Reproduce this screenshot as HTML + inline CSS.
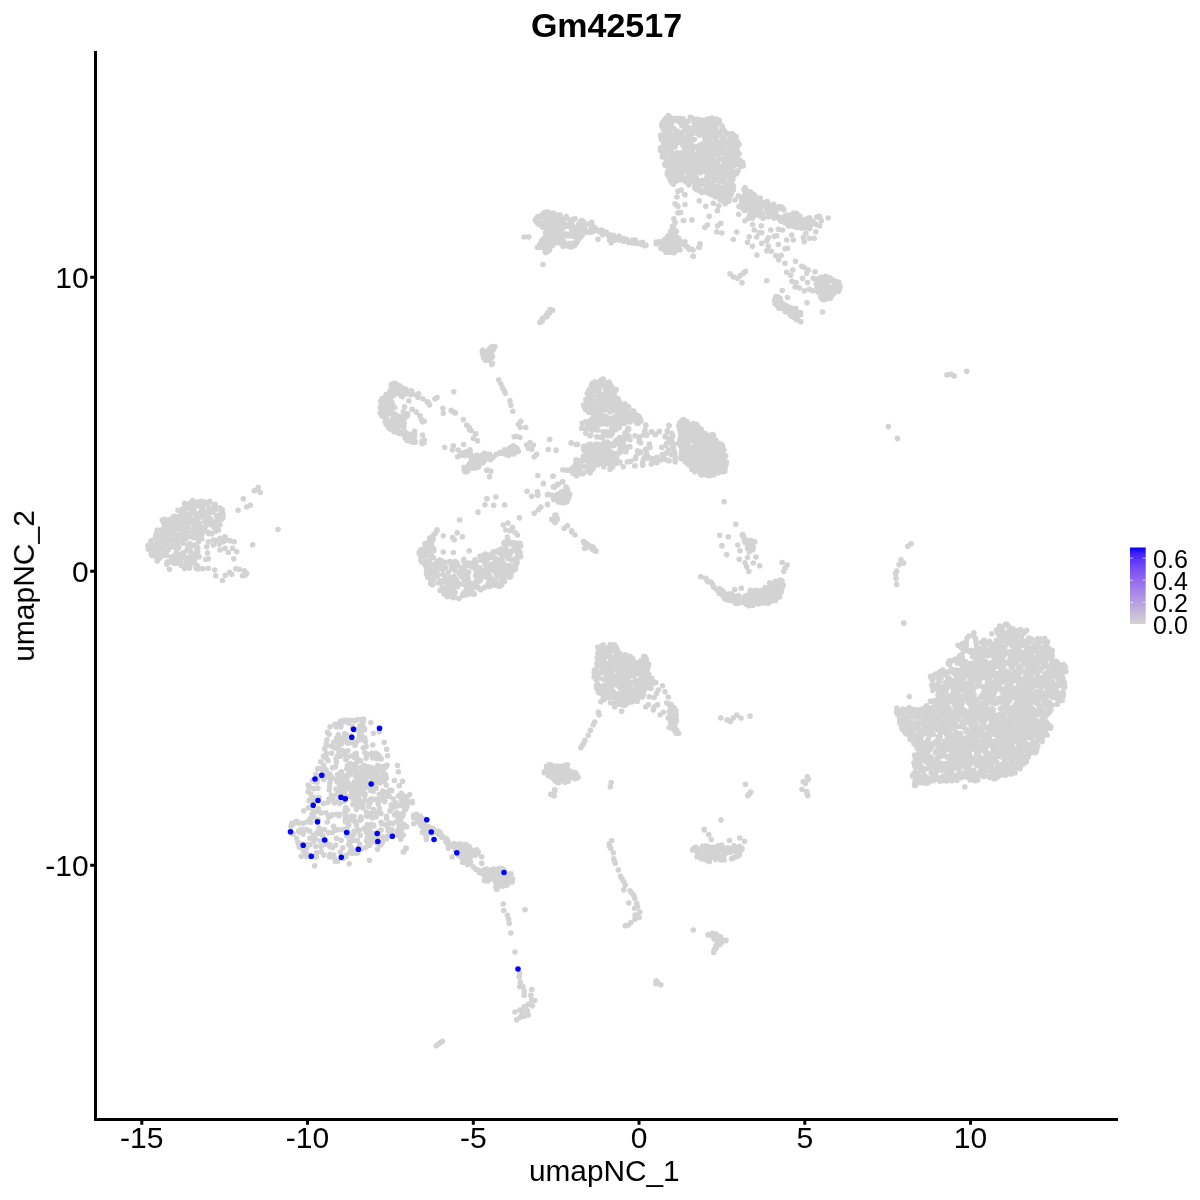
<!DOCTYPE html>
<html><head><meta charset="utf-8"><title>Gm42517</title>
<style>
html,body{margin:0;padding:0;background:#fff;}
svg{display:block}
text{font-family:"Liberation Sans",sans-serif;fill:#000}
</style></head><body>
<svg width="1200" height="1200" viewBox="0 0 1200 1200">
<defs><linearGradient id="lg" x1="0" y1="0" x2="0" y2="1"><stop offset="0.0000" stop-color="#0000ff"/><stop offset="0.0833" stop-color="#4322fc"/><stop offset="0.1667" stop-color="#5e36f9"/><stop offset="0.2500" stop-color="#7248f6"/><stop offset="0.3333" stop-color="#8258f3"/><stop offset="0.4167" stop-color="#9068ef"/><stop offset="0.5000" stop-color="#9d77ec"/><stop offset="0.5833" stop-color="#a886e8"/><stop offset="0.6667" stop-color="#b296e4"/><stop offset="0.7500" stop-color="#bba5e0"/><stop offset="0.8333" stop-color="#c4b4dc"/><stop offset="0.9167" stop-color="#ccc4d8"/><stop offset="1.0000" stop-color="#d3d3d3"/></linearGradient></defs>
<rect width="1200" height="1200" fill="#fff"/>
<path d="M723.3 138h0M700.7 155.1h0M713.8 185h0M666.8 118h0M729.4 153.6h0M696.4 179.1h0M677.1 152.7h0M661.3 135h0M695.8 159.2h0M678.5 135.8h0M677.3 156h0M729.5 164.5h0M713 131.9h0M669.1 144.8h0M719.7 178.2h0M737.8 152.7h0M728.9 174.6h0M684.5 167.3h0M733.3 190.1h0M701.5 167.4h0M661.8 136.9h0M726.1 152h0M673.5 163.9h0M718.2 174.9h0M690.5 154.2h0M701.8 184.1h0M702.8 150.2h0M692.1 130.5h0M723.9 163.1h0M731.4 136h0M707.6 156h0M681.6 163.8h0M725 187.8h0M727.1 161.2h0M706.2 153h0M706.9 133.1h0M701.4 158.2h0M689 146h0M704.3 170.4h0M710.5 155.9h0M661.2 135.7h0M673.8 167h0M731.5 185.9h0M726.1 187.5h0M715.6 122.8h0M722.6 137.5h0M668.1 170.6h0M687.9 121.6h0M672.3 162h0M673.1 139.5h0M718.9 155.6h0M686 157.2h0M660.9 149.6h0M694.4 132.1h0M701.9 133.9h0M710 187.5h0M671.2 178.9h0M672.4 177.6h0M716.1 163.5h0M726.2 161h0M677.7 172.7h0M692.2 166.2h0M686 171.1h0M663.8 141.8h0M721.6 152.2h0M728 200.3h0M707 130.6h0M718.2 160.3h0M690.8 146.1h0M676.2 174.9h0M695.4 132.6h0M683.8 159.5h0M675.8 144.4h0M687.5 134.3h0M715.8 189.3h0M737.5 145.8h0M733.3 176.1h0M678.7 179.4h0M666 130.4h0M722.9 168.4h0M729.8 147.9h0M687.6 141.2h0M732 168.7h0M670.3 164.1h0M667.7 118.9h0M725.3 188.5h0M687.6 169.7h0M724.8 148.8h0M707 135.2h0M665.8 139h0M734 165.2h0M736.9 155.8h0M715.4 123.6h0M662.3 136.6h0M668.6 130.2h0M735.6 141.4h0M680.2 157.5h0M667.3 173h0M709.2 155.1h0M685.3 121h0M677 169.9h0M741.5 163.3h0M716.9 173.8h0M680.7 163.2h0M684.8 137.2h0M665.7 140.2h0M713.9 172.2h0M684.7 144.3h0M734.2 142.2h0M687.1 163.5h0M707.7 168h0M679.4 121.9h0M705.4 121.7h0M700.5 191.5h0M671.9 159.7h0M724.3 202.3h0M728.2 143.7h0M667.9 160.8h0M736.4 141.4h0M726.7 195.5h0M729.8 181.3h0M717 131.2h0M695.4 129.4h0M719.2 174.4h0M680.2 121.2h0M705.2 163.2h0M730.7 155.4h0M692.2 145.3h0M713.4 152.2h0M707 121h0M688.8 127.7h0M669.4 138.3h0M728.8 150.6h0M692.7 169.5h0M703.5 159.6h0M713.6 154.1h0M716.8 180h0M679 159.1h0M699.3 135.3h0M693.6 164.9h0M682.1 172.5h0M662.9 121.8h0M672.3 183h0M733.3 143h0M717.3 190.3h0M690.2 177.3h0M721 167.9h0M731.1 194.5h0M739.8 165.8h0M673.7 137.6h0M677.2 165.7h0M716.4 178.7h0M688.2 160.9h0M672.8 179.8h0M727 170.9h0M724.3 189.7h0M714.5 177.2h0M726.6 153.6h0M672.8 144.2h0M709.5 151.5h0M668.8 141.5h0M711.8 168.9h0M729.3 133.7h0M682.9 163.3h0M681.9 167.1h0M680 175.7h0M725.6 186.8h0M741 163.6h0M700.3 190.9h0M723.7 165.8h0M691.2 140.5h0M723.1 201.3h0M670.4 159.6h0M707.2 142.9h0M701.3 146.9h0M696.2 155.1h0M684.6 150.7h0M724.9 175.7h0M700.4 172.6h0M690.7 133.5h0M709.3 193.2h0M728.8 160.5h0M729.3 151.5h0M684.6 130.5h0M711.2 162.3h0M691.7 153h0M708.2 180.2h0M700.4 181.2h0M712.9 172.7h0M712 151.4h0M711.9 171.3h0M730.2 183.1h0M727.6 168.9h0M688.3 138.8h0M718.6 192.5h0M704.8 128.9h0M729.1 158.2h0M698.3 119.5h0M701.9 181.1h0M694.5 146.8h0M717.1 150.9h0M717 168.8h0M676.5 133.8h0M733.6 139.2h0M703 147.9h0M702 180.4h0M673.1 173.1h0M719 187.3h0M681.6 169.2h0M678.5 164.9h0M732 144.5h0M718.5 189.9h0M711.4 143.4h0M695.3 182.6h0M725.1 132.2h0M711.7 130.1h0M710 138.6h0M703.3 127.7h0M670.5 178.6h0M689.3 181.7h0M679.2 178.8h0M719.5 142.4h0M667.8 150.5h0M700.4 124.3h0M674.6 120.4h0M709.3 193.8h0M677.1 118.5h0M718.2 187.3h0M668.8 176.5h0M666.9 150.7h0M700.6 148.8h0M673.1 135.9h0M728 156.3h0M707.8 134.2h0M719.2 144.6h0M726.1 191.1h0M685.8 149.3h0M722.8 128.9h0M671.1 174.1h0M663.7 148.9h0M669.8 156.3h0M729.7 195.4h0M681.9 125.8h0M666.6 117.9h0M712.6 181.1h0M716.8 190h0M714.8 149.8h0M713 136.9h0M708.7 146.3h0M709.9 164.9h0M702.9 120.8h0M688.7 151.9h0M694.6 173.9h0M719 181h0M719.7 181.8h0M730.9 190.6h0M663.3 123.5h0M727.4 156.8h0M696.3 126.8h0M692.2 177.9h0M703.1 123.5h0M661.8 149.4h0M720.7 143.1h0M726.9 190.9h0M684.5 152.9h0M679.6 164.6h0M686.7 145.3h0M725 199.8h0M708.1 124.7h0M713.9 155h0M729.3 177.3h0M729 141.2h0M672.1 148.1h0M702.8 124.1h0M688 166.2h0M713.8 143.1h0M684 146.6h0M686.3 181.5h0M701.1 161.9h0M686.3 144.4h0M727.7 197.1h0M670.2 161.7h0M725 177.4h0M721.8 147.4h0M692.8 156.4h0M741.5 162.4h0M673 128.6h0M716.8 165.1h0M693.5 179.7h0M663.1 124.2h0M704.9 138.9h0M667.9 138.6h0M712.2 161.9h0M665.5 121.9h0M730.6 172.2h0M660.7 147.9h0M730.4 178.1h0M709.3 191.8h0M734.2 153h0M715.8 163.5h0M720.1 187.2h0M675.9 181.3h0M723.8 160.8h0M700 151.1h0M733.3 185.7h0M708.2 119h0M730.7 155.9h0M674.9 141.9h0M669 142.2h0M740.7 163.4h0M707.1 164.1h0M703.2 163.3h0M727.9 199.5h0M693.3 171h0M684.8 142.1h0M701.6 167.2h0M672.6 171.6h0M706.6 148h0M734.4 174.5h0M730.2 149.3h0M698 185.6h0M690.3 181.5h0M699.5 145.2h0M697.3 125.8h0M688.8 152.1h0M708.6 140.8h0M702.2 180.7h0M717.2 153.7h0M724.4 158.3h0M719.2 158.8h0M666.6 126.9h0M661.1 137.8h0M692.5 179.3h0M705.2 162.6h0M705.5 152.5h0M715.5 125.9h0M681.3 140.1h0M699.3 185.4h0M731.2 184.8h0M716 123.2h0M691.7 174.4h0M683.7 160.2h0M675.8 161.4h0M704.8 134.4h0M722.9 145.2h0M681.4 163.1h0M696 182.5h0M729.9 135.6h0M682 177.7h0M693.6 127h0M675.3 164.9h0M703.8 169.2h0M671.4 152h0M682.5 176.8h0M681.4 134.4h0M689.9 157h0M687.4 168.9h0M717.4 162.6h0M663.8 144.2h0M717.1 172.3h0M727.3 194.1h0M685.5 159h0M686.7 126.8h0M670.7 138.1h0M666.3 163h0M718.2 165.1h0M716.6 135.4h0M675.7 165.5h0M733.4 152.7h0M684.6 169.7h0M666 135.3h0M687.6 168.5h0M686.7 127.8h0M716.3 119.1h0M667.6 143.4h0M681.6 119.9h0M712.7 136.8h0M716.2 139.6h0M702.3 143.9h0M726.6 172h0M730 168.9h0M732.3 151.2h0M716.1 170.2h0M703.4 165.2h0M704.1 150.2h0M734.6 171.3h0M705.2 120.2h0M701.8 130.9h0M677 153.8h0M704.9 137.6h0M681.7 162.2h0M698.8 151h0M667.6 148.4h0M714.1 163.5h0M704.8 189.9h0M719.9 175.8h0M716.4 129.2h0M733 134.5h0M729.8 190.3h0M691.1 154.2h0M668.8 168.5h0M681.6 174.3h0M726.3 168.7h0M736.4 172.2h0M690.9 165h0M733.3 156h0M724.6 168.2h0M693.3 168.9h0M663.4 157h0M668.2 127.8h0M701.7 146.9h0M735.5 173.2h0M726.5 187.7h0M679.1 165.1h0M689 129.5h0M724.4 196.3h0M688.1 173.4h0M663.6 153.8h0M690.6 141.4h0M727.7 154.4h0M717.8 171.5h0M702.6 120.4h0M715.6 194.1h0M673.4 172.1h0M700 145.5h0M673.6 178.7h0M667.3 145.1h0M725 156.1h0M698.6 158.9h0M724.1 179.2h0M675.2 154.3h0M704.6 165.9h0M671.5 148.6h0M668.1 117.8h0M665.2 131.6h0M723.5 174.3h0M726.2 140.9h0M728.5 198.9h0M660.5 150.4h0M712.3 180.4h0M735.8 162.9h0M726.7 202.1h0M735.4 173.9h0M687.8 136.6h0M724.2 197.9h0M708.2 160.7h0M694.9 185.5h0M717.9 176.4h0M714 162.8h0M668.9 172.2h0M691.5 164.8h0M713 157.7h0M685.2 140h0M693.9 167.9h0M685.7 162.6h0M696.7 159.7h0M694.1 130.3h0M692.2 149.8h0M689.2 128.8h0M706.7 190h0M724.7 170.3h0M720.5 145.1h0M670.9 138h0M688.3 140.1h0M698.3 128.6h0M669.9 137.8h0M704.2 133h0M707.6 164.3h0M691.9 132.7h0M711.6 122.3h0M721.8 149.2h0M716.4 167.6h0M669.8 163h0M665.1 136.7h0M691.1 140.7h0M677.9 178h0M688.2 162.7h0M676.5 156.3h0M708.9 169.7h0M722.5 138h0M712.3 137.2h0M676.4 160.2h0M718.6 187.7h0M670.2 178.6h0M669.1 133.3h0M723.2 148.8h0M699.5 169.6h0M681.4 171.8h0M715.5 196.7h0M701.3 190.9h0M694.4 139.5h0M669.8 164.8h0M697.2 119.4h0M716.1 119.2h0M694.5 154.4h0M674.9 160.4h0M702.9 132.9h0M697.5 189h0M673.8 128.5h0M735.3 140.7h0M726.1 189.7h0M713.4 150.2h0M735.3 157h0M737.7 164.2h0M735.6 157.5h0M694.9 167.4h0M685.6 128.7h0M708.6 190.5h0M725.3 183.9h0M725.6 166.2h0M668.4 166.1h0M687.3 148h0M705.3 171.7h0M708 158.2h0M712.4 190.2h0M696.5 159.6h0M672.4 144.1h0M671.4 125h0M685.6 160.3h0M730.7 169.2h0M712.1 187.8h0M705.3 166.1h0M711 122.1h0M681.4 122.8h0M682.7 179.5h0M681 134h0M682.2 157.8h0M721.1 142h0M696.2 147.6h0M685.5 181.6h0M708.5 174h0M732.5 152.9h0M668.6 126.9h0M708.4 126.3h0M681.4 132.8h0M719.9 134.9h0M680.2 164.1h0M676.5 140.9h0M700.2 148.2h0M691.9 173.1h0M675.3 131.5h0M716.6 141.7h0M737.6 153.1h0M711.6 174.1h0M718.6 145.8h0M665.1 152.5h0M718 186.4h0M706.4 164h0M701.1 157.6h0M716.3 166.2h0M731.2 155.2h0M698.6 188.8h0M715.9 161.7h0M706.4 186.5h0M710.1 138.3h0M685 168.8h0M662.7 155.8h0M734.1 135.9h0M696.3 177.1h0M711.7 149.3h0M695.8 172.1h0M688.9 184.7h0M721.5 142.5h0M708.6 184.9h0M732.3 133.9h0M665.8 126.1h0M669.7 176.4h0M718 131.6h0M723.5 159.9h0M707.3 147.7h0M683.6 152.5h0M703.3 156.2h0M710.1 169.9h0M712 136.9h0M692.2 134h0M721.6 193h0M684.8 159.4h0M690.1 164.3h0M732.6 160.7h0M685.7 168.7h0M708.1 141.3h0M705.1 139.8h0M666.2 158.8h0M721.9 181.5h0M690.3 135.8h0M667.5 160.9h0M702 126.9h0M675.8 141.5h0M705.3 137.6h0M678.6 134.1h0M733.7 136.5h0M705.7 155.4h0M686.8 151.3h0M712.9 182.6h0M677.3 131h0M725.9 192.9h0M671.5 119.3h0M683 145.8h0M708.6 154.5h0M725.8 174.1h0M668.9 133.3h0M721.8 125.7h0M677.4 140.7h0M680.1 152.8h0M679.8 118.3h0M680.1 132.7h0M688.4 155.5h0M732.6 173.6h0M710.8 191.7h0M691.5 153h0M709.9 125.5h0M733.5 162.4h0M722.5 148.1h0M697.4 146.5h0M692.3 157h0M673 165.5h0M732.4 178.2h0M671.5 155.8h0M711.8 127.4h0M678.7 172.3h0M685 153.2h0M716.6 121.6h0M674.6 162.6h0M675 146.9h0M740 160.2h0M732.3 191.1h0M724.8 170.8h0M715 145.6h0M661.6 139.4h0M676.6 137.3h0M730.4 144.3h0M692.9 147.2h0M667.1 127.4h0M670.8 135.6h0M685.1 160.5h0M734.9 163h0M735.1 163.3h0M707.9 157.4h0M702.1 146.8h0M695.4 122h0M670.1 133.8h0M672.7 147.5h0M663 147.2h0M710.3 175.2h0M713.2 132.8h0M687.8 166.2h0M729.5 174.6h0M685.5 157.8h0M689.8 164.8h0M670.3 121.5h0M685.8 180.9h0M709.9 194h0M707.2 157.9h0M693.9 121.8h0M674.1 144.4h0M680.2 142.5h0M683.7 171.3h0M663 153.5h0M688.9 173.1h0M706.6 166.3h0M710.2 175h0M686.1 146.5h0M692.4 161.5h0M706.7 192.5h0M692.3 155.1h0M729.1 201.1h0M679.4 179.9h0M706.9 177.2h0M706.4 159.3h0M706.3 180.9h0M672.8 167.4h0M728.2 154.1h0M716.9 173.9h0M684.5 123.3h0M722.8 147h0M672.5 154.5h0M729.1 199.6h0M673.5 158.7h0M714.1 160.4h0M669.3 138.6h0M710.9 142.6h0M705.6 153.2h0M697.5 164.2h0M673.2 169.8h0M725.3 140.4h0M690.9 173.2h0M720.8 170h0M695.9 187.3h0M696.2 189.1h0M667.1 149.6h0M696.3 131.5h0M724.3 130.8h0M709.3 131.4h0M724.3 164.5h0M730.5 154.4h0M663.4 156.8h0M737.3 156.5h0M701.7 130h0M704.5 153.1h0M699.2 128.6h0M710.4 135.3h0M727.3 134.5h0M667.6 124.6h0M663.3 128.9h0M690.5 143.8h0M700 154.7h0M721.3 142.2h0M707.9 143.1h0M722.4 130.8h0M700.1 154.8h0M697.6 162.9h0M704.1 143.4h0M728.4 199.4h0M706 171.5h0M719.9 143.7h0M708.8 156.3h0M699.7 150.2h0M704.1 134.7h0M679.2 133.1h0M709 137.1h0M702 192.6h0M707.6 192.3h0M739.1 144.6h0M737.1 150.4h0M661.6 124.7h0M729.9 192h0M665.5 133.2h0M665.3 119.1h0M732.8 174.8h0M718.2 121h0M663.4 127.9h0M683 119.4h0M711.7 195h0M667.7 164.5h0M734.9 146.9h0M707.3 119.4h0M697.5 189.1h0M711.8 118.1h0M682.9 118.8h0M660.8 135.5h0M668.6 118.6h0M718.5 120.4h0M671 177.7h0M662.3 127h0M712.9 194.6h0M680.6 178h0M665.4 165.5h0M683.9 178.1h0M664.7 163.7h0M734.7 148.2h0M674.2 118.4h0M696.5 189.8h0M732.1 189.4h0M710.6 194.1h0M664.2 134.9h0M669.6 173.3h0M668.4 115.5h0M735.5 154.5h0M664.3 136.6h0M688 180.3h0M662.7 124.4h0M720 199.8h0M703.6 191.7h0M729.7 135.6h0M732.3 184.9h0M742.6 162.2h0M722.2 126.7h0M665.8 128.3h0M679 180h0M730.8 195.1h0M686.1 178.4h0M719.4 123.3h0M720.7 197.5h0M724.6 199h0M660.7 135.4h0M694.8 188.1h0M702 120.4h0M738 170.7h0M673.5 184.1h0M733.6 172.9h0M692.1 118h0M725.2 203.7h0M667.5 174.6h0M729.7 135.7h0M690.2 117.2h0M670.4 180.6h0M670 117.5h0M732.9 179.2h0M675.5 119.5h0M717 194.5h0M738.1 143.1h0M714.8 193.8h0M667.7 166h0M686.5 182.2h0M736.1 136.8h0M720.6 196.6h0M664.9 154.2h0M740.9 166.5h0M719.2 120.4h0M735.1 172.2h0M742.9 164.7h0M662.3 156.7h0M739.2 153.7h0M737.6 141.9h0M678 191.2h0M681.2 190h0M684.5 194.5h0M677 197h0M675 203.8h0M678 206.2h0M676.2 205h0M685 204.5h0M678 213h0M680 212.5h0M673.8 218.8h0M675 222.5h0M683.8 220.5h0M691.8 220h0M672.5 226.2h0M673.8 230h0M672 233.8h0M659.5 241.7h0M662.9 243.4h0M675.2 239.8h0M669.9 251h0M667 247.4h0M673.2 243.1h0M676 239.7h0M672.1 251.3h0M672 252.6h0M663.6 249.1h0M678.6 238.6h0M669.7 234.8h0M662.4 242.9h0M668.6 252.1h0M670.9 230.8h0M677 242.4h0M672 232.2h0M675.1 242.6h0M660.9 248.2h0M672.1 235.6h0M676.8 237h0M665.3 241h0M670.2 243.2h0M667.9 243.9h0M678 240.7h0M664.5 246.8h0M679 241.1h0M664.1 242.8h0M669.7 239.5h0M671.1 236.2h0M671.8 247.3h0M668.8 235.3h0M662.9 243.2h0M673.5 226.9h0M668.2 247.2h0M674.4 233h0M675.2 238.7h0M675.7 231h0M662.1 244.8h0M676.5 239.1h0M674.5 250.2h0M674.5 244.5h0M674.4 236h0M674.1 233.9h0M672.8 250.1h0M670.7 241h0M677 246h0M676.9 242.7h0M670.7 241.2h0M669.3 235.9h0M665.8 248.6h0M667.3 249.6h0M677.5 249.3h0M669.8 250.9h0M664.3 239.7h0M662.4 244.7h0M668.6 236.5h0M656.4 242.1h0M672.1 237h0M663 243.5h0M674.7 237.4h0M656.2 244h0M678.8 244.4h0M673.6 229.8h0M675.4 251.1h0M666.1 252.3h0M670.1 248.7h0M676.5 231.3h0M667.5 236.5h0M675.1 247.3h0M676.3 242.9h0M673.2 226.3h0M661.9 244h0M666.5 241.9h0M679.1 248.4h0M668.5 236.7h0M668.8 239.4h0M674.4 252.6h0M684.5 242.5h0M686.2 246.2h0M690 248.8h0M693 250h0M698.8 247.5h0M700 243.8h0M693 256.2h0M572.8 243.3h0M563.3 221.6h0M568 235.9h0M535.2 220.3h0M547.3 220.2h0M547 252h0M589.6 223.9h0M556.7 218h0M543.4 213.6h0M553 237.2h0M555.2 224.3h0M584.9 231.8h0M553.9 231.8h0M557 236.1h0M545.6 252.6h0M546.5 243.9h0M555.7 226.3h0M566.8 244.7h0M541.1 243.6h0M568 224.5h0M553.9 218.5h0M539.2 217.3h0M544.4 212.9h0M559.4 221.2h0M571.1 247h0M562.5 229.2h0M573.3 245.3h0M543.6 247.8h0M552.6 230.6h0M594.6 230.6h0M564.5 242.7h0M564 223.5h0M559.3 217.2h0M565.2 225.6h0M539.9 222.7h0M575.4 244h0M556.8 241.6h0M551.7 232h0M574.5 236.2h0M549.9 240.2h0M563 246.5h0M574.4 245.7h0M555.9 239h0M566.4 234h0M544.6 247.4h0M592.3 231.7h0M577.1 242.3h0M575.5 229.2h0M572.9 244.7h0M561.6 239.2h0M547.9 240.8h0M563.5 220.7h0M537.7 216.6h0M554 218.7h0M546.3 212.3h0M563.1 227.4h0M549.1 250.3h0M551.6 228.7h0M541.5 247.2h0M568.1 225.6h0M584.9 229.1h0M557.2 217h0M571.2 235.5h0M572 226.2h0M557.6 229.7h0M548.4 223.5h0M594.4 227.4h0M571.2 222.2h0M560 224.8h0M552.1 231.7h0M561.8 223.6h0M582.7 221.5h0M550.9 217.6h0M571.9 231.6h0M581.3 223.9h0M567.3 225.5h0M552.7 234h0M563.1 226.6h0M580.4 236.6h0M536.6 221.8h0M560.8 236h0M578.1 238.5h0M558.2 227.9h0M538.5 247.4h0M577.3 229.7h0M552.1 245h0M563.9 234.8h0M565.1 225.3h0M548.6 246.7h0M559.9 217.8h0M569.9 243.3h0M561 224.6h0M571.4 232.2h0M592.3 227.2h0M543.7 238.4h0M550.6 234.9h0M550.1 243.6h0M566.3 216.6h0M548.9 227h0M578.4 239.5h0M540 216.2h0M571.1 221.2h0M588.5 231.8h0M537.7 217.4h0M548.2 215.9h0M573 226.3h0M548.9 225.4h0M572.3 226h0M558.2 216.7h0M584.1 229.8h0M571 235.9h0M580.1 228.1h0M546.9 212.5h0M589.3 231.8h0M572.6 229.5h0M543.9 217.7h0M557.5 227.7h0M550.1 222.9h0M544.4 223.3h0M548.9 231.9h0M576.8 240.3h0M552.4 240.3h0M546.8 211.9h0M548.6 214.2h0M556.9 224.4h0M563.3 223.2h0M544.5 221.3h0M574.3 229.6h0M566.4 226.1h0M589.9 232.3h0M549.4 213h0M550.2 228.6h0M553.3 213h0M545.5 233.1h0M559.2 234h0M539.6 224.5h0M564.4 235.8h0M557.6 238.2h0M553.4 230.4h0M541.5 224.4h0M539.8 244.6h0M585 224.5h0M542.4 214.4h0M549.5 214.5h0M560.9 236h0M549.5 213.5h0M546.7 223.3h0M557.5 215.1h0M560.4 224.5h0M580.8 235.1h0M581.3 235.9h0M550.9 246.3h0M558 216.5h0M538.5 218.2h0M550.6 240.4h0M552 213.6h0M581.5 235.2h0M542.4 226.4h0M572.2 220.9h0M560.9 226.6h0M570.5 247h0M567.1 218.3h0M578.2 230.3h0M541.7 224.7h0M590.9 231h0M561.2 230.1h0M584.7 229.1h0M558.6 220.2h0M551.5 219.6h0M569.1 226.4h0M580.8 221.4h0M556.1 221.6h0M559.1 217h0M585.7 232.2h0M536.7 218.2h0M583.6 225h0M572.9 245.8h0M545.8 227.8h0M553.7 227.5h0M563.8 241.6h0M577.2 240.1h0M567.5 245.8h0M556.8 236.8h0M576.3 233.6h0M551.9 214.2h0M570.2 244h0M578.5 224.2h0M591.8 222.8h0M580 237.5h0M547.3 233.4h0M558.5 218.6h0M558.3 215.5h0M576.9 235h0M578.5 227.2h0M553.3 222.5h0M544.7 238.5h0M581.7 220.6h0M579.3 229h0M560.7 233.9h0M590.2 224h0M562.6 240.8h0M545.6 228.4h0M561 240.5h0M583.6 233.2h0M541.6 240.9h0M547.5 238.7h0M578.9 237.3h0M552.6 245.5h0M557.5 239.5h0M593.5 230h0M560 216h0M547.8 249.3h0M595.3 229h0M545.3 241.8h0M572 221.2h0M564.6 243.1h0M574.1 243.5h0M591.1 226.6h0M546 248.4h0M544.7 215.4h0M537.9 223.7h0M572.6 219.3h0M554.8 242.9h0M542.5 226.9h0M539.9 225h0M549.5 250.1h0M547.2 229.8h0M554.6 240.5h0M577.6 235.7h0M581.7 236h0M558.9 243h0M564.5 218.7h0M543.1 244.7h0M537.4 247.2h0M575.2 218.8h0M583.7 221.9h0M560 215.1h0M579.2 238.1h0M541.2 244.1h0M565.7 244.1h0M545.2 251h0M550.3 242.9h0M591.5 222.4h0M591.7 225.5h0M545.3 226h0M554.1 215h0M592.1 226.4h0M524.2 237h0M528.8 237h0M543 264.5h0M598 239.2h0M611.2 243h0M609.5 240h0M599.4 231.6h0M598.2 230.3h0M600 230.9h0M602.2 231.7h0M603 231.3h0M601.6 230.1h0M602.4 234.7h0M606.3 232.3h0M607.6 234.2h0M609 235.5h0M608.2 235.5h0M610.7 235h0M610.5 235.7h0M611.5 235.9h0M613.4 235.2h0M612.2 236h0M615 240.1h0M614.7 238.1h0M617.2 237.5h0M619.1 236.4h0M619.5 240.1h0M619.9 238h0M623.6 238.6h0M625 240.1h0M626.6 239.6h0M623.9 241.2h0M625.4 240.5h0M629.2 241.4h0M628.4 242.2h0M631.2 242h0M632.6 240h0M632 243h0M635.3 240h0M634.4 243h0M633.6 242.6h0M637.6 242.8h0M634.8 241.8h0M637.2 243.2h0M642.4 244.5h0M642.6 242.4h0M641.5 244.5h0M643.6 244.7h0M644.6 245.7h0M645.7 245h0M646 245.5h0M540 322.5h0M541.5 321.3h0M542.5 320.7h0M542 319.1h0M544 317.5h0M545.5 316.6h0M546.7 314.7h0M547 316.8h0M547.7 312.8h0M549.4 313h0M550.1 309.6h0M552.6 310.2h0M811.7 223.6h0M800.1 216.5h0M766.2 211.5h0M790.9 224.6h0M751.8 197.2h0M762.6 214.5h0M796.7 223.5h0M769.3 206.5h0M744.9 207.1h0M816.9 217h0M759.6 210.5h0M782.2 207.6h0M774.1 205.8h0M747.5 207.3h0M779.4 206.5h0M803.8 226.9h0M796.8 227.4h0M751.6 197.7h0M794 217.6h0M796.2 213.3h0M803.1 226.5h0M755.1 202.7h0M744.8 195.9h0M779.9 220.1h0M776.2 216.6h0M770.8 215h0M793.2 225.9h0M744 206h0M745.7 189.7h0M760.8 207.4h0M763.3 218h0M783.8 209.7h0M761.6 206.8h0M781.6 207h0M781.1 208.5h0M800.5 219.1h0M767.4 201.5h0M809.7 228.6h0M785.2 223h0M789.1 225.2h0M773.8 213.8h0M753.2 194.2h0M792.8 225.5h0M769.4 204.8h0M755.3 206.4h0M754.7 215.3h0M742.3 201h0M753.7 215.4h0M752.4 205.2h0M808.4 226.1h0M796.8 226.6h0M794.1 214.1h0M752 217.2h0M757.4 203h0M753.2 196.3h0M760.1 198.1h0M793.6 213.1h0M775.8 211.6h0M748.9 204.3h0M738.9 206.4h0M797.9 214.8h0M742.4 203.9h0M782.1 218.6h0M744.7 210.4h0M750.4 191.9h0M748.5 218.4h0M811.1 223h0M790.1 215.3h0M784.1 218.8h0M795.4 214.2h0M757.1 200.8h0M753.6 214.9h0M812.8 221.4h0M768.5 216.8h0M751.7 208.9h0M773.1 208h0M785 216.1h0M779.3 217h0M809.3 227.6h0M777.3 216.4h0M743.8 203.4h0M805.9 221h0M774 218.1h0M792.1 217.6h0M786.4 220.4h0M749.4 216.3h0M753.9 194.8h0M768 213.3h0M751.7 208.7h0M808.3 226h0M744.3 204h0M744.9 187.6h0M806.2 224.9h0M795.3 218.7h0M758.2 209.3h0M805.9 227.4h0M787.2 215.1h0M758.9 203.8h0M741.5 198.1h0M775.9 217.3h0M780.7 221.1h0M769.5 211.6h0M808.6 218.1h0M742.7 208.6h0M791 219.3h0M752.3 208.6h0M773.5 204.4h0M828.2 218h0M759.9 215.9h0M753 205.1h0M801.7 224.1h0M781.5 218.7h0M806.4 222.9h0M804.9 219.5h0M785.3 222.4h0M809.6 217.8h0M819.7 225.8h0M774 209.7h0M776 210.1h0M746 189.9h0M762.9 218.2h0M814.8 223.2h0M801.5 228.1h0M748.4 205.1h0M801.7 223.6h0M819.3 216.4h0M742.5 206.6h0M786.4 220.1h0M764.3 202.6h0M760.6 203.9h0M819.7 217.4h0M743.1 200.3h0M821.4 220.8h0M810.8 224.7h0M796.6 219.9h0M761.9 217h0M768.1 208.9h0M812.9 222.4h0M762.5 202.3h0M788 215.6h0M794.6 222.6h0M797.1 225.1h0M774.7 212.4h0M816.3 224.6h0M752.6 218.1h0M784.2 218.7h0M758 212.6h0M790.7 225.6h0M750.9 193.1h0M782.2 219.5h0M754.8 204.1h0M756.5 204.9h0M746.6 202.7h0M760.3 210.7h0M743.8 196.7h0M761 205.7h0M746.7 195h0M741.8 201.3h0M754.4 212.1h0M756.9 206.4h0M756.3 207h0M755 196h0M766.7 208.3h0M750.6 194.6h0M770.4 212.3h0M743.1 206.1h0M743.6 197.6h0M770.5 209.7h0M744.5 195.1h0M744 189.8h0M758.1 200.9h0M746.7 209h0M744.9 206.5h0M744.5 200.1h0M747.4 195.8h0M770.8 211h0M750.2 213.4h0M747.4 199.3h0M767.2 206.4h0M747.4 195.5h0M743.6 204.7h0M748.4 205.3h0M752.3 201h0M758.6 212.8h0M746.5 192.5h0M736.7 173.3h0M743.3 165.8h0M738.3 195.8h0M735 200h0M685 194.7h0M685 204.5h0M680.8 212.5h0M683.3 220.5h0M692 219.7h0M699.2 200.8h0M705.8 206.3h0M713.3 203.3h0M718.7 205.8h0M717.5 210.8h0M709.2 216.2h0M707.5 225h0M704.7 227.5h0M720.8 223.3h0M717.5 225.8h0M716.7 231.7h0M721.7 233h0M736.7 232h0M733.3 239.5h0M738.7 214.2h0M745 220.8h0M752.5 224.5h0M754.2 230h0M761.3 225.8h0M761.7 232.8h0M759.2 232.8h0M770.8 230h0M778.3 229.2h0M782.5 230h0M776.7 235.8h0M774.2 236.2h0M786.7 240h0M793.3 240h0M791.7 235h0M788.3 225.8h0M756.7 237h0M749.2 236.7h0M747.5 242.2h0M752.5 246.3h0M761.7 243.3h0M766.7 240.8h0M768.3 237.8h0M768.3 246.3h0M766.7 250.8h0M771.2 251.2h0M778.3 244.5h0M785 248.7h0M787.5 248.3h0M757 255h0M775.8 255.8h0M781.2 255.3h0M778.7 259.7h0M785 263.3h0M795.5 261.2h0M801.7 266.2h0M804.2 267.5h0M808.3 270h0M815 271.7h0M792.8 270h0M786.7 272.2h0M790.8 275.3h0M806.7 273.3h0M802.5 278.3h0M807.5 282.5h0M792 281.3h0M796.2 282.5h0M795 287h0M799.2 287.8h0M804.2 290.8h0M809.2 289.2h0M812.5 290.8h0M813.3 278.3h0M803.3 237.5h0M804.2 241.7h0M809.2 238.3h0M814.2 238.3h0M815.8 231.7h0M805.8 233.3h0M822 282.2h0M833.6 292.6h0M822.8 293.3h0M825.2 295.7h0M818.2 281.3h0M837.8 284.8h0M821.8 296.4h0M831.1 279.4h0M829.1 292.8h0M819.4 292.4h0M818.3 284.3h0M817.3 280.8h0M839.8 286h0M840.1 286.9h0M830.5 298.2h0M830 292h0M819.8 278h0M837.2 288.9h0M820.1 287.3h0M820.7 296.3h0M827.8 278.2h0M828.4 277.9h0M827.3 293.3h0M828.6 287.3h0M827.4 286.9h0M830.2 278h0M827.1 281.6h0M832.9 290.4h0M838.9 286.5h0M823.9 290.3h0M838.8 282.4h0M822.8 280.4h0M831 287.7h0M821.7 285.6h0M816.1 283.6h0M824.2 282h0M820.2 281.5h0M837.1 282.4h0M821.5 291.2h0M838.2 283.1h0M834.3 285.1h0M829.3 291h0M828 297.4h0M824.4 285.5h0M839.3 289.7h0M834.6 283.7h0M838.2 291.4h0M827 284.3h0M821.8 278.2h0M820.3 293.5h0M818.8 282.2h0M826.4 289.7h0M824.8 295.9h0M821.7 285.1h0M825.9 278.9h0M820.8 279.3h0M832 281.3h0M831.5 292.6h0M824.1 299.8h0M831.7 290h0M821.9 287.7h0M838.7 289.6h0M835.1 283.4h0M818.6 285.4h0M826.5 295.9h0M827.7 289.2h0M821.5 293.2h0M825.2 287.1h0M823.9 299.8h0M828.4 297.2h0M826.3 298.9h0M817 286.9h0M829.7 296.2h0M825.8 293.2h0M839.5 286.4h0M836.8 287.9h0M825 289h0M818.3 281.3h0M821.1 282.1h0M836.8 281.9h0M832.2 293.3h0M831.5 295.6h0M825.9 281.4h0M833.9 291.8h0M832.9 280.3h0M824.6 293.5h0M824.9 291.2h0M827.1 295.1h0M824 288.4h0M836 283.6h0M836.2 286.4h0M834.4 283.1h0M821 293h0M838 288.9h0M818.3 278.8h0M819.2 291h0M836.3 282.1h0M833.1 294.5h0M825.9 276.4h0M836.7 283.2h0M821.3 277h0M821.3 292.4h0M820.6 281.1h0M817.8 291.9h0M821.9 299h0M834.5 281.1h0M831.8 280.2h0M825 278.5h0M783.8 307.4h0M785.4 306.6h0M785.2 311.6h0M795.9 318.7h0M796.4 311.9h0M779.9 303.4h0M783.4 306.1h0M795.9 308.5h0M780.2 299.7h0M782.2 307h0M790.9 307.9h0M780.2 305.7h0M784 308.8h0M782.6 308.2h0M800.5 314.6h0M792.1 315.4h0M780 298.4h0M776.2 298.9h0M776.6 299.5h0M774.5 300.8h0M779.7 305.9h0M776.7 298.8h0M780 300.4h0M792.4 315.6h0M782.2 303h0M777.1 297.9h0M787.7 308.7h0M786.9 310h0M787.8 307.7h0M792.5 313.2h0M782.5 307h0M796.4 313.3h0M775.1 304h0M785 305.3h0M779.9 306.8h0M793.9 311h0M779.9 305.4h0M800.6 312.5h0M779.9 308h0M797.5 316.3h0M792.3 311.2h0M794.6 317.8h0M788.1 310.6h0M794.7 317.5h0M799.9 313.4h0M779.4 306.4h0M778.8 298.2h0M795.6 314.4h0M794.3 309.2h0M778.3 297.4h0M790 310.6h0M777.8 306.2h0M800.5 314.7h0M795.3 313.7h0M797.1 319h0M791.8 309.3h0M788.6 307.5h0M794.5 309.9h0M777.7 304.4h0M775.6 297.9h0M794.7 309.8h0M796.7 319.7h0M778.4 304.5h0M787.5 306.2h0M779 308.2h0M778.7 299.3h0M794.8 313.3h0M789.9 314.4h0M791.6 316.3h0M776.2 296.6h0M782.2 290.5h0M787.5 297.5h0M807 302.8h0M822.5 312h0M800.8 321.7h0M730 273.7h0M733.3 276.7h0M737.5 278.3h0M740 275.8h0M743.3 273.3h0M745.5 271.2h0M742 282.8h0M766.7 280.8h0M685 241.7h0M683.3 244.2h0M687.5 246.7h0M689.2 249.5h0M692.5 249.5h0M693.3 256.2h0M699.2 247.5h0M700 244.5h0M680 240.8h0M680 250h0M492.4 363.4h0M484.7 357.8h0M482.3 351.2h0M483.9 351.2h0M487.2 357.6h0M485 358.9h0M493.8 349.1h0M490.5 350.8h0M489.8 353.9h0M489.2 353.6h0M490 355.4h0M493.5 347h0M490.6 351.1h0M491.8 364.4h0M488.8 360.5h0M482.5 354.1h0M492.1 346.5h0M490.8 350.8h0M484 355.1h0M490.8 355.6h0M482.8 351.1h0M482.6 350.3h0M485.3 356.1h0M483.6 357.8h0M491.6 348.3h0M490.1 353h0M489.9 356.7h0M494.8 346.5h0M485.4 360.1h0M483 353.3h0M488.7 351.7h0M491.9 351.4h0M492.4 356.4h0M490 348.2h0M494.5 346.9h0M482.8 350.3h0M492.4 357.1h0M488.9 349.9h0M498.7 379.7h0M500.8 383.7h0M502.5 387.5h0M504.2 390.8h0M505.3 393.3h0M510 400.8h0M510.8 405.3h0M512.8 411.2h0M520.8 421.3h0M518.3 424.2h0M520.3 427.5h0M525.8 427.5h0M514.2 436.7h0M516.7 436.3h0M520 437.5h0M393.8 385.4h0M399.7 387.1h0M417.8 397.3h0M387.5 395.3h0M402.7 396.6h0M410.5 393h0M416.6 395.2h0M401.8 392.9h0M410.7 390.9h0M400.5 391.1h0M394.2 383.3h0M386.1 394.6h0M405.5 389h0M395.3 388.6h0M428.3 402.7h0M394.7 394.3h0M418.7 393.7h0M396.9 388h0M387.9 394.5h0M398.2 386.3h0M392.8 383.7h0M402.9 388.2h0M392.4 396h0M427.2 401.9h0M398.4 388.2h0M406 390.5h0M393.4 394h0M404.6 391h0M391.2 388.2h0M399.7 385.8h0M401.1 391.7h0M422.9 398.7h0M402.1 389.4h0M392.5 393.4h0M399.4 388.2h0M401 392.1h0M396.1 385.6h0M389.9 391.4h0M389.2 394.6h0M397.1 393.2h0M401.3 396h0M429.6 404.7h0M406.3 391.8h0M389.1 393.8h0M395.6 387h0M395.9 391h0M401.3 388.7h0M391 389.6h0M399.5 392h0M395.1 386.2h0M387.6 394.2h0M407.9 393.7h0M392.6 383.8h0M411.1 394.7h0M396.1 385.5h0M417.4 394.8h0M403.4 388.5h0M400.4 388.9h0M401.7 394.2h0M403.7 392.6h0M411.8 391.3h0M404.1 393.8h0M395 387.7h0M391.3 384.3h0M394.4 395h0M398.5 386.9h0M411 391h0M395.8 391.1h0M403.8 389h0M399.7 388h0M391.3 392.2h0M395.2 383.3h0M390.4 395.1h0M396 384.7h0M412.4 393.1h0M400.1 425.9h0M400.5 423.4h0M391.8 426.8h0M394.1 430h0M388.3 407.5h0M398.6 424.5h0M381.2 414h0M383 401.9h0M393 420.1h0M393.8 431.4h0M385.7 418.7h0M386.3 419.2h0M392.6 425.6h0M386 403.4h0M392.1 407.7h0M392 423.3h0M400.1 424.9h0M394.8 416.8h0M390.8 410.6h0M385.1 407.4h0M387.3 408.5h0M386.3 415.7h0M386.5 410.1h0M404.1 415.2h0M391.9 403h0M395.3 421.1h0M383.9 401.8h0M384.1 402.2h0M385.4 418.3h0M385.9 407.5h0M401.2 417.9h0M386.6 399.1h0M388.7 423.2h0M403.3 422.2h0M385.2 405h0M387.7 420.4h0M388.4 405.1h0M407.2 416h0M397.6 416.6h0M407.4 414.5h0M388.5 399.9h0M391.9 428.9h0M389.2 412.4h0M381.6 414.9h0M387.5 424h0M403.7 417.1h0M389.3 403.7h0M399.8 420.6h0M384.8 401.8h0M405.4 414.8h0M397 421.4h0M383.1 414.9h0M392 426.9h0M393.9 413.7h0M407.7 413.7h0M384.5 403h0M386.1 413.3h0M394.8 407.5h0M392.7 422.5h0M386.9 420.2h0M395.3 414.4h0M394.5 418.3h0M400.8 425.7h0M389.6 426.7h0M401.9 418.3h0M382.2 402.5h0M391.6 414.3h0M401.2 417.7h0M386.7 421.8h0M384 415.3h0M387.2 401.7h0M386.2 399.5h0M404.2 423.5h0M388.2 400.3h0M394.3 427.3h0M386.9 422.3h0M390.2 402.4h0M382.8 407.2h0M386.1 420h0M396.5 428.4h0M396 417.4h0M382 409.2h0M394 423h0M399.1 419.1h0M398.8 416.3h0M390 428.9h0M382.3 412.9h0M396.3 419.2h0M385.3 421.9h0M406.5 416.6h0M385.7 412.2h0M385.7 413.6h0M388.2 401.4h0M383.3 406.7h0M392.7 405.6h0M380.8 401.5h0M380.1 412.7h0M391.5 421.2h0M403.8 427.1h0M382.6 416.2h0M382.7 407.2h0M390.1 410.5h0M381.6 402.3h0M380.3 407.2h0M396.9 427.9h0M385.4 422.6h0M404.4 418.6h0M391.3 409.6h0M382 398.8h0M383.1 413.4h0M390.4 400.2h0M386.3 422.2h0M402.4 417.3h0M387.9 409.5h0M381.6 405.1h0M402.6 421.8h0M391.5 423.7h0M390.1 407.1h0M390.6 412.5h0M394.4 414.1h0M390.5 409h0M386.2 424.3h0M383.4 410.5h0M398.1 421.1h0M387.3 399.3h0M388.6 427.5h0M382.7 401h0M393.1 418.2h0M391.6 401.9h0M380.7 407.7h0M407.5 414.9h0M386.2 409.1h0M383.2 398.4h0M386.1 419.2h0M383.5 405.9h0M422.1 441.1h0M422 443.4h0M405 437.8h0M413.3 441.5h0M409.2 437.4h0M397.7 431.4h0M412.8 440.1h0M397.1 431.7h0M406.7 436.8h0M415.2 441.6h0M410.7 438.3h0M404.9 436.2h0M397.8 432.7h0M396.9 430.6h0M405.4 432.3h0M400.3 433.7h0M424.3 440.1h0M399.1 433.3h0M412.7 441.2h0M402.3 432.6h0M404 433h0M412.2 441.6h0M397.6 431.1h0M414.6 434.6h0M414.5 433.5h0M402.7 433.8h0M395.9 431.2h0M407.6 439.1h0M404 431.7h0M407.3 436.7h0M405.2 437.9h0M409.8 434.4h0M398.3 431.4h0M413 434.4h0M415.3 442.1h0M413.7 442.3h0M407.1 440.4h0M406.7 435.4h0M414.2 437.4h0M406.9 438h0M400.8 432.3h0M412.5 441.4h0M414.3 437.1h0M408 434.1h0M410.5 435.2h0M403.2 433.3h0M414.8 442.5h0M424 442.8h0M410.9 441.5h0M411.9 436.2h0M408.8 400.7h0M404.6 406.7h0M403.3 411.7h0M412.1 409.2h0M416.2 412.1h0M420 415.8h0M421.2 419.2h0M422.5 421.7h0M424.2 421.2h0M422.5 435h0M414.6 431.2h0M435 398.8h0M437.1 397.5h0M453.8 391.8h0M442.9 408.3h0M443.3 413.3h0M451.2 410.4h0M453.3 412.1h0M455.4 412.9h0M463.3 419.6h0M467.1 425.4h0M469.6 430h0M463.3 419.5h0M466.7 425h0M469.2 427.5h0M471.3 430.5h0M475.8 433.8h0M473.3 438.3h0M477.5 440.8h0M444.7 447.2h0M453.3 445.8h0M452.5 450h0M463.7 444.5h0M458.3 450h0M460.8 453.3h0M457.5 456.7h0M465.8 451.7h0M470 449.7h0M466.3 471.8h0M468.4 469.6h0M500.1 452.5h0M474.5 463.6h0M476.2 459.3h0M514.9 452.7h0M470.7 455.1h0M508.7 455.3h0M471 465.9h0M472 463.8h0M479.9 463.4h0M493.1 457.3h0M484.9 460.1h0M482.5 454.9h0M500.7 453.2h0M472.3 466.9h0M479.7 458.9h0M481.1 460.8h0M484.3 455.8h0M464.1 467.2h0M489.5 454.4h0M467.6 455.3h0M470.2 452.1h0M517 451.2h0M482.1 461h0M482.9 462.7h0M477.2 455.2h0M479.6 460.1h0M512.1 449.7h0M517.3 449.5h0M462.8 453.8h0M468.1 453.6h0M475.7 463h0M510.5 452.2h0M464.5 467.9h0M478.2 463.7h0M506.3 451.7h0M465.3 468.4h0M476.9 461h0M513.8 453.9h0M464.8 468.3h0M478.3 456.5h0M466.7 452.7h0M510 450.2h0M504.1 453.4h0M507.1 452h0M474.1 467.9h0M471.9 468h0M462.9 454.3h0M478 460.5h0M507.3 452.2h0M481.9 460.2h0M509.2 448.6h0M471.5 459.5h0M513.5 447.5h0M486.9 455.4h0M469.8 463.5h0M475.4 455.8h0M464.5 454.8h0M466.1 468.4h0M484.6 453.2h0M464.9 467.5h0M506.8 454.8h0M485.4 456.3h0M478.3 466.9h0M469.5 468.1h0M471.5 457.2h0M467.8 471.1h0M478.8 458.9h0M479.3 457h0M479.2 461.8h0M513.2 447h0M465.9 471.8h0M464.2 469.2h0M479.2 465.2h0M490 457.1h0M513 450.4h0M489.4 456.6h0M512.4 451.3h0M463.6 452.9h0M516.7 451.2h0M467.3 454h0M479 465.8h0M484.3 459.2h0M475.9 467.7h0M474.9 458.3h0M505.6 450.1h0M504.6 449.9h0M476.6 456.6h0M506.5 454.7h0M472.1 466.2h0M477.8 466.1h0M516.8 448.2h0M469.7 465.2h0M475.3 462.9h0M509.5 449.2h0M505.3 451.4h0M461.8 455.2h0M469.4 464.2h0M471.9 463h0M465.5 455.6h0M468.8 465.3h0M464.9 453.1h0M515.6 447.4h0M510.6 447.4h0M465.7 453.8h0M518.4 451.2h0M513.2 445.9h0M465.9 452.4h0M483 458.7h0M471.5 458.5h0M463.1 454.2h0M462.8 455.2h0M496.1 454.5h0M460.5 454.4h0M476.4 458.2h0M464.9 471.6h0M505.4 452.7h0M510 453.2h0M490.6 459.4h0M470.6 456.1h0M526.7 445h0M530 442.5h0M533.3 445h0M531.7 449.2h0M536.7 454.2h0M534.2 456.7h0M528.3 448.3h0M549.7 439.5h0M548.3 449.5h0M556.2 450h0M487.5 470h0M490.8 471.3h0M489.5 476.7h0M537.8 475.5h0M552.8 476.3h0M543.3 483.3h0M553.3 486.7h0M558.3 484.2h0M527 491.2h0M531.7 496.2h0M537.5 492.5h0M538 495.3h0M548 494.2h0M547.5 504.5h0M540.8 507h0M538.3 509.7h0M534.2 513.3h0M519.5 517.8h0M495.8 497h0M487 498.7h0M485 504.7h0M493.7 505.3h0M504.7 505h0M478 512h0M459.5 520h0M555 515h0M552.5 519.2h0M614.2 396h0M594.9 394.2h0M605.9 416.3h0M596.8 383.6h0M621.9 423.3h0M615.7 418.2h0M589.2 407.8h0M587.3 393.4h0M601 423.7h0M606.6 422.5h0M600.2 409.5h0M612.6 429h0M611 433h0M597.5 394.1h0M623.3 418.2h0M612.6 403.6h0M595.8 391.7h0M604.3 404.2h0M625.9 415.1h0M612.5 401.3h0M619.2 401.4h0M629.3 416.4h0M612.9 420.9h0M601.4 419.1h0M589.6 398.7h0M597.5 401.9h0M628.7 416h0M584.8 404.9h0M611.7 428.3h0M605.4 383.6h0M594 412.6h0M610.5 387.6h0M607.5 435.4h0M604.9 423.1h0M602.6 406.9h0M608.8 385.2h0M611.2 423.3h0M616.2 389.6h0M596.8 407.3h0M588.8 391h0M622.8 412h0M625 409.2h0M600.4 413.8h0M591.4 392.6h0M623.6 413.8h0M590.7 404.9h0M592.3 403.3h0M599.5 420.8h0M606.9 396.1h0M598.5 385.1h0M626.2 406.1h0M632.7 413.3h0M590.6 407.1h0M612.7 397.9h0M628.8 407.2h0M609.1 383h0M599.2 413.7h0M613.8 401.8h0M613.7 429.3h0M620 415.7h0M607.9 395.3h0M589.2 389.7h0M607.5 386.8h0M615.8 429.8h0M619 414.7h0M610.7 400.9h0M610 399.1h0M605.6 389.8h0M596.3 394h0M591.1 408.2h0M633.2 419.8h0M619.5 423.5h0M618.3 426.8h0M589.2 410h0M588.4 392.2h0M602.9 420.1h0M636.3 415h0M602.1 420.1h0M633.4 412.1h0M610.6 391.2h0M599.9 402.3h0M611.8 398h0M610.4 435.8h0M618.4 412.4h0M619.7 403.5h0M590.7 389.4h0M605.5 410.1h0M610.5 405.5h0M597.6 389h0M607.4 384.1h0M592 394.7h0M600.2 405.3h0M603.8 417.7h0M600.4 403.2h0M628.8 416.4h0M609.1 402.4h0M615.5 416.5h0M606.5 435.3h0M611.1 402.2h0M627.8 408.1h0M606.9 399.8h0M605.4 418.3h0M586.9 404.4h0M606.2 386.5h0M585.9 399.6h0M592.5 407.9h0M613.6 417.6h0M607.9 401.7h0M610.2 406.7h0M608.2 432.1h0M631.1 417.3h0M587.5 408.5h0M595.8 404.9h0M603.4 394.6h0M600.7 380.9h0M608.4 418h0M632.8 414.8h0M584.4 406.9h0M637.1 416.9h0M623 422.1h0M594.6 387.9h0M618.6 424.7h0M637.1 415.3h0M616.3 405.5h0M606.2 397.4h0M611.4 420.1h0M604.8 396.4h0M617.9 398.5h0M636.6 420.6h0M604.2 397.8h0M619.4 427.6h0M612.6 429h0M619.5 417.8h0M619.2 426.1h0M609.1 419h0M619.2 406.5h0M618.2 415.8h0M632.9 411h0M591.4 388.5h0M613.7 410.4h0M603.6 405.3h0M599.1 390.6h0M598.3 386.1h0M636.4 422.6h0M593 384.7h0M600.3 401.7h0M630.4 415.5h0M627.7 407.9h0M609.1 423.4h0M590.7 399.1h0M597.8 384.9h0M594 390.2h0M613.2 418.6h0M607 424.1h0M600.5 423.3h0M610 420.5h0M640 419.1h0M585.2 409.1h0M632.2 412.7h0M628.7 415.2h0M625.2 422.8h0M591.5 399.1h0M620.4 420h0M586.5 401h0M621.3 413h0M638.8 416.3h0M610.7 385.5h0M601.3 397.1h0M606.2 431.7h0M598.6 403.7h0M621.7 422.4h0M610.4 412h0M621.8 408.3h0M597.5 390.7h0M589.5 397.7h0M617.6 409.2h0M612.5 390.3h0M622.2 416.8h0M611.6 402.1h0M611.5 399.3h0M613.9 392.8h0M600.7 380.2h0M589.2 412.5h0M598.1 417.8h0M601.6 416.9h0M612.5 396.1h0M585.2 406.1h0M604.3 382.5h0M591.9 388.1h0M593.9 407.2h0M600.1 386.6h0M627.5 413.2h0M618.6 412.4h0M608.6 392.9h0M599.2 394.3h0M609.5 383.6h0M606.6 386.6h0M611 403.5h0M604.4 397.9h0M610.7 431.3h0M623.9 412.8h0M612.3 387.9h0M597 399.2h0M630.1 422h0M604.2 416.4h0M601.3 396.2h0M591.3 386h0M605.2 409.1h0M601.8 409.6h0M601.4 399.2h0M592.9 385.4h0M592.8 383h0M587.4 410.4h0M634 419.4h0M601.7 394.9h0M612.9 407.6h0M614.8 391.8h0M618.2 412.4h0M615.8 420.7h0M587.6 410.6h0M634.6 415.9h0M601.1 409.7h0M616.6 403.9h0M599.2 417h0M595.1 381.9h0M605.3 398.6h0M590.3 390.7h0M594.6 410.2h0M623.9 423.3h0M600.6 413.3h0M608.2 389.1h0M630.4 419.1h0M626.7 415.4h0M587.3 410.4h0M603.1 431.8h0M613.8 424.8h0M618.4 407.5h0M596 385.9h0M593.6 389.3h0M607.1 419.2h0M602.1 385.6h0M625.5 421.5h0M608.7 405.6h0M604.5 423.6h0M591.5 387.9h0M598.2 394.4h0M617.7 424.8h0M590.4 399h0M633.8 411.1h0M615.3 389.8h0M594.4 411.4h0M595 384.6h0M636.8 422.3h0M618.4 403h0M584.4 406.5h0M628.2 420.4h0M597.4 413.4h0M601.7 382.1h0M627.6 421.4h0M587.4 409.9h0M640.1 418.2h0M628 406.3h0M637.2 420.6h0M612.2 434h0M586.6 404.2h0M618.6 427.8h0M624.7 403.8h0M640.9 421.1h0M600.9 380.9h0M593.7 414h0M627.7 407h0M623.9 407h0M587.6 399h0M609 382.1h0M603.6 381.3h0M638 423.5h0M597 414.4h0M588.9 408.8h0M614 394h0M588.7 394.7h0M585.7 406.2h0M600 424.4h0M588.4 397.1h0M623.2 404.8h0M603.1 379.1h0M599.3 417.5h0M631.5 419.5h0M587.9 406.8h0M626.3 419.7h0M595.2 412.1h0M592.1 383.5h0M633.9 414.3h0M585.3 405.4h0M583.6 405.1h0M615 397.9h0M590 421.7h0M581.7 428.3h0M585.8 433.3h0M595 424.2h0M590 435.8h0M587.5 426.7h0M593.3 430h0M628.3 428.3h0M596.7 436.7h0M582.6 472.7h0M592.5 466.5h0M610.4 459.6h0M605.9 445.9h0M585.2 447.2h0M582.9 473.7h0M575.6 469.7h0M605 461.2h0M597.2 449.4h0M584 450h0M591.5 469.7h0M589.9 465.8h0M611.4 462.9h0M594 459.1h0M604.2 448.3h0M610.8 459.2h0M600.3 446.3h0M607.2 452.4h0M590.5 444.4h0M583.4 447.3h0M577.8 468.5h0M597.1 458.2h0M613.7 454.6h0M604.1 464.9h0M606.4 454.6h0M590.2 472.8h0M567.3 470.2h0M580 460.5h0M612.5 458.9h0M576.5 475.7h0M583.4 466.3h0M593.1 447.9h0M593.3 467.6h0M576.1 444.5h0M586.4 457.9h0M599.8 459.5h0M578.3 470.9h0M608.8 450.8h0M591.4 460h0M606.1 456.9h0M580.1 473.5h0M590 446.7h0M607.5 456.1h0M608.2 462.6h0M596.2 444.1h0M594 458.5h0M613 458.6h0M587.2 471.3h0M611.3 466.4h0M613.7 453.6h0M604.8 463.3h0M597.9 464.6h0M595.1 451h0M610.3 451.3h0M601.5 463.2h0M598.8 453.6h0M588.4 464.9h0M575.9 463.2h0M610.8 466h0M587.8 468h0M590 460.4h0M599.7 456.8h0M573.1 470.4h0M604.7 450.8h0M573.2 467.4h0M610.9 453.5h0M601.5 453.9h0M588.1 445h0M604.9 449.6h0M595.9 444.4h0M593.6 465.7h0M590 448.1h0M588 445h0M588.9 459.1h0M590.1 470.4h0M583.7 446.2h0M592.1 465.9h0M571.2 442.9h0M580.3 470.9h0M599.7 454.3h0M589.3 452.9h0M577.3 465.7h0M604.6 464.3h0M607.5 449h0M574.6 468.3h0M577.4 444.4h0M603.8 466.7h0M606.3 448.7h0M592.9 468.9h0M570.9 470.3h0M604.5 464.8h0M581.6 460.9h0M587.5 445.2h0M599.8 444.7h0M575.6 467.4h0M599 444.6h0M566.7 470.2h0M586.4 447.9h0M573.1 473.5h0M611.8 463.5h0M585.9 453.1h0M592.6 464.3h0M580.5 473.2h0M576 459.7h0M592 467h0M571.1 469.4h0M582.8 460.3h0M578.7 465h0M601.8 447.5h0M583.7 459.4h0M612.4 462.5h0M583.3 456.3h0M616.8 457.3h0M594.4 458.8h0M599.7 463.5h0M600.4 455.5h0M601.5 456.4h0M590.6 451.4h0M594.1 452.3h0M590 459.2h0M598.6 461.3h0M586.8 450.9h0M589.7 458.3h0M599.7 462h0M601.3 458.8h0M596.2 454.4h0M590.7 453.1h0M594.5 459.1h0M595.1 455.9h0M592.6 453.7h0M599.3 458.7h0M598.1 462.2h0M590.1 451.8h0M590.2 463.6h0M598.9 456.1h0M598.6 455.1h0M600.1 451.4h0M598 464.7h0M592.5 456.9h0M587.6 454.1h0M589.3 454.4h0M586.5 454.5h0M587.1 457.9h0M592.3 453.4h0M601.4 454.6h0M594.4 463.4h0M598.3 464.5h0M595.7 463.1h0M586.5 461h0M591.1 454.8h0M598.5 461.1h0M621.7 440h0M627.5 438.3h0M629.2 446.7h0M625.8 451.7h0M617.5 453.3h0M616.7 463.3h0M623.3 466.7h0M628.3 461.7h0M635 465.8h0M637.5 450.8h0M640.8 452.5h0M635.8 456.7h0M639.2 441.7h0M635 435.8h0M640 436.7h0M645.8 434.2h0M645 430h0M645.8 425h0M651.7 431.7h0M655 434.2h0M659.2 431.7h0M649.2 444.2h0M650 447.5h0M645.8 449.2h0M646.7 454.2h0M643.3 460h0M642.5 464.2h0M651.7 463.3h0M648.3 458.3h0M656.7 458.3h0M656.7 462.5h0M663.3 455h0M666.7 460h0M661.7 447.5h0M668.3 450h0M666.7 443.3h0M665 436.7h0M667.5 431.7h0M669.2 425.8h0M671.7 433.3h0M671.7 440h0M673.3 446.7h0M675 453.3h0M675 460.8h0M669.2 460.8h0M660.8 460h0M653.3 460h0M664.2 458.3h0M618.3 443.3h0M623.3 443.3h0M615 460h0M620 462.5h0M705 462.5h0M714.7 469.1h0M705.9 462.3h0M715 472.8h0M691.7 440.2h0M713.2 452.9h0M714.8 440.1h0M713.4 440.7h0M680.9 432.6h0M694.2 428.1h0M686.4 423.2h0M686.2 423.4h0M722.5 450.6h0M702.4 441.9h0M697.3 434.3h0M707.3 475h0M702.8 462.8h0M721.5 467.1h0M710.9 450.8h0M683.2 440.9h0M719.8 444.6h0M716.5 466.1h0M686.9 426.4h0M721.7 454.6h0M699.9 441.9h0M681 441.6h0M703.7 454.8h0M707.8 435.8h0M705.7 439.3h0M700.7 458.8h0M721.3 456.8h0M683.4 459.3h0M700.5 433.1h0M698.4 445.9h0M717.7 459h0M702.3 465.3h0M716.3 458.2h0M725.1 463.3h0M690.2 427.4h0M697.8 433.9h0M689.5 450.5h0M702.8 442h0M699.8 444.6h0M708 469.3h0M707.3 439.7h0M698.8 452.1h0M689.1 465.1h0M696.4 440.2h0M684.3 441.6h0M715.8 446.5h0M708.4 468.1h0M719.3 443.8h0M714.7 445.6h0M683.9 452.9h0M682.8 439.2h0M692.3 463h0M694.7 445h0M688.1 443.5h0M682.7 440.7h0M695.6 437.5h0M691.8 430.3h0M701.3 429.3h0M720.5 448.2h0M680.5 433h0M692.7 429.7h0M705.3 449.3h0M711.6 438h0M696.4 468.7h0M682.4 429.9h0M686.7 435.2h0M701.5 445.9h0M708.1 447h0M684.9 461.3h0M694.9 471.7h0M684.9 452.4h0M715.7 454.7h0M696.2 436.9h0M687.9 433.4h0M690.7 453.1h0M686.2 422.2h0M710.3 449.9h0M702.1 438.1h0M696.3 424.4h0M703.1 448.3h0M697.5 431.7h0M705.4 439h0M699.7 464.7h0M707.6 464.8h0M716 453.9h0M703 466.6h0M682.2 456.5h0M706.9 467.7h0M713.8 466h0M705.1 473h0M689 436.6h0M717.5 454.5h0M705.2 433.5h0M704.3 467.6h0M710.7 446.1h0M682.2 420h0M717.8 448.7h0M680.6 437.9h0M686.1 449.3h0M699.1 468.8h0M718.1 473h0M707.8 460.9h0M697.9 434.4h0M685.2 441.1h0M713.7 474.9h0M706.6 454.5h0M718 467.5h0M686.3 442.6h0M680.7 426.1h0M687.4 448.4h0M688.9 425.6h0M707.7 472.6h0M698.9 433.8h0M720.2 459.7h0M709.1 467.4h0M718.2 460.6h0M693.3 423.5h0M709.2 451.1h0M715.3 462.1h0M686.5 440h0M681.8 433.7h0M700.3 450.5h0M713.8 453.5h0M710.9 458.8h0M705.4 457.3h0M703.8 437.7h0M697.6 449.1h0M700.3 429.9h0M699.9 429.7h0M697.5 462.4h0M683.8 445.3h0M713.3 462.4h0M681.8 427.1h0M726.5 462.2h0M701.2 453.6h0M705.1 449.4h0M699.9 451.5h0M716.1 455h0M712.3 447.5h0M690.3 433.7h0M682 448.4h0M711.6 435.1h0M692.4 461h0M690.8 463.5h0M685.9 436.8h0M692.1 448.8h0M700.2 437.4h0M695 471.2h0M699.4 438.2h0M687.4 424.2h0M685 447.7h0M704.6 470.4h0M703.2 460.9h0M696.6 447.8h0M695.8 467.3h0M687.1 463h0M705.9 473.9h0M718.2 468.4h0M679.7 429.2h0M722.7 450.6h0M702.8 467.2h0M702.3 444h0M698.2 446h0M704.8 472.4h0M691.9 469.5h0M682.2 430.8h0M726 464.4h0M716.1 471.5h0M696.5 424.9h0M696.8 454.4h0M710.8 448.7h0M688 444.2h0M722.7 460.4h0M692.9 468.2h0M695.8 449.3h0M707.5 473h0M708 456h0M701.2 450.4h0M712.9 446.6h0M708.4 475.6h0M717.6 449.1h0M716.6 449.2h0M694.4 464.8h0M696.9 468.9h0M722.2 463.8h0M681.7 434.5h0M683.2 431h0M697.3 432.5h0M706.1 441.1h0M716 459h0M704 435.7h0M688.4 432.2h0M710.3 458.7h0M687.9 426.2h0M693 449.1h0M721.2 445.9h0M686.6 446.6h0M685.9 427.8h0M679.9 440.1h0M713 455.7h0M702.3 469.1h0M723.2 458.3h0M701.8 470.4h0M707.8 445.5h0M687.1 424.6h0M686.6 432.1h0M687.1 446h0M683.5 452.5h0M679.9 422.9h0M702 449.3h0M682.7 423.8h0M717.7 445.6h0M715.7 467.4h0M699.7 438.9h0M714.7 446.8h0M691.6 461.4h0M695.1 447.2h0M695.3 462.4h0M697.8 435.6h0M714.7 457.7h0M687.6 422.8h0M680.9 426.4h0M710.5 451h0M724.1 460.7h0M693.2 456.2h0M687.1 456.9h0M681.1 435.9h0M694.3 434h0M713.3 440.5h0M713.2 461.7h0M699.9 461.9h0M684.1 436.6h0M682.8 441.9h0M692.8 426.7h0M680.8 446.5h0M696.5 457.6h0M716.6 444.1h0M686.3 422.8h0M683 440.1h0M688 445.9h0M705.1 433.6h0M698.5 446.3h0M717.2 465.5h0M699.6 457.2h0M694.7 440.1h0M680.9 458.4h0M722.8 471.7h0M695.2 458h0M706.4 454.4h0M700.9 436.7h0M702.4 454.1h0M695.2 446.7h0M694.2 468.1h0M714.2 465h0M681.5 432.8h0M708.8 460.2h0M686.9 421.8h0M698.9 445.9h0M681.3 442.9h0M719.6 445.4h0M716.9 464.6h0M689.1 455.2h0M678.8 443.4h0M689.1 448.8h0M689.4 435.2h0M695.4 433.5h0M712.9 453.9h0M715.7 472h0M683.2 450.8h0M697.5 446.3h0M684.6 424.8h0M696.8 453.4h0M704.3 460h0M698.5 447.4h0M707.5 469.6h0M693.6 438.2h0M695.5 468.4h0M710.2 469.8h0M683.9 422.5h0M691.2 452.6h0M711.8 465.5h0M683.8 419.5h0M708.3 435.9h0M714.8 468.9h0M698.9 437.4h0M683.4 449.4h0M720 447h0M680.6 445.5h0M699.2 453.7h0M696.8 467.8h0M688.8 432.4h0M724 459.4h0M692.4 434.6h0M725 456.8h0M716.5 444.3h0M689.3 452.7h0M693.5 467.1h0M688.7 458.3h0M725.2 462h0M702.4 468.9h0M713.9 440h0M715.4 448.4h0M689.5 448.9h0M704.8 442.8h0M710.9 472.8h0M681.3 456.2h0M723.7 459.8h0M702.4 441.4h0M712.3 445.3h0M681.6 439.3h0M687.1 459.7h0M707.6 464.4h0M703.1 458.1h0M711.3 443.7h0M698.3 455.5h0M697.8 426.8h0M693.3 439.4h0M722.5 462.3h0M688.9 434.2h0M709.1 447.6h0M709.3 470.4h0M690.4 447.7h0M694.7 456.7h0M706.3 459.7h0M710.7 458.5h0M688.3 443.1h0M710.5 473.1h0M682.1 458h0M685.8 437.6h0M713.9 469.8h0M684.6 448.1h0M708.1 442.5h0M695.1 441.6h0M705.3 467.3h0M691.4 447.7h0M724 461.5h0M701.3 456.2h0M716.4 469.3h0M711.9 459h0M712.3 453.7h0M691.8 465.1h0M715.6 466.2h0M703.4 438.5h0M685.5 433.3h0M714.1 442.3h0M708.6 454.1h0M713.5 436.4h0M710.5 440.5h0M712.4 461.4h0M708.1 462.3h0M691.4 440.4h0M715.9 470.2h0M714.5 467.6h0M701.5 465.1h0M715 442.4h0M696.3 434.1h0M698.8 445.5h0M711.8 465h0M715.7 470.2h0M715.4 467.4h0M688.9 457.7h0M684.6 446.8h0M700.5 473.8h0M681.1 432.5h0M716.6 455.4h0M699.2 453.9h0M694.7 447.8h0M696.5 452.6h0M687.2 428h0M692.5 461.1h0M682.8 451.7h0M685.5 461.9h0M680.9 438.7h0M718.1 471.5h0M702.8 450.3h0M709.3 454.7h0M688.4 460.4h0M720 452.3h0M718.8 447.3h0M697.6 431.7h0M711.7 473.2h0M717.1 451h0M722.4 451.2h0M692.1 467.8h0M706.3 446h0M697.5 444.3h0M687.3 438.3h0M685.7 428.6h0M714.3 439.8h0M682.4 453h0M685.7 445.4h0M700.2 457.7h0M694.5 445.9h0M696.2 453h0M701.5 464.2h0M722.5 465h0M723.2 453.7h0M683.9 454.1h0M681.6 453.9h0M705.1 434.5h0M692.7 426.4h0M709.9 475.4h0M713.3 435.1h0M700.6 473.7h0M712.7 434.5h0M683.2 458.6h0M701.6 474.9h0M711.7 473h0M681.1 441.4h0M696.9 424.6h0M723.4 464.3h0M707.3 474h0M706.5 436.6h0M693.5 467.5h0M692.3 465.6h0M699.6 428.3h0M725.7 455.9h0M723.9 449.9h0M681 443.4h0M685 449h0M696.4 425.3h0M725.2 467.2h0M686.6 458.1h0M723.1 449.9h0M720.7 451.9h0M716 440.3h0M682 425.3h0M685.2 458h0M711.4 434.7h0M682.9 424.1h0M708.7 435.8h0M713.1 441.4h0M681.7 457.2h0M722.7 446.1h0M678.7 425.8h0M724.9 471.2h0M721.4 444.3h0M706.3 474.7h0M681.6 451.9h0M562.5 499.7h0M566.5 494.9h0M562.8 492.8h0M563.7 496.1h0M564.7 493.9h0M566.6 488.7h0M557.8 497.7h0M566.4 495.6h0M562.9 495.7h0M551.7 495.1h0M567 498h0M567.7 490.5h0M564.4 497.6h0M560.5 500.8h0M562.6 491.5h0M564.3 494.4h0M555 496.4h0M563.1 492.3h0M560.9 494.3h0M561.8 495.3h0M563.9 493.6h0M560.7 500.8h0M565 493.2h0M566.3 497.7h0M567.7 497.6h0M557.5 495.4h0M567.6 490.6h0M567.3 500.5h0M562.5 492.4h0M566 487.1h0M565.5 500.6h0M553.6 499.4h0M559.8 501h0M553.3 498.1h0M553.3 476.2h0M543.3 483.3h0M562.5 481.7h0M557.5 484.2h0M554.2 487.5h0M547.5 504.2h0M540.8 507.5h0M549.5 439.5h0M548.3 449.5h0M556.2 450.5h0M555.8 515.8h0M552.5 520h0M555.8 521.7h0M564.2 528.3h0M567.5 525.8h0M571.7 531.7h0M575 535h0M584.7 548.3h0M583.5 541.5h0M584.7 542.2h0M586.6 544h0M588.4 546.5h0M590.2 546h0M591.4 546.2h0M592.7 549.6h0M594.4 550.4h0M595.4 550.5h0M724.2 501.7h0M735.8 524.2h0M719.7 535.3h0M728.3 536.7h0M722 545.5h0M726.7 554.5h0M428.2 554h0M431.6 541.5h0M429.3 552.7h0M437.1 530.6h0M425.1 550.4h0M431.4 545.2h0M420.9 552.9h0M425.5 555.6h0M430.6 551.4h0M420.8 549.7h0M428.6 555h0M435.3 533.5h0M421.9 556.5h0M425.6 550.9h0M423.7 551.7h0M426.8 547.8h0M427.5 543.4h0M419.2 553.3h0M428.5 546.9h0M430.9 544.5h0M433.9 550.6h0M425.6 545.7h0M428.7 548.3h0M420.5 555.7h0M433.9 534.6h0M431.1 539.4h0M430.3 555h0M422.7 552.6h0M430.3 537.9h0M430.7 538.4h0M431.6 549.9h0M429.9 540.6h0M423.5 550.4h0M429.5 545.7h0M428.4 541.9h0M431.3 542.6h0M432.2 536.7h0M427 548.6h0M424.8 548.6h0M433.7 548.5h0M425.4 550.4h0M427.6 544.5h0M429.1 544.6h0M419.3 552.1h0M430 549h0M432.7 536.9h0M422.8 553.5h0M420.5 555.5h0M426.8 547.2h0M423.2 549.1h0M429.7 553h0M421.7 554.2h0M424.8 543.7h0M432.4 538.7h0M430.1 553h0M426.3 554.1h0M429.7 538h0M422.6 551.6h0M420.3 552.7h0M423.3 552.5h0M424.7 556.3h0M431.4 556h0M426.5 545.2h0M433.1 538.3h0M437 529.9h0M432.7 540.4h0M428.3 553.7h0M494.8 579.9h0M510.5 544h0M442.8 569.4h0M486.1 571.8h0M443 574.5h0M501.8 581.2h0M517 559.2h0M506 575.4h0M501.9 583.1h0M458.9 572.3h0M504.2 576.3h0M507.4 573.8h0M484.7 560.9h0M447.7 595.7h0M486 575.7h0M438.1 583h0M437.3 561.8h0M476.8 580.3h0M508.9 557.8h0M486.7 562.7h0M512.7 566.6h0M431.9 576.9h0M500.4 564.4h0M427.2 561.9h0M489.3 571.3h0M447.7 577.7h0M432.1 565.1h0M508.8 554.7h0M450.8 577.6h0M497.5 571.5h0M499.1 570.9h0M429.5 568.2h0M468.6 572.1h0M447.5 591.8h0M475 583.1h0M464.9 570.2h0M428 577.1h0M443.9 593.8h0M507.2 543h0M444.8 579.4h0M468.3 586.4h0M502 550.3h0M430.6 564.9h0M463.4 567.1h0M494.1 579.6h0M519.7 544.7h0M507.4 553.8h0M440 566h0M446 594.9h0M465.4 591.1h0M506.1 548.8h0M458.9 598.6h0M447.5 586.4h0M466.6 564.4h0M476.7 582.4h0M475.3 584.2h0M426.6 574.2h0M471.4 590.6h0M480.6 579.8h0M510.3 553.7h0M480.6 576.4h0M463 574.2h0M441.4 582.3h0M444.8 562.8h0M488.3 556.9h0M452.6 584.4h0M428.2 566.6h0M447.5 595.5h0M504.6 581.5h0M502.9 556.9h0M431.6 572.3h0M484.6 554.7h0M469.9 593.8h0M505.9 544.3h0M484.9 554.6h0M495.3 572.2h0M511.7 571.9h0M504.7 574.1h0M451.8 593.4h0M511.2 551.5h0M461.7 576.4h0M454.2 595.3h0M502.3 554.9h0M443.2 588.4h0M500.8 552.5h0M453.8 591.3h0M518 555.7h0M485.3 563h0M515.2 545.7h0M518.3 549.5h0M517.6 554.8h0M431.8 565.1h0M494.1 557.8h0M481.8 569.8h0M459.6 573.8h0M446.5 581.8h0M475 582.5h0M495.4 579.5h0M487.6 558.8h0M452.4 590.3h0M493.2 556.9h0M451.9 563.5h0M433.7 564.3h0M464 574h0M486.6 567h0M468.4 593.5h0M500.8 549h0M429.4 570h0M484.4 559.1h0M445.5 567.6h0M506.2 543.1h0M462.5 577h0M440.4 581h0M496.3 585.5h0M431.6 564.5h0M445.9 590.3h0M466.7 587.4h0M510.4 576h0M493.1 569.4h0M504.3 572h0M445.7 577.5h0M497.8 570.4h0M483.8 555.4h0M444.1 580.9h0M461.8 571.7h0M463.1 593.7h0M479.5 581h0M456.2 584.5h0M463 584.2h0M475.7 575.4h0M454.6 580h0M460.4 573h0M434.5 566.8h0M425.9 561.7h0M497.3 561.7h0M516.3 550.8h0M433.5 579.4h0M491.1 585.3h0M437.7 575.6h0M452.2 579.9h0M517.1 562.8h0M490.2 576.8h0M506.3 575.2h0M499.5 559.8h0M463.9 561.2h0M491.9 565.2h0M448 587.9h0M474.9 568.1h0M464.6 583.2h0M447.8 590.5h0M504.3 543.9h0M509.4 553.5h0M467.5 575.8h0M506.3 549.7h0M442.2 587.2h0M455.1 592.2h0M491.3 555.5h0M469.9 584.8h0M490.2 578h0M470.2 586.9h0M490.4 557.3h0M479.3 567.5h0M474.2 564.6h0M495.8 558.8h0M491.5 555.2h0M474.7 585.1h0M469.5 582.8h0M508.1 568.5h0M508.5 573.6h0M468 565.5h0M515.4 567.7h0M503.5 563.1h0M428.3 577h0M520.7 545.9h0M497.7 575.6h0M500.3 552.4h0M473.4 566.1h0M465.3 591h0M483.3 575.8h0M480.5 556.4h0M444.1 581.7h0M491.5 566.3h0M500 576.7h0M463.6 571.8h0M503.9 543h0M496.1 573.3h0M490 581.3h0M424.9 565h0M504.8 573.7h0M488.4 555.1h0M468.1 578.3h0M512.9 549.7h0M479.7 577.3h0M454 580.9h0M449.8 596.2h0M502.6 572.1h0M453.3 597.7h0M461.5 570h0M475.4 563.8h0M439.7 560.7h0M496.9 576.7h0M497.2 551.1h0M464.9 581.2h0M436.8 572.2h0M504.5 569h0M492.9 569.6h0M448.3 589.5h0M519.3 553.5h0M476.2 562h0M513.5 569.6h0M448.6 586.7h0M462.5 595.5h0M471.9 588.6h0M475 559.7h0M476.3 571.7h0M439.8 581.1h0M495.7 581.6h0M502.4 562.2h0M508.7 565.5h0M473.7 566.5h0M493.4 563.6h0M454.9 580.8h0M493.1 584.9h0M508.5 540.8h0M427.7 577.1h0M495.9 565.1h0M430.8 577.2h0M508.5 565.7h0M450.3 561.5h0M435.5 571h0M477.7 586.9h0M508.3 576.4h0M445.1 594.2h0M435.2 566.7h0M436.7 565.5h0M485 564.5h0M446 590.1h0M440.9 562.1h0M478.3 573.6h0M520.6 556.6h0M489.8 584h0M470.8 593.7h0M449.6 587.3h0M481.8 560.1h0M484.8 576.5h0M489 582.5h0M485.8 557.5h0M465.1 573.9h0M450.5 584.2h0M474.2 594.3h0M504.3 554.3h0M503.7 568h0M501.9 584.1h0M517.6 547.2h0M457.6 586.8h0M466.6 579.6h0M488.4 574.2h0M451.2 563.5h0M451.4 568.6h0M434.5 566.3h0M488.2 583.9h0M515.9 564.2h0M470 563.5h0M458.1 565.7h0M430.8 580.4h0M456.9 562.9h0M506.1 566.3h0M487.4 577.7h0M499.9 553.5h0M433.5 573h0M508.2 558.7h0M495.4 570.7h0M495.8 567.7h0M499 569.9h0M431.8 569.3h0M473.2 566.5h0M469 563.1h0M489.8 568.5h0M512.2 543.1h0M429 575.7h0M484.5 572h0M474.2 566.3h0M493.3 551.8h0M454.9 566.3h0M463.7 579.1h0M513.6 542.8h0M504.4 544.3h0M430.6 583.6h0M502.4 572.5h0M479.8 572.8h0M456.4 579.2h0M481.2 560.1h0M457.8 585.1h0M478.5 587.8h0M503.1 576h0M491.5 557.5h0M508.2 573.1h0M495.8 551.8h0M458 582.6h0M498.9 573.2h0M436.7 576.3h0M488.6 555.2h0M487.4 568.2h0M489 568.3h0M460.6 575.1h0M438.5 561.8h0M491.6 569.1h0M478.7 573.6h0M492.1 564.1h0M453.5 587.4h0M513.3 544h0M505.7 553.5h0M480 570.6h0M437.8 569.7h0M432.3 569.7h0M511.9 559.9h0M502.7 553h0M498.5 568.7h0M496.7 584.9h0M466 594.9h0M477.6 577.3h0M427.7 565.6h0M426.5 569.5h0M452 566.2h0M506.8 576.1h0M471.8 566.8h0M476.5 586.9h0M510.9 566h0M502.2 578.3h0M453.2 567.6h0M441.4 562.8h0M498.2 584.9h0M507.7 540.9h0M513 567.7h0M517.2 543.2h0M451.1 564.5h0M484.6 587.4h0M447.6 596.8h0M501.6 580.1h0M480.8 589.7h0M517.6 548.3h0M429.9 574h0M439.3 560h0M449.1 561.7h0M431.8 580.8h0M492.9 584.5h0M509.4 577.3h0M473.7 593.9h0M489.5 586.4h0M479.9 556.2h0M499.8 586.2h0M515.3 569.5h0M426.9 571.4h0M432.6 584.7h0M421.9 561.6h0M481.1 558.3h0M422 562.1h0M427 574h0M501.7 584.8h0M510.8 576.3h0M443 561.7h0M427.4 566.2h0M440.1 590.5h0M520.2 544.7h0M515.6 565.2h0M429 560.7h0M463.8 559.3h0M520 552.4h0M515.1 558.7h0M500.8 584.7h0M440 564.1h0M455.1 561.6h0M443.7 562h0M485.3 554.1h0M507.8 541.1h0M483.7 556.6h0M514.9 567.6h0M473.8 593.3h0M516.6 545.5h0M519.1 543.9h0M433.4 557.7h0M472.5 563h0M505.1 541.7h0M441.9 561.5h0M420.8 560.2h0M441.2 560.5h0M455 570.5h0M448.3 572.5h0M454.2 576.3h0M503.3 525h0M508 523h0M505.8 530h0M512.5 527.5h0M515 532.5h0M517.5 535h0M507.5 537h0M510 530.8h0M520 543.3h0M459.7 520h0M457.2 532.8h0M452.5 537.5h0M454.2 539.7h0M462.5 536.7h0M443.3 535.8h0M443.3 552h0M453.3 552.5h0M469.2 550.8h0M478 512.2h0M486.7 498.8h0M495.8 497h0M485 504.7h0M493.7 505.3h0M504.5 505h0M519.5 518h0M486.7 470.3h0M490.8 471.3h0M489.5 476.7h0M537.8 475.5h0M552.8 476.3h0M562.8 469.7h0M562.8 481.7h0M543.3 483.7h0M557.5 485h0M553.3 487h0M527 491.2h0M531.7 496.2h0M537.5 491.7h0M537.5 495h0M547.5 494.7h0M547.5 504.7h0M540.8 507.2h0M538.3 509.7h0M534.2 513.3h0M559.7 496.2h0M567.3 490.5h0M555.5 495.7h0M559.2 494.1h0M564.5 492.8h0M563.4 502.8h0M560.9 502h0M564.2 500.5h0M564.8 499.2h0M563.8 492.9h0M566.8 497.6h0M562.8 496.2h0M556.8 494.8h0M566.2 498.4h0M558.7 500.5h0M566.9 488.4h0M563.7 496.2h0M558.6 500.8h0M555.9 497.8h0M566.9 497.4h0M557.8 497.8h0M557.5 498.5h0M567 500.7h0M561.5 501.2h0M562.9 496.3h0M561.1 492.2h0M557.9 494h0M562 502.4h0M568.7 498h0M563.8 501.9h0M569.7 494.4h0M567.1 490.2h0M562.7 492h0M555.4 498h0M567 501.6h0M568.5 497.6h0M558.3 502h0M564.9 502.3h0M555.8 515h0M551.7 519.2h0M555 522.5h0M557.5 518.7h0M564.2 528.3h0M567.5 525.8h0M571.7 530.8h0M575 535h0M585 548.3h0M583.8 542.6h0M586 544h0M587.4 544.2h0M587.8 546h0M591.4 547.7h0M593.1 547.4h0M593.5 548.4h0M594.2 549.7h0M596.2 551.2h0M186.5 518.6h0M197.5 516.9h0M184.6 568.6h0M200.6 505.8h0M159.4 558.3h0M173.2 542.6h0M195.2 544.8h0M181.2 515.8h0M202.5 507.2h0M219.1 518.9h0M201.9 532.4h0M192.9 528.9h0M196.5 549.1h0M196.6 568.3h0M186.4 562.7h0M157.2 540.2h0M188 506.3h0M176.3 536.4h0M193.6 528.9h0M165 551.2h0M176.9 517.1h0M188.9 532.7h0M180.3 558h0M184.4 528.3h0M175.9 554.7h0M172.3 524.3h0M198.1 536.6h0M186.5 521.1h0M181.2 565.5h0M181.4 538h0M195 558.4h0M173.7 526.5h0M211.6 533.8h0M167.4 536.2h0M157 539.4h0M185.5 532.7h0M170.5 546.8h0M166.9 555.2h0M222.9 517.4h0M191.6 512.8h0M188.7 534.8h0M165.5 555.3h0M170.1 547.6h0M197.3 566.5h0M202.8 530.9h0M167.6 535.1h0M175.7 544h0M194.2 529.8h0M156.6 533.8h0M166.7 544.2h0M201.9 538.7h0M199.6 537.6h0M184.6 557.1h0M170.9 547.1h0M177.8 539.4h0M195 537.2h0M194 502.4h0M164.4 527h0M173.9 526.2h0M171.8 521.5h0M184.7 510.7h0M199.2 556.8h0M173.7 562.9h0M181.2 533.3h0M197 553.9h0M171.4 557.7h0M198.9 502h0M200.2 525.9h0M178.9 547.6h0M173.8 563.2h0M194.6 524h0M198 569h0M161.4 530.1h0M207.7 532.4h0M173.2 526.3h0M198.5 528.8h0M200.4 506.7h0M189.8 543.5h0M152 545.3h0M185.1 519.1h0M186.4 518.4h0M195.5 505.9h0M176.4 525.8h0M156.5 557.6h0M157.4 548.3h0M219.6 516h0M181 529.8h0M182.8 516.1h0M167.8 550.1h0M206.5 525.5h0M198.8 541.5h0M177.9 543.9h0M178.2 541.1h0M205.4 512.5h0M184.8 536.9h0M169.4 539.2h0M176.5 557.2h0M217.3 519.6h0M178.6 527.7h0M209.4 524.2h0M160.1 554.5h0M204.7 517.4h0M189.8 556.7h0M173.1 556.3h0M190.1 522.7h0M176.2 552.7h0M190.2 551.2h0M198.7 536.4h0M170.7 529.8h0M169.7 530.4h0M190.3 507.1h0M201 511.9h0M183.2 513.9h0M195.3 503.2h0M194.7 555.1h0M176.3 551h0M158.5 538.6h0M182.3 532.2h0M178.3 523.5h0M184.3 510.6h0M202.3 514.1h0M189.8 535.1h0M158.9 538.1h0M177.7 528.4h0M204.9 527.6h0M178 546.3h0M204.7 521.3h0M208.8 521.3h0M221.9 518.9h0M174.9 532.3h0M185.3 517.6h0M186.6 531.4h0M168.3 541.1h0M174.2 516.2h0M182.5 521.5h0M194.9 555h0M192.8 534.8h0M176.8 544.7h0M192.8 505.7h0M183.4 543.2h0M180.1 511.3h0M196.4 532.7h0M155.8 535.9h0M197.9 566.5h0M220.8 514.1h0M210.6 533.2h0M158.1 536.4h0M166.7 522.5h0M196.5 516.1h0M212.7 510.5h0M154.9 551.7h0M187.4 516.1h0M160.4 539.4h0M189.8 515h0M192.8 553.7h0M177.9 554.2h0M204.8 502.2h0M209.1 512.2h0M204.9 515.9h0M193.5 512.1h0M188.9 566.3h0M152 545.6h0M187.8 533.7h0M167.1 538.4h0M205.6 516.4h0M207.7 502.5h0M163.5 545.8h0M213.6 521.9h0M212.8 524.1h0M195.2 537.5h0M181.2 518h0M183 526.7h0M210.7 519h0M178.2 536.6h0M207.8 504.2h0M223 514h0M213.1 526.2h0M192.9 511.8h0M193.3 532.2h0M217.1 523.6h0M213.9 509.9h0M194.1 511h0M175 530.5h0M164.9 519.2h0M163.6 549.4h0M202.9 506.1h0M183.4 523.3h0M175.8 558.4h0M176.4 545h0M189.5 536.4h0M165.6 543h0M151.8 548.1h0M162.3 532.8h0M186.3 521.6h0M173.8 529.9h0M218.4 508.4h0M213.8 507.1h0M189.7 503.2h0M175.1 537.5h0M207.7 515.8h0M164.5 539.9h0M196.3 528h0M202.5 508.8h0M188.1 508.2h0M188.9 565.4h0M186.6 551h0M191.3 508.3h0M158.1 544.6h0M167.1 526.4h0M187.8 547.1h0M207.7 511.5h0M188.9 532.9h0M161.2 545.5h0M163.8 546.9h0M178 510.2h0M191.6 535.2h0M201.3 501.2h0M203.1 510.5h0M191.3 505.8h0M162.3 541.2h0M187 536.1h0M161 556.8h0M190.5 560.9h0M204 515.4h0M188.8 544.9h0M221.3 510h0M194.4 519.5h0M151.1 553.4h0M186.1 538.8h0M170.6 540.5h0M174.3 520.4h0M186.2 565.9h0M214.1 505.2h0M193.1 553.8h0M197.5 502.4h0M189.9 566.3h0M183.8 552.3h0M163.9 542.5h0M197.9 514.1h0M172.9 559.2h0M177 534.7h0M206.1 523.9h0M214.3 527.3h0M188 504.7h0M195.2 514.4h0M187.9 560.7h0M209.1 524.2h0M180.1 536.5h0M163.8 536.9h0M148.4 549.1h0M169 520.3h0M218.5 530h0M189.5 568.1h0M216 530.9h0M180.6 520h0M173.4 516.8h0M188 514.2h0M208.5 514.1h0M197.8 520.9h0M180.6 558.3h0M216.1 523.3h0M202 533.8h0M199.7 537.1h0M214 506.6h0M183.9 539.2h0M186 565.9h0M171.6 528.7h0M161.1 549h0M170.1 528.8h0M194.5 563h0M188.4 527h0M155.4 537.6h0M175.9 556.8h0M178.6 522.6h0M172.9 532.6h0M156.4 545.1h0M197.4 520.2h0M182.3 520.9h0M166.1 535.3h0M178 522.8h0M197.7 530.7h0M154.7 555.1h0M156.6 542.3h0M190.9 546.3h0M157.4 549.3h0M213.7 508.1h0M191.9 510h0M161.7 536.9h0M215.1 504.2h0M199.3 523.4h0M199.2 533.3h0M180.7 519.4h0M210.6 511.8h0M193.3 537.7h0M216.2 515.3h0M177.1 562h0M174.3 529.6h0M185.5 507.3h0M175.4 546.9h0M210.8 509.3h0M212.8 511.9h0M167.3 561.8h0M182.3 553.3h0M209.8 501.4h0M191.6 519.9h0M188.2 532.7h0M183.4 557.8h0M147.8 545.5h0M192.2 532.9h0M170.9 534.7h0M163.5 549.4h0M177.2 524.6h0M175.2 519.7h0M180.7 562.4h0M185.9 522.3h0M206 517.6h0M181.9 533.1h0M187.8 560.8h0M208.8 508.9h0M205.6 521.6h0M172.2 540.9h0M169.1 520.6h0M158.6 554h0M222.3 509.8h0M215.3 531.2h0M168.6 537.1h0M216.6 527.2h0M200.1 516.9h0M196.7 565.3h0M196.7 545.6h0M196.1 568.1h0M167.7 522.9h0M220 524.6h0M162.3 520h0M163.9 530.7h0M163.7 523.3h0M170.2 519.4h0M185.6 565.3h0M215.8 509.3h0M188.6 565.4h0M182.6 508.7h0M152.1 555.4h0M217.5 523.9h0M188.8 566h0M173.4 560.9h0M157.3 530.1h0M218 524.4h0M197.8 552h0M184.5 503.2h0M188.9 505.7h0M192.1 502.8h0M218.3 520.2h0M181.9 510.2h0M175.4 519h0M195.2 557.4h0M177.9 516.8h0M176.3 563.2h0M170.6 562h0M192.7 500.5h0M203.6 501.8h0M191.1 503.8h0M173 561.5h0M168.2 524.2h0M215.5 528.3h0M220.1 508h0M165.1 530.2h0M216 509.3h0M197.9 548.2h0M208.7 533.6h0M219.5 518.3h0M168.7 562.2h0M151 540.9h0M174.5 560.4h0M157.3 561h0M217.9 529.3h0M208.3 541.7h0M213.3 540h0M220 538.3h0M225 536.7h0M230 540.8h0M234.2 541.7h0M225 548.3h0M220 550h0M228.3 552.5h0M232.5 548.3h0M236.7 551.7h0M213.3 545h0M219.2 544.2h0M223.3 541.7h0M226.7 540h0M216.7 540.8h0M206.7 546.7h0M207.5 553h0M205.8 559.2h0M208.3 558.7h0M233.7 558.7h0M202.8 568.7h0M208.3 568.3h0M214.7 570h0M215.8 575.8h0M222.5 580.5h0M225.3 575.3h0M229.7 572.5h0M231.7 574.2h0M235.8 568.7h0M239.2 569.2h0M244.2 570.8h0M246.7 573.3h0M242.5 575.8h0M245 575.3h0M169.5 569.2h0M166.7 564.2h0M243.3 498.7h0M238 510.3h0M246.7 507h0M250.3 505.3h0M254.2 490.8h0M258.3 487.5h0M260.3 492.5h0M256.7 489.7h0M278 529.5h0M252.7 544.7h0M328 802.2h0M322.8 835.6h0M347.6 766.6h0M400.5 833.3h0M396 815h0M319.6 833.4h0M367.5 816.3h0M353.2 799.1h0M362.6 805.5h0M326.4 753.5h0M323.9 854.9h0M305.9 849.2h0M329.3 790h0M336.4 838.2h0M358.8 731.6h0M328.9 799.1h0M357.3 840.2h0M310.9 822.2h0M352.9 804.4h0M337.3 782.1h0M358.5 797.9h0M405.7 802.4h0M384.8 824.3h0M336.2 779.4h0M350.8 816h0M383.9 800.1h0M292 823.3h0M348.7 767.6h0M318.6 798.4h0M354.1 757.3h0M379.2 794.4h0M393.4 799h0M313.5 801h0M339.4 799.9h0M334.9 830.3h0M345.3 815h0M339.7 803.5h0M359.7 725.7h0M364.2 781.5h0M376.1 782.1h0M360.7 817h0M402.9 804h0M301.6 829.3h0M367.4 837.1h0M316.6 852.7h0M345.2 821.8h0M304 844.8h0M364 728.4h0M372.4 817.9h0M392 833.1h0M320.4 831.4h0M354.2 821.1h0M353.4 796.7h0M358.8 728.6h0M350.6 796.1h0M311.9 814.3h0M359.5 786.9h0M337.3 747.9h0M387.7 796.3h0M388.2 830.9h0M375.1 768.9h0M312.5 780.6h0M350.3 763.7h0M365.5 847.6h0M298.8 822.9h0M396.9 814.6h0M405.5 799.7h0M337.8 861.1h0M303.2 823.3h0M371.5 768.8h0M299.7 832.3h0M330.3 815.5h0M362.7 801.5h0M378.2 803.8h0M389.7 823h0M313.6 841h0M302 831.9h0M350 741.9h0M325.8 758h0M359.4 735.6h0M384.8 801.6h0M354.4 729.9h0M369.1 833.9h0M365.1 793.9h0M349.6 852.7h0M344.9 811.4h0M351.9 765.4h0M329.8 844.7h0M347.3 809.9h0M359.9 731.5h0M377.6 834.5h0M329.8 799.8h0M370.9 813.2h0M401.8 829.2h0M312.7 797.5h0M342.1 742.6h0M368.7 806.4h0M366.3 758.1h0M336 789.1h0M345.4 818h0M318.2 831.2h0M329.2 773.7h0M401 814.4h0M360.8 760.9h0M323.6 765.2h0M340.8 726.8h0M401.3 799.7h0M313.8 797.5h0M323 773.3h0M347.9 756.7h0M321.3 851.7h0M380.9 813.4h0M326.1 769.8h0M339.5 793.2h0M349.9 841.5h0M354.5 770.9h0M332.7 798.4h0M337.4 756.2h0M371.9 840.7h0M296.6 838.3h0M395.6 806.4h0M372.8 758h0M324.1 768.7h0M348.6 844.8h0M376 770.1h0M328.6 816.9h0M331.6 753.3h0M386.2 785.1h0M309.9 838.2h0M332.5 847.7h0M362 725.5h0M356.2 754.9h0M398.5 796h0M369.4 829.8h0M340.2 773.4h0M359 805.3h0M376 788.3h0M313.5 835.4h0M390 810.9h0M330.8 776.2h0M340.8 785h0M323.4 803.4h0M341.1 840.3h0M323.9 779.5h0M352.1 836.2h0M369.6 802.8h0M354.4 852.6h0M372.8 833.4h0M338.4 742.6h0M373.7 771.1h0M317.6 788h0M324.4 829.6h0M359.3 830.1h0M323.5 756.4h0M320.7 761.7h0M315.2 838.6h0M367.1 771.2h0M369.4 831.8h0M349.5 843h0M353.9 840.5h0M329.9 854.6h0M355 753.9h0M356.4 809.2h0M399 827.3h0M382.8 791h0M358.6 788.8h0M378.9 831.4h0M319.1 828.1h0M347.2 767.9h0M377.7 799.6h0M340.4 756.1h0M370.4 790.2h0M308.1 791.6h0M353.7 834.5h0M303.1 834.1h0M338.7 746h0M361.9 719.6h0M345.7 734.2h0M359.7 820.3h0M313.9 817.1h0M314 788.6h0M320.9 775.3h0M405.7 809.3h0M397 821h0M341.5 798.8h0M318.1 819.9h0M310 799.5h0M342.8 829.5h0M337.3 741h0M386.2 777.9h0M363.3 747.7h0M329.7 777.4h0M332.4 832.4h0M395.8 802.9h0M344.7 733.8h0M306.5 848.2h0M399.3 805.4h0M332.2 814.7h0M356.5 762.6h0M316.9 779.2h0M317 782.1h0M335.2 861.3h0M342.4 750.5h0M392 808.4h0M350.2 742.8h0M315.6 846.3h0M310.2 818.5h0M355 775.8h0M361.1 818.8h0M364.6 737.7h0M376.9 758.8h0M381.1 830.1h0M387.6 792h0M335.5 766.7h0M355 745.5h0M356.4 784.6h0M377.9 765.5h0M338.3 734.7h0M346.8 829h0M345.2 754.4h0M376.9 839.6h0M371.3 775.5h0M348.1 832.5h0M314.7 856.2h0M315.2 800.5h0M339.3 795h0M392.1 829.8h0M309.8 844.7h0M351.4 788.4h0M367.3 754.2h0M299.9 830.8h0M332.5 746.5h0M327.5 732.3h0M404.5 808h0M348.8 825.3h0M389.1 796.2h0M387.7 827.4h0M353.6 795.8h0M331.4 795.3h0M315.9 774.5h0M338.9 752.9h0M373.7 825.3h0M336.3 740.3h0M386.6 836.7h0M340.4 852.3h0M364.6 729.6h0M351.3 847.8h0M349.1 741.4h0M397.4 816h0M329.6 786.3h0M332.5 767.8h0M334.2 803h0M325.8 775.1h0M375.8 787.9h0M373.3 809.5h0M340.5 797.6h0M375.9 812h0M373.8 841.6h0M349.5 771.3h0M391.4 806.5h0M317.4 822.2h0M340.6 740h0M365.5 830.3h0M403.4 812.8h0M330.4 816.3h0M336.3 726.7h0M317.7 768.9h0M339.1 815.8h0M318.4 808.9h0M330 782.5h0M316.2 833.2h0M324.8 843.4h0M362.9 807.8h0M329.8 776.9h0M335.2 747.9h0M375 778.5h0M325.7 842.1h0M351 735.8h0M354.5 764.7h0M351.5 820h0M327 739.7h0M340.6 724.9h0M292.3 824.4h0M313.3 810.9h0M365 801h0M356.2 753.2h0M318 788.2h0M351.8 741.3h0M375.2 799.5h0M306.7 856.6h0M370.5 802h0M349.5 738.5h0M372.8 785.5h0M321.1 812.9h0M362.1 777.7h0M383.2 797.7h0M314.4 781.6h0M367.9 842.6h0M320 841h0M361.1 819.5h0M336.4 762.1h0M336 758.8h0M334.3 801h0M385 766.6h0M307.2 821.7h0M400.7 819.9h0M343 721.8h0M405.9 807.2h0M340.6 795.8h0M357.1 799.8h0M379.5 808.3h0M349.7 772.7h0M376.8 843h0M349.8 840.7h0M345.9 807.7h0M357.4 719.6h0M383 792.5h0M357.6 830h0M370.1 785.2h0M366.4 840.7h0M359.7 844.4h0M358.4 739.9h0M371.4 824.6h0M328.7 832.8h0M408.6 801.9h0M332 777.9h0M391.3 804.7h0M344.1 737.1h0M382.5 841.9h0M364.7 795.9h0M365 827.5h0M298.5 831h0M366.5 816h0M345.2 820.9h0M319.2 797.5h0M347.7 743.1h0M397.2 813.6h0M372 755.3h0M347.9 765h0M321.1 846.4h0M399.7 827.2h0M347.1 796.5h0M373.7 825.9h0M354 816.4h0M386.6 818.3h0M379.9 800.2h0M381.7 823.7h0M367.5 824.6h0M386.1 792.6h0M339.8 786.8h0M302.3 846.9h0M347.8 750.8h0M324.4 772.2h0M306.4 829.6h0M368.3 766.7h0M366.4 787.1h0M339.1 739.1h0M378.2 843.3h0M356.2 781.3h0M382.6 837.1h0M397.7 805.6h0M355.6 851.4h0M336.6 738.3h0M372.9 753.8h0M367 833.3h0M318.3 811.2h0M326 812.8h0M364.4 828.3h0M381.1 822.4h0M305.4 853.3h0M386.4 816.4h0M372.5 835.3h0M333.9 742.3h0M355.5 804.8h0M342.7 847.8h0M360.5 731.6h0M398.1 830h0M334.2 857.8h0M345.7 759.4h0M325.2 777h0M385.7 776h0M355.7 742.7h0M351.9 840.5h0M309.2 800.8h0M391.9 831.4h0M296.9 821.4h0M358 830.8h0M356.1 757.1h0M309.6 856.7h0M349.2 742.4h0M330.1 726.7h0M340.4 790.5h0M341.3 744h0M377.7 754.6h0M381.3 780.2h0M301.4 843.7h0M352.3 755.8h0M366.2 784.7h0M393.1 823.4h0M318.2 778.1h0M357.4 758.7h0M394.5 814.7h0M394.6 833.8h0M297.6 822.5h0M338.3 829.6h0M357.8 792.4h0M371.5 798.8h0M346.2 759.5h0M339.5 814.3h0M365 752.8h0M381.2 759h0M377.5 766.9h0M399.8 832.5h0M376.5 780.2h0M356.5 825.1h0M343.7 801.3h0M307.9 844.6h0M352.5 726.6h0M349.5 784.9h0M336.4 814.2h0M329.8 846.6h0M371.6 770.9h0M365.6 741.6h0M345.7 739h0M359.8 801.2h0M293.3 823.8h0M327.2 822h0M383 766.6h0M360.2 835.2h0M337.8 774.5h0M309.7 831.1h0M299.2 847.1h0M401.9 825.4h0M336.8 794.6h0M345.3 829.4h0M303.8 810.8h0M349.3 820.6h0M332.7 745.3h0M328.1 760.6h0M377.4 838h0M345.9 855.5h0M397.5 835.2h0M383.5 767.7h0M314.8 811.8h0M324.8 844.3h0M376.1 816.8h0M354.1 831.2h0M357.7 776.6h0M363.1 723h0M366.3 812h0M350.5 851.6h0M358.2 848.6h0M332.2 746.6h0M335.8 845.1h0M329.1 734.2h0M369.5 800.4h0M355.7 742.2h0M401 834.1h0M333.6 826.4h0M339.2 742.4h0M346.8 836h0M404.1 824.6h0M372.4 834.7h0M351.8 720.5h0M333.7 855h0M373.4 791.3h0M359.6 806.4h0M372.1 837.8h0M371.4 767.6h0M386.6 838.8h0M361.5 780.8h0M377.2 774.1h0M352.8 784.6h0M361 775.2h0M357 774.3h0M345.2 782.9h0M368.5 774.6h0M358.4 769.1h0M373.1 773.4h0M351.4 792.8h0M353.8 792.7h0M368.1 770.1h0M372.3 772.3h0M357.1 768.7h0M339.7 775.4h0M357.9 768.1h0M354.1 766.8h0M347.7 782.6h0M361.1 777h0M356.6 768.8h0M356.4 767.9h0M371 783.4h0M368.2 776.5h0M384.5 775.5h0M347 775.6h0M382.3 769.5h0M379.3 778.2h0M359.3 789.7h0M345.7 782.2h0M373.6 771.8h0M347.2 788.8h0M365.1 776.6h0M361 772.3h0M349.2 768h0M356.9 769.2h0M366.3 767.6h0M366.6 769.4h0M355.3 768.6h0M361.6 767.1h0M350.8 771.6h0M360.1 791.4h0M365.7 787.2h0M373 780h0M343.5 779.6h0M353.7 791.4h0M346.8 768.7h0M368.8 782.2h0M339.5 774.8h0M359 788.3h0M363.5 791.6h0M360.3 773.2h0M343.8 788.6h0M369.2 782.5h0M352.3 784.7h0M383 770.1h0M383.8 776.8h0M342.5 779.4h0M375.7 778.9h0M350.2 786.7h0M341.9 784h0M354.8 782.4h0M362.1 772.9h0M347.1 788.2h0M359.6 773h0M366.3 786.8h0M341.3 778h0M344.4 786.8h0M364.7 779.6h0M363.6 772.9h0M359.4 769.8h0M354.6 781.9h0M367.3 774.2h0M361.8 769.8h0M377.6 781.5h0M358.8 782.3h0M362.3 770.9h0M343.9 775.6h0M367.5 776.1h0M385.1 774.3h0M364.1 787.8h0M358.8 774.6h0M382.7 776.4h0M376.6 770.1h0M355.2 787.5h0M381.6 771.6h0M360.4 793.3h0M384.3 781h0M364.2 765.6h0M364.9 771.6h0M343.1 783h0M371.4 781.9h0M352.3 766.4h0M348.9 770.9h0M377.3 779.9h0M346.8 779.4h0M344.5 793h0M341.3 771.8h0M369.5 768.9h0M349.3 788.5h0M346.8 788.7h0M360.7 771.3h0M349.5 767.8h0M381.5 769.1h0M368.4 772.1h0M349.3 775h0M356.3 774.3h0M361 782.7h0M379.9 783h0M340 779.8h0M346.6 775.3h0M308.8 854.6h0M292.9 833.9h0M335 724.2h0M342 721.4h0M295.8 821.4h0M343.1 858.5h0M371.8 753.4h0M308.5 807.7h0M362.5 722.6h0M380.7 845h0M393 834.4h0M361.4 733.6h0M404.3 806.9h0M377.3 843h0M316.2 857.1h0M391.8 790.6h0M379.9 756.9h0M354.8 720.7h0M326.1 744h0M375.9 753.2h0M356.3 853.2h0M336.6 724.3h0M329.7 857h0M324.7 748.9h0M369.5 845.3h0M362.5 739.8h0M321.2 768.7h0M326.3 758h0M406.9 806.6h0M344.2 720h0M298.9 843.4h0M389.5 835.9h0M348 720.2h0M308.2 785.2h0M348.1 723h0M366.1 746.6h0M400.7 816.1h0M303.3 850.6h0M327 745.6h0M364.5 739.8h0M318.9 768.5h0M315.3 856.6h0M310.7 793.8h0M352.1 853.2h0M363.5 719.1h0M383.7 769.1h0M390 790.1h0M361.1 849.1h0M401.3 793.4h0M308.6 785.8h0M346 856.7h0M386.3 766.6h0M311.3 799.7h0M358.1 852.4h0M309.6 786.7h0M290.9 826.4h0M309.1 787.8h0M363.4 720.3h0M298 842.7h0M405.2 808.6h0M400 832.8h0M340.6 721h0M345.9 721.2h0M370.8 722.5h0M373.3 733.3h0M379.2 731.7h0M384.2 742.2h0M372.8 745h0M386.7 749.2h0M387.5 755.8h0M387 765h0M397.5 765.5h0M398.3 771.7h0M394.5 780.5h0M402.5 781.3h0M399.2 785.8h0M409.7 794.5h0M396.7 812.5h0M402.5 815h0M406.7 826.7h0M399.2 825h0M405.8 848h0M403.3 851.7h0M369.5 860.3h0M349.2 863.7h0M314.5 865.7h0M301.2 856.3h0M377.5 849.2h0M407.1 796.6h0M402.7 803.2h0M402.6 795.3h0M402.6 801.4h0M412 801.2h0M404.4 804.5h0M405 802.1h0M412.5 802.7h0M404.5 801.2h0M406.9 801.6h0M458.8 855.7h0M466.4 847.9h0M419.4 816.4h0M432.7 832.9h0M468.9 860h0M432.2 833.3h0M467.3 864.3h0M468 856.7h0M477.1 851.8h0M438.2 834.1h0M455.9 845.8h0M462.9 849.9h0M420 822.4h0M461 857.2h0M426 835.9h0M426.1 827.5h0M464.9 856.1h0M459.5 853.1h0M443 837.1h0M473.3 854.4h0M472.2 850.4h0M416.2 817.3h0M433 832.7h0M417.5 819.6h0M413.5 815.4h0M420.9 825.3h0M476.7 849.8h0M440.9 835.5h0M421.7 826.3h0M475.4 852.5h0M462 855.6h0M460.8 847h0M439.2 831.5h0M470 857.5h0M469.3 847h0M422.5 822.3h0M440.7 833.4h0M477.4 853.3h0M437.7 831h0M463.3 845.4h0M419.6 820.2h0M465.7 844.6h0M447.9 841.4h0M467 855.1h0M458.2 846.6h0M456.7 848.7h0M419.1 819.6h0M451.6 846.3h0M461.4 848.4h0M469.1 862.7h0M447.5 842.3h0M424.9 826.4h0M418.9 822.5h0M441.9 837.5h0M423.2 828h0M462.6 862.3h0M459.5 850.5h0M430.7 829.6h0M456.6 844.2h0M461.7 853.3h0M448.7 843.9h0M470.7 861.9h0M427.7 827.4h0M464.1 858.1h0M454 843.5h0M468.8 846.4h0M428.3 826.5h0M457.4 848.8h0M468 850.9h0M464 853.5h0M455.5 847.5h0M476.1 854.5h0M415.1 817.4h0M455.4 849.9h0M434.1 830.6h0M429.7 832.3h0M427.5 834h0M453.2 846.1h0M470 854.3h0M466.9 846.7h0M456.9 848.1h0M444.6 838.1h0M463.6 856.1h0M469.6 863.5h0M425.8 829.1h0M467.3 864.4h0M466.6 851.9h0M451.6 845.1h0M443 837.3h0M433.2 828.6h0M420.2 816.1h0M471.9 854.9h0M425.2 828.9h0M465.8 861.5h0M468.8 861.6h0M426.1 831.7h0M475 854.4h0M468.1 863.1h0M478.2 851.7h0M427.5 834.6h0M454.6 845.4h0M446.1 841.8h0M421.1 826h0M413.7 817.8h0M470.8 852.5h0M448.2 845h0M416.4 814.3h0M425 825.6h0M423.5 818.8h0M475.3 855.1h0M447.2 841.9h0M446.8 838.7h0M424.3 825.9h0M460.1 843.9h0M473.3 866.7h0M478.3 870h0M481.7 856.7h0M481.7 863.3h0M475.8 869.2h0M486 878h0M497.5 885.2h0M511 879.1h0M494.1 870.3h0M490.3 871.2h0M503.7 878.2h0M495.5 879.9h0M503 884h0M488.6 878.9h0M488.2 874.2h0M506.1 877h0M488.3 876.9h0M477.6 870h0M494.3 877.2h0M500.9 880.7h0M492.6 878.7h0M490.6 876.1h0M498.3 878.3h0M483.3 874.2h0M508.7 875.5h0M506.8 876h0M483.1 870.9h0M501.7 884h0M496.6 869.6h0M499 868.8h0M512.6 878.8h0M484.9 869.6h0M486.8 869.1h0M504.5 871.3h0M483.1 872.3h0M482.2 873.1h0M497.1 871.1h0M511.1 873.7h0M496.1 880.7h0M492.2 872.7h0M496.1 876h0M507.9 882.8h0M484.2 872.2h0M509.7 877h0M497.2 875.9h0M511.5 881.9h0M507.2 877h0M502 869h0M485.2 880.6h0M509 880.1h0M504.5 870.7h0M507.3 884.2h0M502.9 880.8h0M504.2 880.2h0M509.8 880h0M509.9 878h0M491.7 873.7h0M506.8 883.5h0M492.6 869.2h0M508.7 874.9h0M495.1 872h0M487.9 881h0M499.7 875h0M487.1 871.6h0M507.2 876.7h0M512.2 881.7h0M495.6 882.3h0M502.4 873.1h0M489.7 870.8h0M500.4 882.1h0M487.3 872.7h0M500.4 877.9h0M484.7 879.8h0M502.4 886.1h0M501.8 871h0M494.3 879.3h0M493.5 869h0M504.7 883.9h0M484.4 880.3h0M511.3 881h0M505.1 885.4h0M500.6 868.4h0M506.2 885.5h0M496.7 889.2h0M479.3 872.4h0M487.4 870.3h0M484.6 871h0M497.3 888.9h0M492.9 869.5h0M495.9 887h0M504.4 883.5h0M502.6 868.9h0M490.2 871.8h0M403 815.8h0M406.3 826.2h0M413.7 823.8h0M403.3 835h0M400.8 839.2h0M406.3 848.3h0M403.7 852h0M426.3 839.5h0M448.3 848.3h0M452.2 857h0M422.5 832.5h0M503.3 904h0M503.8 910.5h0M507.5 915.3h0M508.7 919.2h0M509.2 923.3h0M510.8 933h0M515 952h0M525 909.7h0M550.8 794.2h0M554.2 795.8h0M555 790.8h0M519.7 973.3h0M519.3 977h0M520.3 982.2h0M519.7 986.7h0M523 986.7h0M524.2 991.3h0M524.2 995.3h0M531.7 989.5h0M530.8 995.3h0M531.7 1000h0M534.7 1000.5h0M528.3 1004.2h0M532.5 1005.8h0M524.2 1006.7h0M520 1010h0M515 1012h0M522.5 1012h0M527.5 1010.8h0M528.3 1015h0M524.2 1016.2h0M520 1017.5h0M516.7 1019.7h0M525.8 1008.3h0M521.7 1015h0M436.3 1045.8h0M438.7 1043.7h0M440.8 1042.2h0M442.5 1041.3h0M635.3 680.3h0M637.8 668.6h0M616.9 668h0M597.6 663h0M610.4 691.7h0M621.3 691h0M600.7 693.1h0M607.4 692.9h0M643 675.6h0M640.2 691.2h0M643.3 662.4h0M653.4 681.8h0M615.4 650.7h0M647.7 684.1h0M638.7 667.6h0M641.5 677.1h0M599.4 660.1h0M598.8 654.4h0M646.5 659.2h0M628.9 669.6h0M622.3 689.1h0M604.9 662.8h0M648.2 675.4h0M625.6 699.5h0M596.1 676.8h0M619.5 658.6h0M634.9 697.2h0M630.8 664.1h0M641.4 678.3h0M624.8 680.1h0M601.2 672.4h0M626.7 671h0M625.3 666.8h0M631.2 665.3h0M641.8 677.1h0M622.3 705h0M612.4 658.3h0M621.7 675.7h0M624.6 698.8h0M615.9 696.2h0M620.7 685.4h0M601.7 689.6h0M608 687.3h0M614.1 692.5h0M642.8 679.3h0M602.4 687.8h0M622.3 704.5h0M605.5 649.5h0M597.2 673.7h0M610.2 644.6h0M620.5 665.3h0M599.6 692.4h0M629.1 673h0M603 694.9h0M608.1 669.3h0M601.4 657.3h0M637.6 683.4h0M643.6 692h0M629.2 702.5h0M616.7 663h0M613.4 645.3h0M630.2 676.1h0M618.8 664.8h0M618.9 661.6h0M617.5 675.1h0M635.5 670.8h0M620.1 695.6h0M603.8 664.7h0M625.7 696.7h0M613.4 657.8h0M641.7 691.3h0M609.4 657.3h0M618 661.6h0M603.4 695.9h0M636 667.2h0M650.3 683.3h0M645.3 657.7h0M599.7 692.9h0M598.4 686.5h0M601.9 661.2h0M638.1 683h0M597.2 657.9h0M624.9 658.6h0M607.5 675.2h0M639.4 665.4h0M643.1 681.1h0M619.7 693.6h0M596.5 685.6h0M627.7 656h0M619.4 683.5h0M603.2 667.6h0M629.1 689.1h0M620.9 675.1h0M643 671.8h0M625 680.9h0M637.2 690.3h0M644.2 689.7h0M632.6 690.4h0M625.7 671.2h0M644 657.2h0M609.3 697.5h0M636.2 667.7h0M621.6 665.5h0M626.4 659.7h0M615.8 650.2h0M603.9 658.8h0M605.1 654.4h0M627.1 695.2h0M633.6 671.7h0M628.8 673.3h0M619.7 704.3h0M615.8 693.8h0M642.8 674.3h0M633.6 675.9h0M605 685.5h0M613.8 667.8h0M643.1 686.1h0M619.8 697.8h0M617.6 680.2h0M631.1 664.8h0M634.6 690.6h0M604.1 660.9h0M600.4 687.8h0M598.7 692.4h0M607.6 655.4h0M612.1 659.7h0M628.4 656.8h0M610.7 684.2h0M614.5 683.3h0M599 650.8h0M623.4 655.9h0M648.8 664.3h0M624.4 699h0M642.3 696.9h0M609.9 676.8h0M613.3 696.8h0M647.3 669.1h0M643.2 668.3h0M609 674.9h0M598.4 659.2h0M610.4 702.8h0M627.6 658h0M621.5 674.1h0M635.4 663h0M635.3 673.3h0M631 697.8h0M600.1 665.3h0M611.8 650.6h0M622.7 684.2h0M602.6 692.8h0M630.3 684.1h0M614.5 678.2h0M614.6 661.8h0M603.3 649.1h0M634.8 693.3h0M623.4 660.5h0M615.8 646.5h0M611.9 689.7h0M602.9 646.7h0M627.5 693.5h0M617.9 678h0M631.3 695.1h0M601.2 653.8h0M606.4 665.1h0M646.5 675.2h0M636.2 689h0M606.2 654.1h0M638.9 667.3h0M619.9 687.6h0M643.3 694.3h0M620.5 654.7h0M632.3 692h0M603.4 679.4h0M640.6 671.9h0M605.1 664.4h0M601.1 665.9h0M602.6 649.6h0M598.1 684.8h0M609.9 648.3h0M609.2 646.7h0M625.8 674h0M637 683.9h0M609.4 657.1h0M602.8 686.2h0M631.4 689.1h0M625.9 686.6h0M626.1 686.8h0M600.5 652.6h0M645.1 656.8h0M647.8 667.6h0M627.3 668.3h0M618.4 699.5h0M632.1 697.6h0M615.9 702h0M650.6 685.8h0M644 682.5h0M610.3 690.1h0M647 678.6h0M637.2 700.2h0M620.5 655.2h0M637.2 681.2h0M594.3 672.8h0M636.5 687.2h0M601.1 656.7h0M609.4 666.3h0M623.6 677.4h0M616.5 694.5h0M643.5 671.2h0M621.3 686.3h0M624.8 704.4h0M627.3 692.5h0M613.3 664.2h0M643.8 677.9h0M624.8 704.9h0M644.1 683.5h0M605.9 667.6h0M625.7 690.7h0M610.3 694.4h0M615.4 697.1h0M642.1 663.8h0M617.6 697.2h0M614.1 695.8h0M612.4 671.5h0M614.1 703.6h0M623.9 675.7h0M644.6 663.1h0M630.5 688.7h0M608.9 679.6h0M623.2 680.8h0M637 667.2h0M626.2 697.2h0M648.7 674.2h0M636.7 695.4h0M601.1 646.4h0M607.3 680.6h0M605.3 670.6h0M597.6 672.5h0M625.9 656.7h0M598 653.5h0M618.7 700.5h0M630.1 682.4h0M620.8 685.8h0M624.1 686h0M627.6 671.5h0M597.7 690.1h0M618.7 701.5h0M625.6 665.3h0M643.7 656.3h0M629.5 700.9h0M618.9 678h0M610.4 662.3h0M635.5 683.4h0M596.7 668.4h0M638.1 688.6h0M600.5 688.3h0M641.4 697h0M643.9 659.5h0M623 685.4h0M594.4 670.2h0M598.9 672.4h0M598.1 675.6h0M612.1 681.9h0M603.1 669.5h0M616.2 655.4h0M639.2 680.1h0M603.6 697.9h0M641.6 671.4h0M641.5 662.5h0M603.6 657.9h0M609.7 654.1h0M598.2 652.8h0M616.4 684.3h0M623.4 661.6h0M607.4 670.3h0M628.7 663.6h0M646.9 687.4h0M602.3 686.4h0M613.2 697.5h0M641.3 660.5h0M598.7 677.9h0M612.4 659h0M604.4 673.5h0M645.8 682.1h0M629.4 699.3h0M639.9 683.7h0M618.1 670.3h0M622 689.8h0M625.2 673.7h0M640.5 692.2h0M607 650.2h0M630.8 675.1h0M634.2 698.3h0M594.2 676.8h0M652.9 682.4h0M621.7 702.5h0M613.6 663.1h0M618.5 670.8h0M639.3 662h0M617.1 649.6h0M620.4 701.8h0M625.8 704.4h0M622.9 661.1h0M627.3 687.6h0M649 677.3h0M612.2 670.6h0M602 672h0M621.4 693.5h0M637.8 673.8h0M611.1 650.7h0M612.9 685.2h0M622.8 692.1h0M630.4 683.8h0M616.9 654.1h0M616.8 699.9h0M626.8 673.1h0M620.9 661h0M615 698h0M622.8 670.3h0M620.4 660.6h0M608.6 684.1h0M635.9 686.1h0M613.4 694h0M650.4 684.3h0M648.6 676.3h0M600 686.6h0M641.5 689.8h0M621.6 696.2h0M605.4 650.9h0M629.3 699.7h0M597.6 684h0M644 688.1h0M615.5 658.3h0M626.6 660.6h0M633.5 669.6h0M625.6 664.5h0M613.3 682.1h0M641.8 691.3h0M629.3 684h0M604.5 648.1h0M617 683h0M598.4 688.6h0M641.9 671h0M603.1 644.7h0M630.5 656.9h0M640.4 689.7h0M638.7 691.8h0M621.2 669.5h0M623.2 682.7h0M623.9 697.8h0M618.9 686.2h0M614.2 675.8h0M635.6 694.6h0M606.5 688.8h0M627.9 678.4h0M610.5 692.6h0M612.3 695.2h0M640.3 688.9h0M646.1 666.9h0M615.4 650.1h0M603.5 653.1h0M644.4 657.5h0M647.3 670.2h0M614.7 650.8h0M628 657.2h0M604.5 698.9h0M632.7 701.6h0M601.5 693.3h0M640.3 663.6h0M651 688.2h0M619.9 653.2h0M637 698.5h0M653.6 683.1h0M625.4 654.9h0M597.8 647.3h0M596.5 687.4h0M637.4 665.9h0M596.9 672.6h0M630.5 658.2h0M651.6 678.4h0M640.9 695.3h0M624 705.1h0M602.8 700.3h0M641.9 690.4h0M632.8 658.8h0M630.2 659.4h0M649 687.6h0M614.3 644.8h0M648.5 664.3h0M622.4 704.6h0M596.9 663.4h0M600.8 692.8h0M596.2 679.2h0M646.1 668.5h0M600.8 662.6h0M655.8 682.6h0M637.4 701.3h0M640.7 696.8h0M629.4 658.7h0M662.5 685.8h0M658.3 690h0M665 691.7h0M656.7 693.3h0M649.2 696.7h0M654.2 697.5h0M668.3 697h0M666.7 703h0M670.8 704.2h0M657.5 704.7h0M654.2 706.7h0M653.3 710h0M648.3 704.7h0M645.8 706.7h0M663.3 712.2h0M660 715h0M600.8 701.7h0M614.7 707h0M621.7 711.3h0M674.3 715.5h0M676.1 714.5h0M672.5 723.3h0M676 710.9h0M672.9 711.8h0M672.1 710.8h0M672.2 719.2h0M670.7 705.8h0M672.9 715.6h0M669 717.5h0M671.7 715.1h0M670.6 721.7h0M671.8 723h0M671 722.1h0M674.2 719.2h0M674.9 727.5h0M671.6 718.7h0M670.2 712.5h0M670.2 719.9h0M672.8 728.8h0M674.5 715.2h0M675.1 714h0M669.5 705.4h0M671.8 714.9h0M674.1 709.9h0M669.6 712.5h0M672.6 725.3h0M670.9 708.8h0M676.4 720.7h0M674.4 708.4h0M671 725.3h0M674.2 721.1h0M674.8 720.1h0M675.6 722.8h0M673 707.2h0M671.4 719h0M674.4 722.1h0M673.7 727.3h0M676 719.6h0M672.6 713.7h0M676 718.4h0M672 726.8h0M671 716.2h0M675.4 731.9h0M678.7 733.3h0M669.2 711.5h0M668.1 717.7h0M673 711.8h0M674.6 719.8h0M671.1 704.5h0M676.7 730.1h0M676.3 733.2h0M669.3 727.5h0M598.3 712.2h0M599.2 715h0M594.7 722h0M593.3 724.7h0M590.5 730.3h0M588.3 735.3h0M585 740.3h0M583.7 743.3h0M580.8 747.8h0M582.5 745.3h0M575.1 773.9h0M546.5 766.2h0M559.1 772.8h0M554.1 773.6h0M558.9 782.4h0M558.2 769.1h0M563.9 778.2h0M568.7 773.5h0M557.3 777.4h0M565.1 779h0M558.6 772.9h0M566 768.3h0M567.5 769.5h0M556.5 766h0M563.9 767.3h0M562.5 771.9h0M560.7 766.4h0M573.3 776h0M566.2 777.1h0M568.3 777.5h0M567.3 773.4h0M563.9 781h0M570.2 773.8h0M563.6 772.1h0M564.3 779.9h0M568.2 781.1h0M570.5 771.4h0M565 766.2h0M548.1 775.5h0M548.7 765.8h0M565.9 765.5h0M556.7 776.9h0M553 770.2h0M555.8 767.6h0M573.6 774.4h0M574.8 772.5h0M570 772.4h0M578.1 777.3h0M571.1 775.5h0M568.7 773.2h0M557.6 781.9h0M568.7 771.2h0M567.3 770.8h0M567.3 764.8h0M558.4 776.5h0M576 773.6h0M565.8 780.1h0M565.4 765h0M556 767.9h0M550.4 767.9h0M573.7 777.2h0M544.2 772.4h0M564.5 774.2h0M564.4 770.6h0M565.1 782.2h0M563.6 766.4h0M551.5 777.2h0M554.7 774.2h0M557.5 768h0M563.4 771.9h0M558.7 773.6h0M574.5 778.6h0M549.2 772.8h0M554.7 771.7h0M556.3 778.7h0M564.1 776.1h0M562.7 777.2h0M547.8 774.1h0M553.8 778.5h0M571.7 777.1h0M576.2 773.6h0M553.7 778h0M558.7 780.1h0M549.3 764.5h0M571.4 773h0M576.6 777.1h0M562 767.9h0M577.9 776.8h0M568.6 776.8h0M551.8 776.6h0M555.2 779.1h0M564.6 768.1h0M551.8 765.2h0M546.1 770.1h0M555.1 781h0M577.1 778h0M557.7 782.5h0M570 771h0M554.7 789.7h0M551.3 794.2h0M553.8 795.8h0M611.2 782.5h0M610.3 786.7h0M720.8 718h0M727.5 720h0M611.7 840.5h0M609.2 843.7h0M609.7 846.7h0M610.8 848.3h0M613.3 852.8h0M613.8 858.7h0M614.7 862h0M615.3 863.3h0M618.3 870h0M620.5 876.3h0M622 878.7h0M623.8 881.7h0M625.3 885h0M623.7 889.7h0M630 890.8h0M631.7 893h0M633.7 895.3h0M634.7 898.3h0M628.8 903h0M636.7 903.3h0M637.5 906.7h0M634.7 908.3h0M640 912h0M635 915h0M639.2 917.5h0M635 919.2h0M637.5 915h0M630.8 922.5h0M628.3 925h0M625.3 925.8h0M705.7 853.7h0M710.7 853.5h0M711 853.8h0M694.6 848.7h0M699.3 855h0M739.7 848.6h0M709.9 847.6h0M741.8 848.1h0M705.1 846.1h0M707.1 850.8h0M721.5 849.9h0M717.3 850.8h0M729.7 852.2h0M706 860h0M731.8 850.5h0M726.3 853h0M693.9 848.2h0M693.8 849.2h0M731.6 858.8h0M713.3 847.4h0M714.2 855.3h0M734.9 857.2h0M695.6 847.2h0M712.1 849h0M709.2 857.7h0M719.1 855.4h0M720.8 858h0M731.1 851.8h0M706.1 854.1h0M706.8 851.1h0M702.4 849.4h0M708.3 849.6h0M709.8 854.5h0M715.8 858.8h0M733.8 857.6h0M701.4 858.7h0M739.5 846.4h0M722.6 859h0M705.9 856.4h0M708.3 850.3h0M737.6 848.6h0M708.5 858.5h0M724.3 853.7h0M713 854.4h0M692.6 850.1h0M714.5 848h0M723.7 849.6h0M708.4 856.8h0M720 856.1h0M714.2 848.8h0M700.1 857.1h0M706.9 858.4h0M721.6 857h0M716.1 847.4h0M706.7 849.3h0M698.2 852.5h0M701.3 857.7h0M705.6 855.1h0M729.1 851.4h0M713.4 856.5h0M703.5 858.8h0M708.3 856.9h0M726.1 851.7h0M735.8 850.7h0M739.1 847.7h0M721 859.9h0M738 856.1h0M742 849.2h0M718.4 845.8h0M715.7 859.2h0M702.9 858.6h0M723 847.5h0M723.8 856.9h0M700.7 849.6h0M737.5 847.9h0M707.3 846.4h0M737.1 853.4h0M700.5 854.9h0M727 850.7h0M713.8 857.5h0M706.7 848.9h0M697.6 853h0M721.5 846.8h0M737.8 855.9h0M705.7 846.5h0M694.5 849.5h0M707.2 857.2h0M707.3 852.3h0M708.8 850.6h0M739.4 850.4h0M721.5 845h0M723.8 849.7h0M709.4 861.4h0M697 856.8h0M696.7 847.8h0M724 860h0M699.5 849.9h0M733.9 845.9h0M694.8 849h0M698.7 850.4h0M727.9 847.9h0M734.2 848h0M714.9 849.1h0M699.8 849.9h0M702.6 846.3h0M713.9 848.1h0M731.4 848.6h0M718.1 857.6h0M700.2 856.3h0M702.3 857.3h0M739.4 854.4h0M705.1 847.7h0M704.2 830h0M708.7 834.5h0M711.2 839.5h0M721 820h0M729.5 840.5h0M739.7 838h0M744.5 841.3h0M693.3 930h0M725.5 940.6h0M710.3 934.6h0M714.2 939.1h0M717.4 941.4h0M714.8 938.3h0M718.3 942.7h0M721.7 940.7h0M713.6 936.8h0M717.6 939.4h0M716.3 935.5h0M713.3 935.9h0M719.9 944.4h0M713.5 935.5h0M713.4 937.1h0M716.2 938h0M715.5 947.3h0M712.3 933.8h0M726 940.4h0M717.6 945h0M715.4 934h0M716.3 947.9h0M716.4 934.5h0M721.3 942.5h0M708.1 934.9h0M724.2 940.4h0M718.4 939.9h0M720.4 936.8h0M716.4 935h0M712.5 933.3h0M720.5 942.6h0M717.3 941.7h0M715.9 945.9h0M656.2 980.8h0M658.3 983.3h0M660.8 984.7h0M655.8 983.7h0M724.2 501.7h0M735.8 524.2h0M719.7 535.3h0M728.2 537h0M721.8 546h0M726.7 554.8h0M739.2 559.2h0M740 550.8h0M737.8 545h0M753.3 563h0M759.7 565.7h0M748.8 571.3h0M746.7 566.7h0M745 562.8h0M747.5 557.5h0M755.8 557h0M754.7 541.7h0M742.8 535.3h0M749 544.7h0M748.7 540.3h0M749.3 551.7h0M751.6 540.7h0M743 535.5h0M751.1 541.9h0M750.7 547.7h0M750.5 542.7h0M743.8 536.9h0M745.1 541.9h0M747.3 541.6h0M749.5 541.7h0M753.1 547.4h0M752.7 546.5h0M742.7 534.6h0M747.6 548.2h0M747.7 547.1h0M749.3 546.6h0M745.2 540.3h0M749.5 545.7h0M752.9 549.6h0M744.3 540.8h0M742.2 535h0M745.5 542.4h0M748.2 540.9h0M749.1 549.9h0M752.9 545.7h0M742.9 535.4h0M750.6 547.9h0M747.9 545.9h0M751.2 546.4h0M750.7 548.6h0M743.2 536.8h0M749.3 594.6h0M758.4 600.3h0M750.2 591.6h0M750.4 595.7h0M755.9 595.8h0M737.6 598.6h0M766.9 597.8h0M758.5 604h0M777.1 597.2h0M723.1 595.1h0M775.5 594.1h0M753.2 603.5h0M771.6 592h0M716 588.8h0M749.6 604.4h0M781.4 591.9h0M758.7 594.9h0M769.4 602.2h0M745.3 596h0M771.4 585.1h0M729.8 598.1h0M737.4 603.3h0M752.4 600.1h0M719.2 591.1h0M765.5 595.9h0M766 601.4h0M708 581.7h0M773.9 600.4h0M767.3 593.9h0M768.5 588.8h0M781.3 584.7h0M779.6 596.9h0M774.4 590.7h0M741.9 599.8h0M757.7 598.5h0M775.2 600.5h0M721.8 592h0M771.6 590.3h0M713.7 587.1h0M780.3 580.1h0M771.7 583.6h0M763.2 603h0M773.5 584.1h0M727 594.6h0M779.9 585.8h0M728.6 594.2h0M757 602.1h0M748.1 601.2h0M731.8 599.3h0M756.9 598.5h0M757.7 591h0M751.4 593h0M778.6 596.3h0M775.3 596.6h0M770.2 600.9h0M760.5 592.7h0M759.1 595.6h0M773.2 584.1h0M736.9 601.8h0M747.5 604.6h0M776.4 583h0M740.8 601.7h0M753 605.2h0M747.2 602.7h0M777 594h0M743.7 600.2h0M776.1 588.1h0M778.9 591.1h0M769.6 582.8h0M770.7 591.2h0M760.2 590.6h0M737.2 596.4h0M727.9 595.9h0M771.7 586.8h0M747 602.6h0M757.9 599.4h0M732 594.4h0M765.6 589.5h0M748.3 601.9h0M717.3 589.2h0M722.1 591.2h0M783.2 585.1h0M730.8 599h0M722.3 592.4h0M719.7 588.9h0M720.1 589.3h0M759.3 597.9h0M722.4 593.3h0M749.8 599.9h0M776.6 582.3h0M739 599.2h0M734.1 601.6h0M774.3 599.5h0M730.1 593.8h0M734.6 597.9h0M724.5 594.4h0M750.5 604.4h0M721.7 592.8h0M774.5 598.9h0M751.3 605h0M769.6 587h0M734.6 600.4h0M764.7 590.6h0M755.7 590.2h0M759.5 590.9h0M752 595.6h0M774.7 587.4h0M729.7 600.5h0M772.2 590.3h0M761.8 600.8h0M761.4 601.5h0M751.4 602.3h0M735.9 602.7h0M764.7 590.2h0M780.9 581.1h0M773 584.4h0M777.1 585.5h0M757 601.6h0M757 599h0M759 593.9h0M732.9 598h0M742.6 601.9h0M769 597.7h0M748.6 601.1h0M744.8 596.8h0M765.3 593.1h0M782.4 587h0M779.6 593h0M718 590.7h0M752.2 605.2h0M765.2 587.5h0M723.7 592.4h0M774.9 587.6h0M751.6 594.4h0M777.9 593.7h0M724.5 598.4h0M740.7 601.9h0M753.5 602.4h0M763.4 596.8h0M738.2 602h0M756.6 602.7h0M767.7 603.2h0M728 594.6h0M772.5 586.5h0M774.3 600.4h0M722.2 590.6h0M756.9 591.3h0M761.2 596.1h0M750.6 590.4h0M768.7 598.3h0M759.1 590.7h0M757.4 592.3h0M759.7 598h0M773.5 584.4h0M739 602.8h0M775.2 582.7h0M738.1 600.6h0M766.2 599.1h0M773.1 595.2h0M745.8 604h0M773 597.3h0M746.2 601.3h0M763.5 601.7h0M722.4 595.3h0M719.3 593.4h0M747.1 602.5h0M758.2 597.7h0M779 590h0M762.2 602.3h0M736.9 596h0M722.3 592.9h0M748.8 605.8h0M772.2 598.5h0M762.4 591.8h0M728.1 598.3h0M761.8 602.3h0M777.7 583h0M749.9 593h0M752.2 591.6h0M775.1 582.5h0M763.8 600.2h0M746.3 604.5h0M740.3 602.3h0M775.6 600.6h0M738.9 595.8h0M779.4 591.6h0M776.5 583.1h0M775.6 581.3h0M778 582.3h0M761.7 600.6h0M718.1 589.5h0M757.4 602.9h0M735.5 603.3h0M734.7 598.2h0M780.1 583.9h0M775.7 584.6h0M763 591.5h0M744.9 597h0M729.2 599.8h0M781.8 580.7h0M769.5 587.9h0M726.7 599.8h0M734.7 589.5h0M741.3 588.3h0M782.2 562.5h0M787.2 565h0M785 568.3h0M783.7 571.3h0M1028.1 737.4h0M1021.4 692.9h0M1033.1 709.2h0M1058.3 676.9h0M948.9 747.7h0M932 778.4h0M991.1 769.4h0M1036.2 648.2h0M1007.1 642.3h0M1028.6 714.6h0M928.9 759.6h0M1052.6 660.8h0M972.7 726.3h0M1000.3 739.4h0M1028.8 705h0M945.6 718.6h0M986.5 678.2h0M1042.4 681.4h0M978.8 746.6h0M1007.6 663.3h0M1018.5 747.5h0M983.9 702.7h0M995.8 646.1h0M1011.8 762.9h0M924.1 745.3h0M1017 641.8h0M904.5 719.4h0M1002.4 728.5h0M1024.3 715h0M986 739.8h0M1018.2 723.2h0M1009 700h0M989.4 736.7h0M923.5 752.7h0M1005.9 642.1h0M964.8 710.4h0M977.2 678.2h0M995.3 663.1h0M966.6 774.2h0M964.6 664.6h0M1017.8 653.2h0M948.1 775.3h0M1006.1 724.5h0M956.3 732.2h0M972.1 741.1h0M927.4 781.8h0M899.7 723h0M956.3 753h0M920.5 767.8h0M1016.5 705h0M972.5 656.8h0M923.4 759.8h0M990.1 666.3h0M1003.1 725.6h0M919.2 717.6h0M947.4 763.2h0M995.2 658.5h0M963.3 697h0M1017.4 762.8h0M911 724.3h0M912.2 714.7h0M1026.1 717.6h0M925 777.4h0M1022.2 684.1h0M915.7 771.8h0M944.1 742.8h0M1029.6 679h0M982.8 711.7h0M917.3 725.2h0M983.4 655.3h0M1042.1 718.2h0M995.1 660.1h0M934 766h0M948.4 766.2h0M954.7 747.3h0M1002.1 775h0M1018.1 635.4h0M941.8 731h0M972 745.8h0M923.7 743.5h0M968.8 684.4h0M946.3 769.5h0M1058.7 664.5h0M1042.8 650.8h0M1009.4 637.2h0M1001.6 682.6h0M1028.6 706.8h0M1031.5 680.2h0M1055.4 664.2h0M995.6 716.1h0M1019.5 669.2h0M964.1 675.1h0M954.1 748.6h0M1001.8 662.4h0M909.7 722.7h0M933.4 777.1h0M953.3 735.1h0M998 699.9h0M1014.1 767.8h0M1015.2 705.3h0M987.7 744.8h0M1015.3 638.1h0M1032.4 724.7h0M943.5 747.9h0M990.7 764.8h0M1051.9 651.8h0M1007.9 725.3h0M986.7 677.4h0M982.7 686.7h0M992.4 759.4h0M1031.5 744.3h0M1012.8 695.6h0M968.5 695.7h0M1019 669h0M1005 708.5h0M1045.9 699.3h0M931 727h0M1005.5 769.8h0M920.4 758.7h0M1026.8 661.3h0M948.9 707.8h0M962.5 685.7h0M1017.8 732.8h0M915.7 715.4h0M969.3 684.5h0M1010.8 665.7h0M984.9 648.6h0M1001.5 775h0M1025 682h0M943.6 691.1h0M945.7 710.8h0M1005 746.1h0M1017.6 732.1h0M966.5 693.7h0M1026.4 680.8h0M985.4 687.3h0M986.4 755.5h0M1023.9 716h0M984.7 774.3h0M945 727.5h0M1056.1 665.4h0M971.6 705h0M925.4 725.6h0M1002.2 659.6h0M1051.4 671h0M992.2 718.5h0M995.1 677.4h0M1031.5 723.9h0M992 700.8h0M944.4 688.7h0M1021.9 738.1h0M968.9 716.9h0M1044.9 642.5h0M1018 712.1h0M973.8 726.5h0M948.2 686.8h0M953.3 727.4h0M974.5 716.6h0M990 715h0M1023.2 715.4h0M901.8 711.1h0M1029 638h0M1020 762.1h0M945.9 722.1h0M988.5 711.7h0M1026.3 743.6h0M977.8 731.2h0M923.5 770.3h0M993.7 672.8h0M908.1 725.1h0M1017.7 717.5h0M1002 743.9h0M995.8 676.2h0M997.9 741.6h0M1045 673.6h0M1024.5 743h0M1044.2 712.1h0M975.6 761.5h0M1010 739.1h0M986.7 713.3h0M1028.3 757h0M1007 741.9h0M983.1 649h0M924.7 715.4h0M958.9 767.4h0M947.4 702.4h0M928.2 759.9h0M957.7 739.3h0M1022.1 695.6h0M915.5 779.8h0M972 691.5h0M996.9 732.6h0M1012.1 632.8h0M1013.4 707.1h0M999.5 767.5h0M980.5 706.6h0M1058 664.4h0M956.3 766.4h0M1009.6 700.8h0M943.5 730.4h0M972.1 724.7h0M1037.9 737.9h0M972.8 760.8h0M1037.1 721.2h0M970.8 734.4h0M946.7 734.7h0M962.8 753.9h0M1036 715.5h0M940.9 687.5h0M958.4 705.3h0M951.2 767.7h0M979.5 727.7h0M1044.7 638.5h0M936.4 771.9h0M984.3 744.1h0M1059.9 668.2h0M1021.2 642.8h0M961.2 708.1h0M1003.5 655.9h0M958 753.5h0M999.1 653.1h0M1047.1 675.1h0M973.7 695.5h0M965.3 689.9h0M1023.5 701.4h0M989 710.5h0M984.4 739.3h0M1009.6 743.3h0M984 750.9h0M1009.7 758.1h0M1028.7 642.9h0M972.1 731.9h0M1018.5 694.6h0M997.6 766.8h0M998.5 717.6h0M998.2 645.4h0M1035.1 669.8h0M1017.4 731.1h0M991.3 689.2h0M942.7 714h0M974.5 704.3h0M1010.1 727h0M952 751.9h0M1023.6 652.2h0M974.1 717.1h0M1031.9 652.3h0M931.1 747.9h0M1015 671.8h0M938 695.1h0M901.8 724.1h0M1031 657h0M1029.5 719.4h0M934.7 700.5h0M998.6 756.2h0M990.2 654.6h0M985.9 748.5h0M1018.7 746.7h0M935.7 722.5h0M962.1 741.5h0M1020.7 655.4h0M932.1 779.3h0M1033.9 730.1h0M926.9 742.3h0M942.1 732h0M931.3 728.8h0M974.3 730h0M1028.1 643.9h0M952.6 738h0M1006.5 705.8h0M971.3 697.5h0M920.3 714.2h0M910.9 714.5h0M998.6 776h0M965.2 742.6h0M936.5 778.2h0M939.9 726.9h0M914.4 716.7h0M1027.7 704.1h0M944.4 715h0M1023.2 710.2h0M1065.2 666.9h0M943.8 766.2h0M932 717.2h0M984.9 654.7h0M947.6 716.2h0M1021.5 702.5h0M950.9 755.4h0M948.9 746.9h0M1027.4 751h0M938.1 702.3h0M1048.7 668.3h0M1004.4 701.5h0M994.9 691.7h0M1000 658.3h0M961.9 681.5h0M994.7 662.6h0M984.2 665.6h0M995.7 721.5h0M1021.3 741h0M1021.5 636.1h0M978.2 685.9h0M1031.8 658.8h0M950 775.4h0M955.8 694.4h0M904.8 725.3h0M972.9 682h0M1012.4 744.3h0M1014.7 753.7h0M994 776.8h0M928.2 727.9h0M978.4 674.1h0M922 767.2h0M955.2 740.9h0M1025 688.7h0M960.9 704.6h0M915.4 782.4h0M982.8 723.5h0M993.3 649.5h0M1031.5 732.8h0M1012.4 764.5h0M949.4 678.7h0M1001.7 669.6h0M1038.3 655.4h0M987.9 738.2h0M991.7 708h0M1026.7 630.2h0M931.4 711.5h0M1021.7 710.6h0M1024.4 748h0M970.5 693.2h0M924 713.1h0M1003.4 666.7h0M1025.8 726.6h0M1050.7 672.8h0M965.3 772.5h0M938.8 691.1h0M990.7 710.3h0M1019 703.6h0M1050.7 654.6h0M1005 673h0M998.4 666h0M1005.2 750.7h0M1042.2 692.4h0M974.8 739.4h0M1005 704h0M965 719.1h0M1036.1 643.2h0M933.5 744.6h0M992.4 742.1h0M1016.2 731.8h0M1006.5 644.3h0M986.2 704.7h0M970.7 776.1h0M987.3 763.9h0M909.7 722.8h0M956.7 742.5h0M1014.9 729.1h0M1006.9 639h0M1008.7 768.2h0M1043.5 710.7h0M955.8 767.5h0M967.2 744.9h0M953.7 749.8h0M949.9 714.6h0M942.4 776.6h0M930.6 759.1h0M963.2 741.2h0M930.1 744.5h0M944.8 710.1h0M946.6 740.4h0M978.5 662.4h0M1000.8 746h0M964.8 676.4h0M1042.1 728.5h0M936.1 714.6h0M1036 732.3h0M1004.4 714.9h0M970.1 780h0M1041.3 686.9h0M1037 639.4h0M951.9 768.8h0M989.5 678.1h0M1019.3 700.7h0M1007.2 735.9h0M997.2 640.2h0M969.7 750.5h0M990.8 682.2h0M1020.1 768.7h0M1024.1 739.1h0M1012.9 628.8h0M988.1 685.1h0M980 654.5h0M1022.1 763.8h0M1027.6 707.5h0M1011.2 763.8h0M997.1 777.4h0M1015.2 752.4h0M951.5 769.6h0M1003.2 671.8h0M1031.2 677.6h0M942.8 765.6h0M959.5 767.3h0M1020 731h0M1023.9 701.4h0M1026.7 684.2h0M973.8 746.7h0M1006 633h0M1038.8 669.7h0M1032.2 685h0M985.6 762.1h0M953.3 764.9h0M930.2 768.6h0M977.6 728.4h0M982.9 714.5h0M1002.7 641.6h0M1006.7 713.7h0M986.9 743.4h0M1058.2 671.5h0M1006.3 687.8h0M987.9 685.9h0M1017.8 734.3h0M1037.9 737.6h0M1009.7 629.1h0M980.5 741.7h0M1008.3 745.1h0M995.4 778.2h0M1005.8 768.6h0M942.4 728.1h0M991.4 757.2h0M1032.1 656.7h0M920.2 752.6h0M915.5 767.2h0M896.9 708.1h0M1031.3 639.1h0M974.4 707.2h0M952 716.4h0M929.1 745.5h0M1045.3 665.3h0M956.5 697h0M1030.3 641.2h0M1041.6 686.6h0M1026.9 731.2h0M1030.6 670.8h0M973.2 749h0M958.9 765h0M1036.3 726.4h0M997 700.2h0M1007.9 706.6h0M963.9 661.2h0M989.8 711.6h0M1056.9 674h0M1040.3 736.2h0M998.9 740.8h0M1043.5 720.8h0M995.1 761h0M914.8 728.7h0M984.9 752h0M969.5 673.8h0M1026.1 700.2h0M922.3 780.3h0M1004.7 679.4h0M1002.2 757.1h0M967.1 696.8h0M1001.8 750.2h0M945.5 763.6h0M1009.6 743.5h0M981 728.4h0M978.5 681.5h0M1040.9 721.8h0M956.6 681.9h0M998.2 685.5h0M960.4 749.9h0M1009.6 749h0M1038.7 662.5h0M1021.6 755.1h0M950.7 711.3h0M940 722.1h0M997.2 733.3h0M995.7 716.7h0M1019.9 768.6h0M943.8 768.8h0M942.1 693.9h0M956.4 691.8h0M1039.4 735.4h0M1020.1 767.5h0M990.2 735.2h0M1044.5 712.6h0M983.2 766.6h0M963.1 759.4h0M935.1 700.6h0M964.1 713.9h0M1026.5 760.8h0M1001.4 739.6h0M1032.9 724.5h0M937.6 763.5h0M965.7 683.8h0M988.9 726.9h0M979.3 742.6h0M972 758h0M1056.6 676.8h0M942.1 693.7h0M942.3 778.5h0M983.6 706.6h0M995.7 715.2h0M914 762.8h0M1013.4 756.1h0M936.9 750.4h0M1028 659.7h0M1015.8 729.5h0M1057.5 664.2h0M996.8 769.9h0M996.2 741.1h0M980.3 771.1h0M1030.8 712.1h0M1002.2 661.3h0M934.3 774.9h0M1029.3 721.7h0M1007.6 772.8h0M991.2 723.4h0M982.6 694.8h0M1045.3 700.8h0M1018.1 723.7h0M995 644h0M951.2 776.3h0M1045.9 729.4h0M954.2 734.9h0M916.4 724.6h0M1040.6 659.5h0M978.4 662.3h0M971.9 759.8h0M990.5 663.1h0M953.9 720.2h0M1027.1 732.5h0M961.2 706.9h0M1043.8 652.7h0M1051.3 653.4h0M951.9 774.3h0M918.7 772.3h0M1032.4 667.3h0M973.4 775.8h0M979.1 710h0M992.6 777.4h0M988 698.2h0M996.2 653.4h0M1038.4 685.5h0M975.8 665.8h0M929.7 765h0M942.1 699.9h0M1024.6 724.6h0M931 767.9h0M1018.9 693h0M1005.5 772.2h0M965.2 740.8h0M1025.6 660.9h0M935 703.6h0M1026.4 674.6h0M993 747.6h0M1001 654.8h0M1020.4 743.7h0M899.6 719.6h0M960.6 706.5h0M1010.6 692.3h0M1007.2 711.9h0M950.8 769.8h0M1021.3 640.7h0M1040.1 740.7h0M1019.4 765.7h0M987.5 672.4h0M947.3 726.6h0M960.1 681h0M1004.6 676.8h0M955.9 688.3h0M961.2 704.7h0M1001.9 714.2h0M1002.8 660.4h0M1003.7 706.9h0M1013.3 735.8h0M957.7 675.6h0M950.7 772.3h0M1000.1 681.7h0M940.8 703.1h0M1003.1 766.1h0M955.4 721.5h0M1022.6 736.1h0M1032.9 693h0M925.3 719.5h0M937.6 759.8h0M1011.8 686.8h0M1050.5 707.4h0M973.8 668.3h0M1018.5 642.4h0M997 673.5h0M1042.8 732.9h0M986.6 718.2h0M1047.5 705.8h0M1001.6 742.3h0M924.1 750.8h0M1009.9 733.5h0M946.6 770.4h0M915 755.1h0M1052.8 667.3h0M1003.8 655.6h0M924.4 756.3h0M943.2 716.7h0M942.5 688.2h0M959.2 762.8h0M1000.4 722.6h0M939.2 700.9h0M962.3 745.8h0M1016.7 680.2h0M984 687.2h0M999.3 733.4h0M940.3 725.3h0M942.8 726.9h0M1025.1 660.7h0M963.6 773.7h0M1027.6 673.6h0M996.4 753.8h0M1041.3 696.2h0M990.3 670h0M1021.2 721.5h0M969.2 720.2h0M1005.9 737.2h0M979.6 728.9h0M951.7 722.3h0M1002.4 674.9h0M933.9 712.7h0M979.7 763.3h0M1035.4 729.5h0M1031.9 748.8h0M937.9 748.8h0M997.2 680h0M944.4 701.3h0M1006.9 624.4h0M1013.6 753.6h0M1009.8 742h0M902.4 724.3h0M972.2 707.7h0M934.9 775.8h0M969.4 770.3h0M940.2 735.9h0M1014.2 755h0M954.4 751.6h0M963.5 684.2h0M1034.6 750.8h0M970.4 776.4h0M937.4 709.2h0M1009.2 728.4h0M972 773.1h0M998.8 686h0M1009.4 737.9h0M949.4 699.8h0M1016 641.4h0M1004.8 653.9h0M945.2 698.4h0M924.6 775.3h0M1034.2 723.4h0M1008.7 679.6h0M943.2 780.5h0M986.6 668h0M976.3 741.2h0M1055.5 673.2h0M960.6 713.5h0M999.1 641.2h0M916.9 712.1h0M1017.6 741.6h0M931.7 780.6h0M972.1 738.6h0M977.2 745.9h0M975.9 665.6h0M1036.7 644.1h0M946.5 768h0M1048.7 711.6h0M941.5 687.3h0M1027.2 666.7h0M980.8 759h0M952.2 736.1h0M989.7 740h0M1048.5 724.5h0M1025.9 674h0M918.6 731.1h0M1010.1 773h0M962.4 702.8h0M1000.5 716.9h0M920.5 777h0M971.4 709.8h0M956.1 754.7h0M958.7 749.9h0M962.9 679.9h0M1036 681.1h0M1005.7 680.4h0M990 735.5h0M922 714.5h0M953.6 680.3h0M980.1 697.2h0M987.9 678.2h0M939.7 738.7h0M1024.5 698.2h0M988.4 654.8h0M999 725.1h0M957 676.5h0M1010.6 691.3h0M970.3 740.2h0M949.6 720.5h0M931.9 732.6h0M1012.2 742h0M1066 671.5h0M1042.6 708.8h0M1042.8 696.7h0M1036.6 667.4h0M971.1 682.1h0M1030.2 657.8h0M1052.2 655.4h0M924.6 725.5h0M1035 717.2h0M950.3 767.4h0M979.8 666.6h0M1008.4 626.3h0M993.6 686.5h0M1004.8 678.3h0M961.3 664.5h0M987 685.4h0M1031.4 700.2h0M1045.3 664.1h0M1034.7 662.4h0M901.9 710.7h0M962.1 747.8h0M915.7 783.4h0M985.9 746.1h0M1016.7 703.1h0M1031.5 717.7h0M1007.8 633.1h0M1026.9 679.2h0M1018.3 667h0M1008.2 770.5h0M1042.8 719.8h0M935.5 774.9h0M982.3 695h0M1000.4 726.3h0M1013.8 691.5h0M1003.3 734.5h0M957.6 754.6h0M1015.1 711.5h0M961.7 764.9h0M968.5 685h0M1004.6 740.2h0M947.9 685.7h0M960.4 715.5h0M914.7 723.2h0M952.9 776.2h0M959.1 690.7h0M943.3 700.9h0M966.1 720.6h0M1000.3 708.8h0M962.9 669.3h0M1014.8 717.2h0M937.7 765.6h0M911.1 732.8h0M916.6 743.3h0M1040 668.6h0M949.1 736.1h0M1007.9 764h0M1002.1 701.9h0M938.5 723.6h0M919.4 766.1h0M1003.2 697.5h0M954.1 698.6h0M1044.1 734.9h0M1021 738.6h0M926.9 777.5h0M926.6 778.3h0M1008 635.4h0M1029.7 657.7h0M984 746.7h0M909.1 715.9h0M999.5 728.4h0M1000.2 645.4h0M964.5 668.7h0M981.2 648.4h0M943.5 719.8h0M922.4 754.5h0M1038.3 697.3h0M1000.2 767.3h0M1027.6 671.4h0M1026.9 659.3h0M944.1 727.8h0M968.2 768.9h0M1028.7 725.9h0M1003.7 638.9h0M932.1 731.5h0M932.9 712.4h0M1002.7 631.7h0M1006.9 748.5h0M1035.2 646.7h0M1021.1 721.9h0M1019.4 673.5h0M1017.1 748h0M1025.3 747.2h0M961.3 763.1h0M1019.6 726.6h0M953.7 672.9h0M989 696.1h0M948.6 756.8h0M1012.8 694.6h0M994.4 692h0M1032.7 749h0M1059 675.8h0M922.3 751h0M997.7 676.6h0M968.7 768.4h0M969.9 749.7h0M1030.6 681.9h0M944 700.9h0M1007.9 728.7h0M1009 731h0M940 690h0M1013.1 688.5h0M1045.9 664h0M1002 769.8h0M997.3 702.7h0M1007.9 755.5h0M956.2 762h0M947.2 739.4h0M973.1 711.4h0M948.5 677.8h0M983.3 736.5h0M927.3 710.4h0M969.6 681.1h0M1017.5 720.7h0M1039.8 670.7h0M994 750.3h0M995.9 689.9h0M986.4 727.7h0M1013 749.4h0M996.5 683.1h0M1039.3 662.1h0M912.5 775.2h0M1042.2 652.7h0M983.5 696.6h0M1009.2 685.4h0M979.4 681.8h0M945.8 700.7h0M909.7 733.7h0M946.3 781h0M967.3 691.1h0M1003.6 632.8h0M935.8 769.3h0M912.4 775.9h0M959.8 726.5h0M950.1 683.4h0M1011.4 687.3h0M986.6 727h0M1006 699.9h0M972.4 724h0M929.4 779h0M928 731h0M990.1 692.8h0M917.7 724.2h0M930 732.1h0M988.9 665.3h0M1000 765.8h0M916.3 727.7h0M1021.2 653.2h0M940.6 700.3h0M974.7 710.7h0M990 770.4h0M910.3 719h0M988.6 680.5h0M993.6 702.4h0M954.5 711.3h0M981.4 729.6h0M997.2 666.5h0M1042.2 741.4h0M1023.1 679.1h0M1008.6 639.6h0M956.6 697.4h0M1063.6 664.6h0M956.8 702.6h0M951 713.9h0M960.5 777.3h0M1041.7 658.3h0M1023.2 736.8h0M935.2 752.8h0M1043.7 647.6h0M1011.9 732.2h0M988.4 770.8h0M968 675h0M939.9 719.9h0M958.6 757.2h0M982.6 770.4h0M995.4 703.4h0M906.9 733.9h0M933.3 764.1h0M925.3 726.1h0M962.4 669.3h0M943.9 747.6h0M1013.1 748.8h0M962.7 722h0M965 765.5h0M983 774.3h0M930.3 759.7h0M1003 653.1h0M1021.5 643h0M1007.4 727.8h0M990.8 696.8h0M931.4 709.9h0M1025.8 659.4h0M904.9 732.6h0M957.5 709.4h0M1009 697.1h0M978 765.3h0M902.8 709.1h0M918.2 709.8h0M1049.3 667.1h0M958.6 679.1h0M1026.8 649.4h0M978.5 754.2h0M1033.5 711.6h0M1013.4 697.3h0M1020.2 754h0M967 720.4h0M993.2 771.9h0M989.1 686.4h0M952 738.3h0M1048.2 650.8h0M976.3 762.3h0M983.9 691.8h0M946.5 723.8h0M951.9 766.1h0M992.7 745.3h0M957.8 740.1h0M941.3 778.4h0M1042.7 656h0M961.6 661.9h0M1031.7 727.3h0M1011.1 653.8h0M982.6 735.3h0M1030.4 640.7h0M948.5 731.6h0M983.1 669.7h0M918.9 780.9h0M966.8 686.9h0M1018.4 682.5h0M1000.8 650.6h0M946.5 726.4h0M1042.8 649.4h0M955.2 679.8h0M992.1 663h0M990.8 743.8h0M960.2 738.6h0M962.8 689.9h0M990 683h0M943.3 767.2h0M990 777.5h0M932.2 758.5h0M904.6 720h0M991.4 761.1h0M941.3 763.4h0M1031.4 699h0M916.8 712.4h0M974.3 686.2h0M982 658.4h0M1009 732.2h0M980.8 672.6h0M941.2 713.9h0M1022.5 654.8h0M1007.3 671.2h0M939.5 752.3h0M986.4 709.1h0M1044.5 732.3h0M1009.8 739.3h0M951.7 728.8h0M982.4 674.9h0M942.4 713.6h0M974.3 737.6h0M982.4 717.8h0M974.7 654.3h0M1005.3 759.1h0M992.7 692.5h0M1051.1 651.3h0M986.4 734.4h0M953.5 699.2h0M1026 727.6h0M925.1 721.8h0M1012.3 709h0M983.8 776.4h0M1044.2 698.5h0M996.4 677.7h0M983.5 648.4h0M1004 749h0M921.5 759.2h0M1038.5 658.1h0M983 770.3h0M948.3 711.2h0M923.9 775.4h0M1042.4 658.5h0M1010.7 638.1h0M1032.4 661.1h0M1055.7 677h0M927.6 756.4h0M982.7 656.1h0M1024.2 743.6h0M1017.1 656.1h0M925.7 732.7h0M950.7 712.4h0M1045.6 664.9h0M942.8 778.8h0M1012.6 656.1h0M948.8 765.1h0M904.1 718.1h0M917.2 714h0M960.5 677.9h0M1035.1 744.5h0M1009.8 653.6h0M1003.8 771.2h0M1029.8 713.6h0M955.7 684.5h0M1029.6 729.6h0M1026.2 661.7h0M977.2 718.8h0M1030.3 690.3h0M1030 745.7h0M969.6 690h0M969.7 663.5h0M932.2 762.9h0M963.2 756.1h0M990.8 753.9h0M1034.9 695.3h0M968.6 776.4h0M1041.6 648.2h0M916.5 737.6h0M940.3 768.1h0M995.7 651.2h0M1031.7 667.3h0M958.7 757.8h0M979 756.7h0M996.6 773.3h0M1035.4 645.1h0M937.6 705.9h0M953 693.4h0M953.8 740.9h0M1032.9 672.7h0M922 742.3h0M987.5 685.3h0M979.6 663.4h0M966.5 762.8h0M1004.4 745.7h0M947.1 756.9h0M942 751.8h0M1022.1 709.6h0M1023 723.8h0M1000.8 716.1h0M991.5 727.8h0M948.5 774.4h0M1014.9 716.5h0M1029.5 653.2h0M947.1 721.1h0M1040.2 722.2h0M1041.4 725.1h0M980.2 652.1h0M931.8 765.6h0M967.9 718h0M978 765h0M960.3 744.4h0M1010.5 656.6h0M980 717.3h0M999.5 679h0M984.4 697.4h0M1023.5 662.9h0M1039.6 713.6h0M1001.2 670.4h0M1020.6 766h0M1006 642h0M972.9 690.4h0M975.9 749.4h0M1007.6 725.4h0M970.4 779.5h0M1013.2 736.7h0M992.9 670.3h0M989.1 696.2h0M940.8 751.4h0M949.9 760.4h0M981.9 722.6h0M947.9 711.7h0M973.2 761.7h0M984.8 769h0M994.3 758.3h0M910.8 721h0M1044.5 658h0M1031.2 722.3h0M990.1 668.3h0M1006.3 696.6h0M1016.4 680.7h0M1026.2 684.8h0M955.9 737.6h0M1036.5 658.5h0M1029.7 753.5h0M1001 669.6h0M943.3 727.5h0M941 724.5h0M991.6 644.8h0M920.4 743.7h0M943.3 767h0M987.6 733.6h0M953.2 757.9h0M1004.6 642.1h0M1030.8 640.2h0M976.6 753.3h0M928.5 708.7h0M986.4 701.6h0M1043.2 662.8h0M1046.1 678.8h0M1003.1 647.9h0M1008 765.2h0M943 730.8h0M994.3 733.9h0M971.7 727.7h0M1033.3 749.5h0M1053.1 662.5h0M982.8 677.5h0M949.6 747.6h0M991.9 667.7h0M1045.6 653.5h0M936 701.3h0M993.6 686.1h0M1023.2 688.7h0M999.2 651.4h0M1017.8 689.5h0M1043.3 703.5h0M986.7 703.4h0M1011.6 676.8h0M1004.6 759.6h0M964.4 722.2h0M1023.4 726.9h0M962.1 674.2h0M947.2 729.2h0M1037.2 691.2h0M925.3 749.4h0M924.5 782.2h0M924.6 715.3h0M926.6 705.8h0M955.4 754.1h0M1034.4 751.4h0M986.3 678h0M994.3 758.7h0M1013.2 711h0M988.7 742.8h0M932.9 743.6h0M1032.8 742.1h0M1003.4 665.2h0M1023.7 671.5h0M934.1 717h0M1036.9 703.5h0M973.9 727.8h0M999.6 751.7h0M1024 709.1h0M979.2 749.4h0M964.9 754.3h0M1010.9 628.4h0M1010.6 746.8h0M942.9 708.8h0M927.3 723.4h0M996.3 641.5h0M1036.4 672.7h0M943.2 696.8h0M994.1 654.7h0M940.4 731.5h0M958.2 670.6h0M1026.2 676.7h0M959.3 695.8h0M966.9 666.7h0M944.4 763.8h0M897.9 714.4h0M990.4 702.1h0M995.2 715.9h0M915 782.1h0M1021.1 720.7h0M1029.8 718.6h0M1034.7 745.6h0M1049 649.7h0M967.8 769.5h0M1031.2 648.5h0M950.7 780.5h0M917.4 765.1h0M980.4 678.8h0M984.3 700.7h0M1019.7 646.1h0M929.1 711.8h0M954.2 721.8h0M923.1 717h0M1054.9 664.6h0M955.1 706.9h0M1000.9 675.8h0M1047.2 651.8h0M1029.3 681h0M999.2 773.1h0M924.7 758.9h0M923 734.3h0M1031.6 707.9h0M962.7 745h0M966.6 731.7h0M1003.3 774.9h0M989.5 650.9h0M967.9 666.4h0M1051.4 657.9h0M943 725h0M1009.7 719.5h0M1029.3 752.2h0M977.1 700.3h0M943.4 764.6h0M944.7 741.2h0M1003.4 699.5h0M910.2 727.9h0M1023.6 750.5h0M930.1 728.5h0M1026.5 710h0M932.1 707.5h0M1029.7 713.8h0M985.5 661.6h0M976.5 725.7h0M992.5 716.5h0M958.8 716.2h0M1039.3 725.7h0M1029 748.6h0M968.6 768.5h0M920.7 740.6h0M982.2 767.5h0M1010.7 759h0M952.2 741.8h0M991.5 721.2h0M904.6 722.6h0M1009.5 692.5h0M1003.6 633.9h0M1062.5 673.5h0M972.1 729.5h0M972.9 680.3h0M1038.1 668.3h0M1005.9 732h0M963.8 740.2h0M938.7 736.4h0M967.4 687.1h0M925.2 717.3h0M974.3 719h0M938.1 748.5h0M1031.5 738h0M962.7 686.7h0M923.4 781.2h0M1056.1 661.3h0M1038 685.4h0M927.1 713.9h0M1056.6 669.9h0M977 672.9h0M1013.3 758.5h0M1023.8 644.2h0M1046.7 645.6h0M1027.3 690.5h0M939.4 700.2h0M961.2 725.6h0M970 763.9h0M898.3 710.5h0M1027.8 646.1h0M961.6 760.7h0M1017.8 687.2h0M1005.9 707.3h0M984.8 747.2h0M985.2 674.3h0M938.8 743.7h0M1009.5 727.3h0M933.2 774.3h0M1044.4 647.9h0M1012.4 681.1h0M954.6 711.7h0M961.9 751.3h0M966.5 776.6h0M1006.1 633.5h0M1022.5 698h0M948.1 766.5h0M936.9 770.5h0M974.7 678.9h0M992 662.6h0M962.8 678.9h0M937.8 752.8h0M976.6 740.8h0M1017 756.6h0M1002.3 652.8h0M1010.3 663.7h0M940.7 720.5h0M934.8 742.6h0M957.1 707.1h0M954.9 721.3h0M1020.8 728.8h0M985.7 760.1h0M1007.8 662.3h0M981.3 716.6h0M970.1 730.8h0M1042.7 694.9h0M984.8 709.8h0M1014.9 751.3h0M1000.8 697.9h0M1019.5 756.9h0M953.5 767h0M998.2 734.3h0M909.7 735h0M986.7 756.6h0M934.9 779.4h0M974 694.6h0M1017.5 707.7h0M1009.3 628.1h0M984.5 735.5h0M937.5 718.9h0M962.9 747.5h0M1047.9 672.6h0M974.6 733.9h0M940.5 747.9h0M946.4 689.2h0M1041 639.7h0M990.6 674.4h0M960.8 733.5h0M1023.7 686.3h0M997 722h0M1005.4 772.8h0M1010.1 717.5h0M971.7 695.2h0M966 743.5h0M1013.2 726.3h0M982.1 732.1h0M1035.7 700h0M944.3 775.5h0M965.9 768.8h0M949.1 724.6h0M1036.9 656.9h0M934.2 763.4h0M984.5 745.3h0M981.1 714.7h0M1051.9 663h0M1003.8 742.3h0M970.8 706h0M969.2 722.7h0M1025.3 722.9h0M978.7 735.3h0M929.8 749.6h0M950.3 729.9h0M1011.1 657.8h0M997.5 716.1h0M1042.4 677.7h0M1045.6 714.7h0M965.3 761.9h0M1019.2 666.2h0M1010.6 710.3h0M956.5 700.5h0M912.4 733.8h0M983.9 704.9h0M965.4 755h0M921.4 716.5h0M1032.3 702.1h0M909.9 711.6h0M990.8 692h0M934.6 701.7h0M1036.9 680.1h0M933.2 734.3h0M951.1 757h0M1034.7 711.8h0M1061.7 666.2h0M956.4 736.7h0M1003.2 704.5h0M1051.5 673.9h0M982.6 686.8h0M1008.4 690.2h0M1016.3 635.6h0M1011.7 679.4h0M969 712.6h0M972.6 728.6h0M942.7 730.9h0M1025.7 655.1h0M1027.9 714.2h0M967.9 775.6h0M902.4 729.3h0M978.9 760.4h0M1005.3 624.2h0M1011.5 726.7h0M984.9 664.3h0M1019.2 726.2h0M970.4 670.6h0M1034.8 719.8h0M978.7 705.9h0M1025.3 658.1h0M954.3 719.7h0M949.6 766.2h0M964.8 728.5h0M1005.4 724h0M1017.3 675.8h0M997.5 769h0M952.8 701.3h0M974.5 732.9h0M1034.2 752.8h0M1033.9 661.1h0M978.2 751.3h0M953.1 697.5h0M1010 658.5h0M982.3 775.5h0M1045.7 696.7h0M944.3 688.7h0M1014.5 662.4h0M963.6 766.3h0M1031.1 708.4h0M1019.4 720.5h0M999.5 766.5h0M1033.3 700.1h0M1002.6 664.1h0M1005.7 728.4h0M964.5 739h0M1024.6 632.8h0M930.7 757.4h0M918.4 720.7h0M1023.8 737h0M1009.4 676.4h0M1014.7 706.3h0M996 676.4h0M955.5 757.1h0M1016 630.7h0M942.5 752h0M914.3 714.1h0M1027.1 724.5h0M1020.5 707.7h0M961.3 685.3h0M1030.4 727.2h0M1038.9 705.7h0M1002.6 637.4h0M964.8 763.4h0M1023.5 661.3h0M963.9 775.7h0M987.5 736.6h0M971.2 726.3h0M1022.3 658.5h0M961.3 672.4h0M907.1 723.1h0M983.1 758.7h0M1037.7 700.7h0M946.1 693.7h0M971.3 676.9h0M1036.1 682.9h0M956.4 670h0M1030.3 682.5h0M903.6 716.2h0M936.1 741.4h0M1026.4 640.9h0M979.2 742.7h0M1016.7 643.8h0M916.4 783.4h0M983.8 676.1h0M955.4 746.5h0M997.7 702.4h0M995.1 746.2h0M1005.6 775.1h0M1037 640.9h0M998.7 701.5h0M910.9 719.9h0M1050.5 676.5h0M948.6 777.5h0M943.6 753.7h0M987.9 713.3h0M932.7 720.8h0M1036.4 649.2h0M1058.6 668.9h0M982 703.1h0M1062 671.4h0M969.1 741.6h0M1033.2 700.2h0M1010.7 637.5h0M951.2 701.8h0M996 728.9h0M958.5 697.7h0M1003.8 753.4h0M1036.7 749.1h0M1026 691.9h0M1018.3 758.4h0M1001.5 733.8h0M1014 763.6h0M1001.4 660.3h0M1050.9 709.8h0M1000.8 664.8h0M916.2 735.8h0M1025.6 703.6h0M1037.5 671h0M1026.1 736.1h0M1007.9 732h0M989.7 675.6h0M1038.4 711.8h0M1000 682.4h0M1060.4 677.1h0M970.1 665.5h0M928.4 715.4h0M1018 646.5h0M940.8 716.8h0M951.6 726.5h0M1038.6 677.4h0M915 712.1h0M955.3 723.7h0M974.3 687.9h0M1005.9 766.6h0M1037 651.8h0M1009.5 640.9h0M993.9 644.1h0M1010.3 720.9h0M953.5 717.3h0M985.2 652.6h0M959 770.7h0M984.2 721.7h0M917.4 748.4h0M1004.6 648h0M931.3 773.1h0M1013.9 650.6h0M973.5 770.3h0M1014.5 725.2h0M1018.6 659.9h0M947.7 745.1h0M993.5 682.5h0M924.4 716.4h0M928.7 738.1h0M1004.3 769.9h0M1004.8 770.8h0M956.8 713.5h0M1031.7 668.5h0M1056.4 662.3h0M1038.5 645.5h0M1026.2 761.9h0M1008.7 722.2h0M1014.1 734.3h0M952 718.9h0M1025 689.6h0M975 666.3h0M946.4 724.8h0M986.6 703.3h0M1017.2 645.1h0M1047.4 641.9h0M960.8 713.8h0M941.5 745.6h0M997.7 680.1h0M1028.7 752.6h0M1018.8 747.6h0M1046.2 693.1h0M1025.6 692.2h0M918 740.5h0M1030.7 650.2h0M1005.5 730.9h0M1022 697.7h0M925.3 761.6h0M967.3 751.5h0M958.3 675.6h0M958.5 718h0M975.4 763.7h0M963.1 679.2h0M955.9 674.8h0M980.8 660.8h0M1021 666.5h0M930.1 762.8h0M1023.5 721.5h0M993 731.3h0M976.4 658.1h0M943.2 687.7h0M1007.5 676.9h0M1022.6 741.4h0M994.9 715h0M940.9 711h0M938.7 778.8h0M1005.6 725h0M988.2 690.6h0M930.9 711.5h0M983.7 773.8h0M969.3 735.7h0M990.1 645h0M992.2 746.3h0M949.2 769.5h0M972 683.9h0M976.1 777.9h0M1000.8 637.5h0M966.8 756.9h0M955 705.8h0M1018.1 765h0M957 703.7h0M921.7 752.3h0M980.5 770.9h0M1018.2 692.2h0M940.2 697.6h0M960.2 772.8h0M1030.1 665.5h0M957 693.9h0M1034.4 735.7h0M991.8 764.2h0M988.8 696h0M1015.8 697.4h0M936.9 764.5h0M923.6 782.6h0M955.2 704.9h0M964.4 727.5h0M987.6 694.6h0M912.1 722.8h0M1017.7 758.7h0M1001 661.4h0M952.7 745.5h0M1040.1 734.4h0M1011.7 749.1h0M1042.6 647.8h0M927.8 753.8h0M1025.9 676.5h0M969 702h0M953.2 697.7h0M955.1 727.7h0M1040.6 713.4h0M1043.9 665.4h0M978 718.7h0M932.1 733.7h0M1026.7 675.3h0M1030.8 697.4h0M1037.3 663.2h0M1018.5 677.7h0M952.4 701h0M955.7 700h0M967 767.5h0M1029.8 690.6h0M945.7 714.9h0M1020.4 695.6h0M917.8 782.8h0M1044.9 728.8h0M1001.8 764.6h0M972.5 688h0M971.1 780h0M1001.1 689.1h0M943.4 700.5h0M1027 726.2h0M938.7 778.2h0M1052.8 673h0M899.2 713.2h0M985.6 774.4h0M922.2 782.7h0M953.4 688.1h0M924.3 731.6h0M1024.8 671.1h0M1029.1 694.9h0M983.9 734.7h0M1010.2 725.7h0M1042.1 658.4h0M1043.5 663.7h0M982.4 744.6h0M1010.8 773.9h0M1004.2 678.8h0M918.1 782.8h0M931 720.8h0M969.7 671.3h0M1029.6 708h0M1018.9 649.5h0M1026.5 755.8h0M1011.9 773.4h0M977.6 744.2h0M1012.1 721.1h0M988.8 691.5h0M1041.2 680.5h0M978.2 713.6h0M967 768.4h0M1015.5 655.6h0M944.9 682.7h0M1026 676.3h0M974.5 654h0M976.5 676.6h0M1045.1 731.9h0M921.1 736.4h0M941.7 770.2h0M912.9 730.4h0M962.3 714.8h0M995.9 652.2h0M1014.2 757.7h0M1017.4 643.2h0M994.4 725.1h0M925.2 782.2h0M927.6 725.4h0M986.6 735.1h0M954.2 777.9h0M912.3 722.9h0M1037.7 674.8h0M906.3 711.2h0M1034.6 685.5h0M929.9 745.6h0M972.5 741.1h0M911.5 711.1h0M917.7 776h0M1010.7 653.1h0M962.5 668.6h0M1035.7 742h0M933.8 726.8h0M1019.3 685.1h0M999.1 650.1h0M1017.3 701.6h0M965.7 762.8h0M966.4 712.7h0M999 771.9h0M1002 691.7h0M1017.7 707.7h0M971.1 711.3h0M1023.8 749.5h0M948.6 696.3h0M975.9 723.4h0M970.8 710.5h0M935.9 776.4h0M1025.6 695.6h0M1031.4 723.6h0M993.1 669.8h0M956.7 687.1h0M939.9 781.1h0M929.5 711.1h0M1041.5 683.6h0M1040.6 639.1h0M919.5 763.6h0M914.4 740.6h0M1019.3 647.6h0M1011.7 720.6h0M1042.8 641.3h0M977.3 655.6h0M955.2 775.4h0M1018.5 671.6h0M952.1 780.3h0M1030.6 663.4h0M967 685.2h0M1001.8 752.7h0M1002 765.2h0M923.7 722.2h0M990.3 760.5h0M999.1 630.2h0M1023.6 654.5h0M1005.6 653.4h0M1041.9 718.9h0M961.9 670.7h0M1007.2 685.2h0M1001.6 636.8h0M1029.1 672.1h0M916.2 726.8h0M1012.7 717.7h0M946.1 720.2h0M1029.7 675.6h0M919.3 724.1h0M1022.9 711h0M1028.4 737h0M994.4 715.2h0M997.5 749.1h0M994.5 653.6h0M977.7 737.3h0M1052.2 650.9h0M938.3 736.6h0M1024.2 714.3h0M979.2 775.5h0M942.1 730.8h0M932.5 725.7h0M929.2 731.7h0M899.1 712.3h0M973.8 662.7h0M993.9 741.2h0M1011.1 686.1h0M931.1 724.4h0M957 709.2h0M982.3 735.2h0M982 773.6h0M961.8 700.1h0M999.3 638.1h0M949.2 768h0M1022 745.7h0M921 729.8h0M1034.4 718.7h0M903 718.3h0M905.6 710.1h0M1039.2 708.4h0M1003.5 707.5h0M1009.9 700.4h0M1046.7 652.5h0M907.9 727.6h0M948.7 680.5h0M987.9 728.4h0M957.8 750.1h0M960.6 703.9h0M952.5 687h0M968.6 691.6h0M993 758.4h0M997.2 736h0M966.9 747.6h0M998 739h0M932.3 701.5h0M929.8 720.5h0M1041.2 683.4h0M984.8 693.8h0M951.7 766.7h0M993.5 760.7h0M926 769h0M1014.1 709.2h0M964.7 722.4h0M999.6 722.5h0M932 712h0M987.4 698.3h0M1028.9 699.8h0M997.7 664.4h0M948.6 723.5h0M910.2 739.4h0M990.7 710.7h0M974.8 686.6h0M953.2 692h0M1005.9 705.3h0M1008.3 678.9h0M925.2 749.7h0M992.9 672.3h0M961 777.8h0M1017.7 643.4h0M1016.4 658.7h0M1017.6 764.3h0M972.5 748.5h0M968.1 671.4h0M1002.4 764.4h0M914.5 755.3h0M1049.2 658.4h0M988.8 696.7h0M1023.5 719h0M991.3 720.2h0M999.8 714.5h0M1046 655.9h0M914.8 766h0M976.2 656.8h0M993.6 696.5h0M1004.1 650.4h0M1057.9 674.7h0M1030.8 716.4h0M1012.1 667.9h0M1038.5 643h0M989.3 753.5h0M931.9 780.7h0M1009.5 635.9h0M976.5 773.7h0M939.6 708.2h0M965.2 693.9h0M981.2 733.6h0M1026.9 685.5h0M926 732.9h0M1031.9 737.2h0M965.5 728.8h0M1013.3 751.5h0M1004 636.7h0M940.8 755.3h0M983.9 758.1h0M918.9 752.9h0M1042.4 721.2h0M993.1 748.7h0M1002.1 638.8h0M1034.6 699.3h0M999.7 770.5h0M1029.1 700.3h0M977.4 672.5h0M1003.8 703.8h0M1012.2 711.6h0M1042.9 699.9h0M1004.7 676.6h0M950.3 725.8h0M1043.2 667.2h0M928.6 764.2h0M1001.2 626.7h0M943.5 687.7h0M1010.7 738.6h0M946.6 750h0M971 758.7h0M1006.5 744.9h0M991.6 718.1h0M939.2 752.5h0M976.8 754.2h0M984.3 760.5h0M1013 660.5h0M1046.5 722.3h0M992.8 718.7h0M1031.9 694h0M996.3 661.1h0M908.5 710.9h0M953.1 739.5h0M955.3 767.2h0M946.9 747.2h0M910.7 738.1h0M948.3 723.7h0M918.1 781.9h0M1023.3 758h0M984.8 769.7h0M987 716.6h0M1012.6 666.8h0M968.4 702.6h0M1044.2 664.6h0M1033 687.1h0M937.3 729.6h0M1062.8 668.7h0M1021 629.7h0M967.5 675.3h0M1059.1 676.2h0M1034.4 645.1h0M928.7 720.5h0M1007.5 755.5h0M1017.5 764.6h0M965.5 661.9h0M935.7 776.8h0M1045.1 662.5h0M973.9 698h0M1006.2 737h0M993.7 657h0M1046.3 675.6h0M988.5 762.5h0M1016.3 708.6h0M1010.5 696.1h0M959.3 749.9h0M941.3 756.2h0M1021.2 714.4h0M969.5 741.7h0M1001.8 637.8h0M990.6 776.5h0M974 673.2h0M1017.5 659.7h0M935.2 722.9h0M942.7 704.4h0M1018.2 757.1h0M1021 701.9h0M937.4 758.2h0M1025 748.6h0M974.2 714h0M899.5 713.3h0M995.1 768.6h0M936.9 702.8h0M959 719.6h0M950.6 739.4h0M1049 655.8h0M978.4 752.5h0M945.2 765.5h0M1005.6 729.5h0M1026.8 680.8h0M1024.8 645.4h0M958.1 699.1h0M987.7 767.2h0M980.4 729.3h0M1029.8 686.3h0M969.4 684.1h0M1020.2 629.9h0M995.6 648.7h0M1017.7 631.7h0M1022.9 732.8h0M987.6 764.5h0M1007.9 735.9h0M1060.4 675.4h0M1011.3 636.9h0M969.4 757.8h0M972.1 701.4h0M1061.6 671.4h0M1024.7 704.4h0M1026.8 657.9h0M928.2 733.4h0M926.7 759.3h0M1013.4 718.9h0M1023 671h0M999.2 698.3h0M1011 746.9h0M1013.5 634h0M1000.7 774.4h0M1011.5 752.7h0M950 713h0M960.9 698.6h0M977.8 663.8h0M1009.1 661.7h0M1014 645.7h0M965.3 673.6h0M1047.9 713.7h0M931.9 716.5h0M1021.2 638.9h0M920.8 779.3h0M992 771.4h0M1011.3 713.2h0M931.8 709.8h0M1042.8 722.5h0M918.9 754.4h0M977.2 765.7h0M951.1 761.7h0M1004.4 696h0M922.3 744.2h0M1056.1 673.4h0M922.5 749.2h0M964.1 677.7h0M1012.7 642.2h0M946.2 756.3h0M990.3 649.6h0M1005.8 693.1h0M920.6 749.1h0M1001.5 659.2h0M910.7 722.3h0M949.6 725h0M968.8 698.9h0M953.3 777h0M986 766h0M936.6 715.8h0M1043.5 659.5h0M971.3 671.1h0M966.9 699.6h0M995.9 661.4h0M1025.2 701h0M993.4 710.1h0M1051.9 650.3h0M1050.5 728.1h0M1015.9 674.2h0M1020.6 750.8h0M1004.5 719h0M1027.2 662.8h0M957.5 685h0M996.7 761.9h0M919.1 739.4h0M944.3 769.4h0M934.1 763.6h0M976.9 755.9h0M984.3 691.2h0M1005.7 722.2h0M1000.1 753.6h0M1007.8 701.9h0M1038.2 691.9h0M980.7 731.2h0M1016 767.5h0M1017.2 726.7h0M987.5 682h0M1023.9 760.4h0M976.4 671h0M969.5 754.2h0M1015.8 705h0M974.5 663.6h0M993.9 732.1h0M964.8 738h0M1027 649.8h0M1010.6 673.9h0M1036.6 691.6h0M1002.1 708.9h0M979.1 747.7h0M915.1 727.1h0M1008 753h0M942.9 748.3h0M930.3 744.8h0M929 727.4h0M945.6 688.5h0M976.4 709.2h0M1004.1 748.2h0M1006.1 638.1h0M959.6 685.4h0M955.5 685.5h0M1026.1 693.2h0M954.7 690.4h0M944 725h0M1005.5 746.8h0M971.2 737.8h0M1013.1 662.5h0M965.9 671.8h0M1056.9 666.3h0M1020.9 754.9h0M904.9 727h0M938.4 756.2h0M1001.4 688.7h0M1011.6 694h0M997.7 664.9h0M947.5 714.4h0M939.5 700.6h0M940.4 692.3h0M1043.8 732.9h0M913.6 709.3h0M1045.7 662.8h0M987 769.6h0M1045.1 673.3h0M977.9 713.9h0M1040.7 679.8h0M1000.6 714.2h0M1011.1 634.8h0M1009.1 651.7h0M951.9 683.7h0M939.7 728.5h0M1005.2 749.7h0M918.4 725.2h0M956.5 712.6h0M1019 736.8h0M930.4 701.2h0M965.4 752.4h0M1009.7 764.6h0M1018.8 642h0M980.4 655.6h0M970.1 735h0M1046.9 725.1h0M1015 637.6h0M952.3 769.6h0M1011.9 645.8h0M946.7 687.8h0M1025.1 659.4h0M927.8 740.1h0M1016 650.4h0M1033.8 698.6h0M992.1 743.6h0M1050.7 708.3h0M1016.4 632.4h0M1020.1 731.5h0M947.9 766.1h0M1017.3 766.7h0M1015.6 729.8h0M917.2 728.3h0M1016.3 740.9h0M913.9 743.3h0M1029.1 650.3h0M973.1 703.9h0M1054.8 670.3h0M1050.2 678h0M1016.6 756.6h0M1037.2 639.8h0M933.6 780.6h0M975.7 742.4h0M980.1 670h0M1003.5 636.7h0M1014.7 679.3h0M907.5 732.7h0M1046.1 684.7h0M1036.6 647.1h0M994.6 761.4h0M983.8 767.5h0M952.5 774.7h0M1025.9 733.1h0M927.3 759.6h0M951.8 780.7h0M968.5 774.1h0M1018.5 746.2h0M1023.4 653.4h0M1015.6 697.7h0M1006.1 696.5h0M987.3 655.8h0M1018.9 669.5h0M1036.1 724.7h0M1014.4 735.4h0M992.4 730.1h0M1036.8 678.6h0M989.3 742.4h0M944.8 749.7h0M1030 664.6h0M1039.2 731.6h0M1011.4 680.1h0M960.6 772.8h0M944.4 704.9h0M1036.5 673.1h0M1044.1 700.9h0M1016.8 663.1h0M1060 668.2h0M918.3 774.1h0M1030.1 640.3h0M1030.6 714h0M951.3 777.3h0M985.1 652.9h0M974.5 744.6h0M966.4 697h0M1057.4 662.5h0M904.6 731.5h0M915.5 755.9h0M960.9 647.6h0M956.8 780.2h0M899.5 713.2h0M1060.4 700.1h0M966.3 777h0M1037.8 746.2h0M896.9 712.8h0M915.4 758.1h0M967.2 638h0M999.6 626.1h0M963.7 643.9h0M952.4 779.8h0M915.4 785.6h0M915.4 745h0M954.8 779h0M943 779.7h0M1047.1 735h0M961.5 657.5h0M968.8 636.1h0M901.6 727.4h0M1046.2 713.9h0M1012.8 770.2h0M1042.1 738.3h0M1015.1 772.7h0M1049 709.7h0M989.3 777.1h0M940.7 677h0M975.4 780.7h0M905.3 709.9h0M927.6 709.9h0M1037.9 638.9h0M962.2 657.6h0M922.9 708.7h0M954.3 778.5h0M1023.5 763.7h0M996.4 776.3h0M1002.3 628.9h0M935.9 688.5h0M909.2 707.5h0M907.2 733.4h0M1050.8 726.5h0M985.1 774.1h0M1019.5 764.7h0M954.6 777.2h0M940.3 695.5h0M1042.4 715.3h0M1029.4 638.4h0M917.8 748.7h0M906.4 733.5h0M1045.7 716.8h0M925.8 783.5h0M1052.3 705h0M1035.8 752.5h0M1060.1 696h0M977.8 779.8h0M914.5 785.3h0M943.1 674.3h0M948.2 779.5h0M1036.5 750.8h0M1049 648.8h0M916.3 780.6h0M914.2 773.6h0M918.8 746.7h0M964.3 646.5h0M928.2 782.8h0M916.1 781.5h0M902.8 727.1h0M932.3 684.5h0M1050 711.3h0M994 778.7h0M910 710.4h0M1024.2 759.2h0M922.1 709.3h0M991.8 633.8h0M996.5 630.1h0M950.5 661.9h0M918.5 765.6h0M937.9 699.8h0M924 711.2h0M1010.1 771h0M915.9 759.1h0M896.9 710h0M1015.9 633.3h0M1015.6 631.8h0M963 648h0M963.9 651.1h0M984 640.4h0M958.1 645.2h0M984.6 644.8h0M973.5 635.3h0M962 654.3h0M976.4 644.2h0M966.3 645.2h0M962.8 648.1h0M971.4 650.3h0M975.9 640.9h0M997.8 633.3h0M965.7 647.1h0M985.1 642h0M981.7 642.2h0M976.7 648.3h0M974.1 652.1h0M984.7 645.3h0M999.4 633.5h0M959.5 655.9h0M996.6 640.4h0M967.8 650.2h0M999.3 634.8h0M976.7 649.5h0M966.3 641.4h0M962.7 643.5h0M974 632.8h0M975.3 638.2h0M989.5 641.4h0M969.8 652.1h0M965.4 643h0M948.4 663.1h0M957.4 662.9h0M955.9 659h0M932.6 679.9h0M934.4 675.1h0M938.2 678.2h0M933.2 675.6h0M959 662h0M931.3 678.3h0M951.9 670.2h0M930.5 676.6h0M935.9 674.1h0M941 678h0M939.3 681.2h0M950.9 671.7h0M955.6 659.3h0M939.8 671.9h0M949.4 660.7h0M949.2 664.8h0M942.6 670.1h0M945.7 674.7h0M948.1 671.7h0M932.8 690.5h0M947.6 677.9h0M934.8 685.9h0M959.8 662.4h0M937.9 683.7h0M951.3 669.9h0M953.8 660.1h0M939.1 672.9h0M931.9 685.2h0M938.8 677h0M952 669.4h0M943 671.5h0M939.1 685.9h0M932 686.1h0M1060.8 683.5h0M1052.7 697.3h0M1062.3 677.5h0M1049.4 702.4h0M1048.4 695.6h0M1052.6 695.3h0M1063.4 693.5h0M1053.9 686.2h0M1058.5 694.9h0M1054.3 690.3h0M1056.8 684.3h0M1049.6 693.2h0M1048 694h0M1062.2 700.5h0M1051.1 688.8h0M1064.6 686.9h0M1063 678.2h0M1059.5 699.9h0M1057 695h0M1049.6 691.9h0M1046.8 687.8h0M1048.9 681.6h0M1058.6 679.4h0M1062.4 683.9h0M1047.5 694.6h0M1060.5 694.9h0M1057 692.2h0M1060.5 685.8h0M1063 696.7h0M1062.9 691.8h0M1056.5 697.8h0M1057.7 677.8h0M1064.5 682.7h0M1055.8 689.9h0M1047.9 693.4h0M1057.9 700.1h0M1058.3 685.7h0M1057.4 704.3h0M1058.8 701h0M1050.3 681.6h0M1052.7 682.1h0M1047.7 683h0M1050.6 684.1h0M1062.1 679.4h0M1050 678.6h0M903.9 623.3h0M909.4 696.6h0M964.8 787h0M947 374.9h0M951.3 374.2h0M954.2 376.1h0M966.8 371.3h0M888.5 426.6h0M897.5 438.4h0M911 543.8h0M907.8 546.2h0M901 559.8h0M903.5 563.1h0M899.1 564.6h0M896.7 571.1h0M895.5 573.5h0M896 578.4h0M896.7 584.4h0M903.7 623.1h0M720.7 718h0M727.1 719.8h0M730.3 721.5h0M733.2 718h0M736.7 715.1h0M741 718h0M750 716.1h0M745.4 784.3h0M750.7 792.1h0M747.8 795.6h0M749.5 793.8h0M807.3 776.9h0M808.4 779.3h0M805.5 783.3h0M803.2 781.6h0M802 789.2h0M806.7 791.5h0M807.8 795.6h0M807 793.5h0M720.9 820.1h0M704.2 829.4h0M615.3 441.3h0M620.7 440h0M627.3 438.7h0M628.7 446.7h0M626 451.3h0M616.7 453.3h0M614 457.3h0M616.7 462.7h0M620 462h0M623.3 466.7h0M627.3 462h0M630.7 461.3h0M634.7 466h0M635.3 458.7h0M638 453.3h0M640.7 452h0M635.3 436h0M639.3 440h0M640.7 442.7h0M628.7 428.7h0M646 425.3h0M644.7 430.7h0M644 434.7h0M646.7 435.3h0M651.3 432h0M655.3 434.7h0M659.3 431.3h0M649.3 444h0M650 446.7h0M646 449.3h0M646.7 453.3h0M644.7 457.3h0M642.7 462.7h0M642.7 465.3h0M648.7 457.3h0M651.3 464h0M652.7 458.7h0M656.7 457.3h0M656.7 462.7h0M662 454.7h0M666 453.3h0M663.3 458.7h0M668.7 460.7h0M662 447.3h0M666 445.3h0M668.7 425.3h0M667.3 430.7h0M665.3 436h0M668.7 438.7h0M672.7 436h0M671.3 442.7h0M672.7 446.7h0M674 450.7h0M671.3 454.7h0M675.3 457.3h0M675.3 462h0M674 444h0M610 452.7h0M607.3 448h0M610 444h0M604.7 453.3h0M611.3 458.7h0M608.7 464h0M612.7 466.7h0M610 469.3h0M603.3 458.7h0M591.6 422h0M593.2 417.5h0M589.9 422.9h0M595.5 427.7h0M590.1 429.1h0M596.2 422.1h0M588.5 427.2h0M602.6 437.9h0M589.8 421h0M590.8 435.1h0M592 423.2h0M600.4 437.3h0M591.1 420.4h0M591.8 426h0M595.5 427.4h0M591.9 419.6h0M594.8 428.3h0M585.3 429h0M582.3 423.3h0M587.9 426.2h0M590.9 428h0M597.8 430.1h0M585.6 421.9h0M602.8 436.7h0M626.8 432.3h0M630 439.8h0M614.6 443.1h0M622.3 437.8h0M609.6 445.8h0M628.9 436h0M626.1 435h0M624.9 433h0M619.4 437.5h0M628 447h0M604 443.4h0M623 446.4h0M617 439.7h0M627.6 429.5h0M622.7 445.9h0M625 438.8h0M619.9 452.6h0M622.9 450.8h0M614.3 445h0M619.7 452.4h0M629.9 446.9h0M607.4 442.1h0M628.1 428.6h0M619.9 450h0M613.6 445.8h0M620.1 447h0M700.8 576.7h0M705.8 578.3h0M707 580.3h0M712.5 584.2h0M710.8 582h0M714.2 950h0M713.7 952.5h0M715.3 947.5h0" stroke="#d3d3d3" stroke-width="5.6" stroke-linecap="round" fill="none"/>
<path d="M353.5 729.3h0M379.5 728.3h0M351.8 737.2h0M321.8 775.3h0M315 779h0M371.2 784h0M341 797.2h0M345.3 798.8h0M318 800.5h0M313.2 805.3h0M317.5 821.7h0M290.5 831.7h0M346.7 832.5h0M377.2 833.5h0M392.3 836.3h0M324.7 840h0M377.8 841.5h0M303.2 845.3h0M358.3 849.3h0M311.3 856.3h0M341.3 857.3h0M426.8 819.8h0M431.3 832h0M434 839.5h0M456.8 852.7h0M504 872.5h0M518 969h0" stroke="#0000ff" stroke-width="5.6" stroke-linecap="round" fill="none"/>
<g stroke="#000" fill="none">
<path d="M95.5 51V1121" stroke-width="3"/>
<path d="M94 1119.5H1118" stroke-width="3"/>
<g stroke-width="3">
<path d="M141.8 1121v3.8M307.5 1121v3.8M473.3 1121v3.8M639 1121v3.8M804.8 1121v3.8M970.5 1121v3.8"/>
<path d="M94 277.3h-3.8M94 571.3h-3.8M94 865.3h-3.8"/>
</g></g>
<g id="txt" style="filter:grayscale(1)">
<text x="606.5" y="37" font-size="34" font-weight="bold" text-anchor="middle">Gm42517</text>
<g font-size="30" text-anchor="middle">
<text x="141.8" y="1148">-15</text><text x="307.5" y="1148">-10</text><text x="473.3" y="1148">-5</text>
<text x="639" y="1148">0</text><text x="804.8" y="1148">5</text><text x="970.5" y="1148">10</text>
</g>
<g font-size="30" text-anchor="end">
<text x="88.7" y="288">10</text><text x="88.7" y="582">0</text><text x="88.7" y="876">-10</text>
</g>
<text x="604.3" y="1180.5" font-size="29.8" text-anchor="middle">umapNC_1</text>
<text transform="translate(33.9,586) rotate(-90)" font-size="30" text-anchor="middle">umapNC_2</text>
<g font-size="25.1">
<text x="1153.1" y="567.9">0.6</text><text x="1153.1" y="590">0.4</text><text x="1153.1" y="612.1">0.2</text><text x="1153.1" y="634.2">0.0</text>
</g>
</g>
<rect x="1130" y="547.5" width="15.7" height="76.5" fill="url(#lg)"/>
<path d="M1130 558.1h3.2M1142.5 558.1h3.2M1130 580.3h3.2M1142.5 580.3h3.2M1130 602.4h3.2M1142.5 602.4h3.2" stroke="#fff" stroke-width="0.7" stroke-opacity="0.85"/>
</svg>
</body></html>
